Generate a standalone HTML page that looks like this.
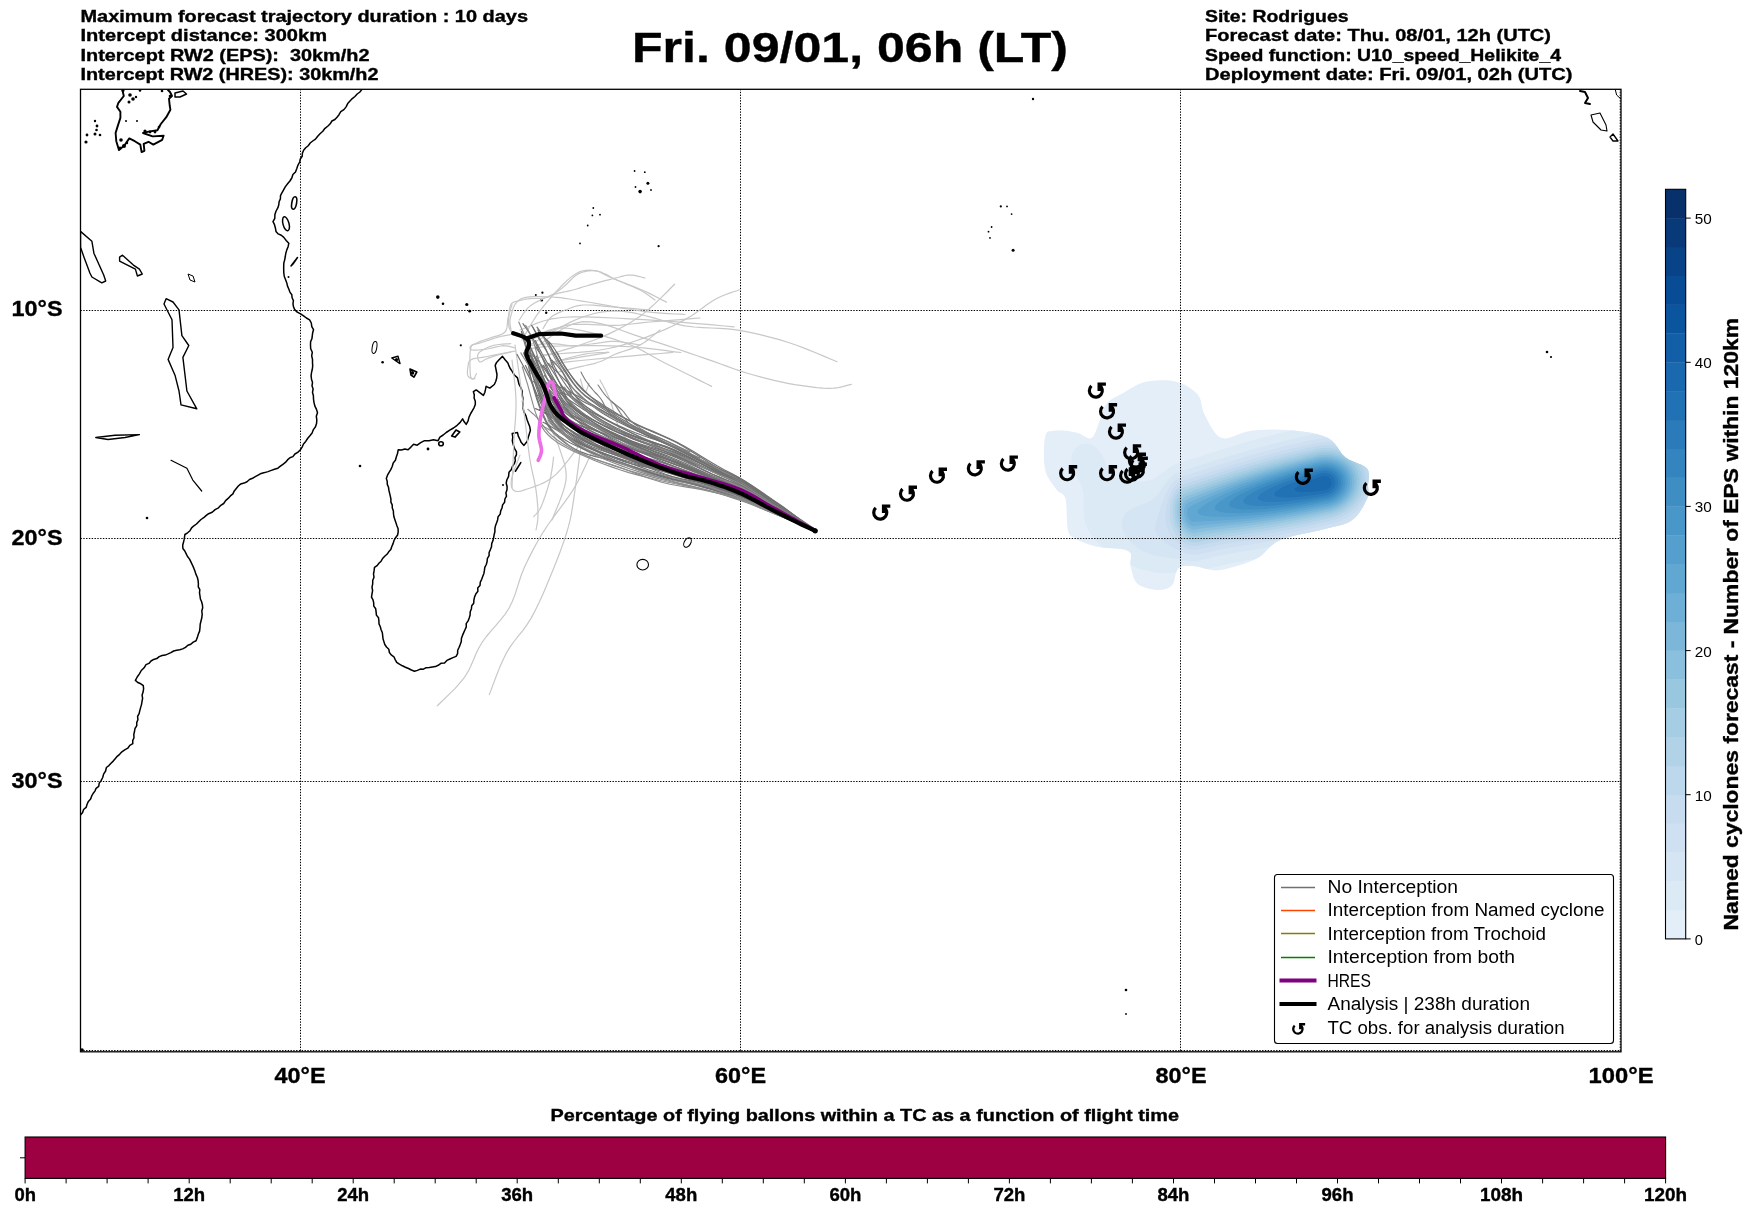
<!DOCTYPE html><html><head><meta charset="utf-8"><style>html,body{margin:0;padding:0;background:#fff;width:1752px;height:1213px;overflow:hidden}svg{display:block;will-change:transform}text{font-family:"Liberation Sans",sans-serif}</style></head><body>
<svg width="1752" height="1213" viewBox="0 0 1752 1213">
<rect width="1752" height="1213" fill="#fff"/>
<text x="80.5" y="22.0" font-size="16.5" font-weight="bold" text-anchor="start" fill="#000" stroke="#000" stroke-width="0.35" textLength="447.5" lengthAdjust="spacingAndGlyphs" >Maximum forecast trajectory duration : 10 days</text>
<text x="80.5" y="41.3" font-size="16.5" font-weight="bold" text-anchor="start" fill="#000" stroke="#000" stroke-width="0.35" textLength="246.5" lengthAdjust="spacingAndGlyphs" >Intercept distance: 300km</text>
<text x="80.5" y="60.6" font-size="16.5" font-weight="bold" text-anchor="start" fill="#000" stroke="#000" stroke-width="0.35" textLength="289.0" lengthAdjust="spacingAndGlyphs" >Intercept RW2 (EPS):  30km/h2</text>
<text x="80.5" y="79.9" font-size="16.5" font-weight="bold" text-anchor="start" fill="#000" stroke="#000" stroke-width="0.35" textLength="298.0" lengthAdjust="spacingAndGlyphs" >Intercept RW2 (HRES): 30km/h2</text>
<text x="1205" y="22.0" font-size="16.5" font-weight="bold" text-anchor="start" fill="#000" stroke="#000" stroke-width="0.35" textLength="143.5" lengthAdjust="spacingAndGlyphs" >Site: Rodrigues</text>
<text x="1205" y="41.3" font-size="16.5" font-weight="bold" text-anchor="start" fill="#000" stroke="#000" stroke-width="0.35" textLength="346.0" lengthAdjust="spacingAndGlyphs" >Forecast date: Thu. 08/01, 12h (UTC)</text>
<text x="1205" y="60.6" font-size="16.5" font-weight="bold" text-anchor="start" fill="#000" stroke="#000" stroke-width="0.35" textLength="356.0" lengthAdjust="spacingAndGlyphs" >Speed function: U10_speed_Helikite_4</text>
<text x="1205" y="79.9" font-size="16.5" font-weight="bold" text-anchor="start" fill="#000" stroke="#000" stroke-width="0.35" textLength="367.5" lengthAdjust="spacingAndGlyphs" >Deployment date: Fri. 09/01, 02h (UTC)</text>
<text x="632" y="61.8" font-size="42.6" font-weight="bold" text-anchor="start" fill="#000" stroke="#000" stroke-width="0.35" textLength="436" lengthAdjust="spacingAndGlyphs" >Fri. 09/01, 06h (LT)</text>
<defs><clipPath id="mc"><rect x="80.5" y="89.5" width="1540.5" height="962"/></clipPath></defs>
<g clip-path="url(#mc)">
<defs><clipPath id="bc"><polygon points="1046.0,433.7 1046.6,433.4 1047.4,432.9 1048.3,432.4 1049.4,431.8 1050.6,431.4 1052.0,431.0 1053.6,430.8 1055.3,430.6 1057.2,430.4 1059.2,430.4 1061.3,430.4 1063.4,430.5 1065.7,430.7 1068.1,431.0 1070.6,431.4 1073.1,431.9 1075.6,432.4 1078.0,433.0 1080.4,434.0 1082.8,435.4 1085.2,436.8 1087.5,438.0 1089.6,438.6 1091.6,438.1 1093.3,436.4 1094.8,433.7 1096.2,430.4 1097.5,426.8 1098.8,423.2 1100.0,420.0 1101.1,417.1 1102.0,414.1 1102.8,411.2 1103.8,408.5 1105.1,405.8 1106.8,403.4 1109.0,401.3 1111.6,399.3 1114.5,397.6 1117.6,395.9 1120.8,394.2 1124.1,392.5 1127.4,390.6 1130.7,388.5 1134.1,386.4 1137.8,384.5 1141.6,382.9 1145.8,381.7 1150.5,380.9 1155.6,380.4 1161.0,380.2 1166.4,380.3 1171.5,380.8 1176.2,381.7 1180.5,383.0 1184.6,384.8 1188.5,387.0 1192.1,389.4 1195.3,392.0 1197.9,394.7 1199.7,397.5 1200.8,400.6 1201.4,403.8 1202.0,407.1 1202.9,410.6 1204.4,414.2 1206.5,418.3 1208.9,423.0 1211.6,427.8 1214.6,432.3 1217.9,435.9 1221.7,438.1 1225.9,438.6 1230.5,437.6 1235.4,435.8 1240.7,433.6 1246.3,431.7 1252.1,430.5 1258.4,430.0 1265.3,429.7 1272.4,429.6 1279.6,429.7 1286.7,430.0 1293.3,430.5 1299.7,431.2 1306.0,432.0 1312.1,433.1 1318.0,434.4 1323.3,436.1 1328.0,438.1 1331.8,440.8 1334.9,444.0 1337.5,447.6 1339.9,451.3 1342.4,454.7 1345.3,457.6 1348.9,459.8 1353.0,461.6 1357.2,463.2 1361.1,464.7 1364.5,466.4 1367.0,468.4 1368.4,470.9 1368.9,473.6 1368.9,476.5 1368.6,479.5 1368.2,482.3 1368.0,485.0 1368.1,487.4 1368.3,489.5 1368.5,491.6 1368.5,493.7 1368.0,496.1 1367.0,498.8 1365.4,502.1 1363.5,505.9 1361.1,510.0 1358.3,513.9 1355.2,517.5 1351.8,520.5 1348.0,522.7 1344.0,524.3 1339.5,525.5 1334.7,526.6 1329.4,527.8 1323.7,529.2 1317.1,530.8 1309.6,532.4 1301.6,534.1 1293.7,535.8 1286.5,537.8 1280.3,540.0 1275.4,542.6 1271.5,545.6 1268.1,548.8 1265.0,552.0 1262.0,554.9 1258.6,557.4 1255.0,559.4 1251.4,561.1 1247.8,562.5 1244.1,563.8 1240.5,564.9 1236.9,566.0 1233.3,567.1 1229.7,568.1 1226.1,569.0 1222.4,569.7 1218.8,570.2 1215.2,570.4 1211.5,570.1 1207.7,569.3 1203.9,568.3 1200.3,567.3 1196.7,566.5 1193.5,566.0 1190.5,565.8 1187.6,565.7 1185.0,565.7 1182.5,566.1 1180.3,566.9 1178.3,568.2 1176.8,570.4 1175.8,573.4 1175.0,576.8 1174.3,580.2 1173.3,583.3 1171.8,585.6 1169.8,587.2 1167.5,588.4 1165.0,589.2 1162.3,589.8 1159.5,590.0 1156.6,589.9 1153.4,589.6 1149.9,588.9 1146.3,588.0 1142.8,586.8 1139.6,585.2 1137.1,583.4 1135.2,581.1 1133.8,578.3 1132.8,575.2 1132.0,572.0 1131.3,568.9 1130.6,566.0 1130.3,563.2 1130.7,560.4 1131.1,557.6 1131.2,555.1 1130.5,552.8 1128.4,550.9 1124.6,549.6 1119.4,548.8 1113.4,548.3 1107.1,547.9 1101.0,547.4 1095.9,546.5 1091.5,545.3 1087.3,543.9 1083.4,542.5 1079.9,540.9 1076.8,539.4 1074.2,537.9 1072.2,536.7 1070.7,535.8 1069.7,534.9 1069.0,533.7 1068.4,531.9 1067.7,529.2 1067.2,525.1 1066.9,519.9 1066.7,514.0 1066.5,508.1 1066.2,502.9 1065.5,498.8 1064.5,496.2 1063.2,494.6 1061.7,493.6 1060.2,492.8 1058.5,491.8 1056.9,490.1 1055.1,487.8 1053.1,485.1 1051.0,482.3 1049.1,479.2 1047.3,476.0 1046.0,472.8 1045.1,469.4 1044.5,465.7 1044.1,462.0 1044.0,458.2 1043.9,454.5 1043.9,451.1 1044.0,447.8 1044.1,444.4 1044.4,441.2 1044.9,438.3 1045.4,435.7 1046.0,433.7 1046.8,432.4 1047.9,431.6 1049.1,431.3 1050.3,431.2 1051.3,431.1 1052.0,431.0"/></clipPath></defs>
<polygon points="1046.0,433.7 1046.6,433.4 1047.4,432.9 1048.3,432.4 1049.4,431.8 1050.6,431.4 1052.0,431.0 1053.6,430.8 1055.3,430.6 1057.2,430.4 1059.2,430.4 1061.3,430.4 1063.4,430.5 1065.7,430.7 1068.1,431.0 1070.6,431.4 1073.1,431.9 1075.6,432.4 1078.0,433.0 1080.4,434.0 1082.8,435.4 1085.2,436.8 1087.5,438.0 1089.6,438.6 1091.6,438.1 1093.3,436.4 1094.8,433.7 1096.2,430.4 1097.5,426.8 1098.8,423.2 1100.0,420.0 1101.1,417.1 1102.0,414.1 1102.8,411.2 1103.8,408.5 1105.1,405.8 1106.8,403.4 1109.0,401.3 1111.6,399.3 1114.5,397.6 1117.6,395.9 1120.8,394.2 1124.1,392.5 1127.4,390.6 1130.7,388.5 1134.1,386.4 1137.8,384.5 1141.6,382.9 1145.8,381.7 1150.5,380.9 1155.6,380.4 1161.0,380.2 1166.4,380.3 1171.5,380.8 1176.2,381.7 1180.5,383.0 1184.6,384.8 1188.5,387.0 1192.1,389.4 1195.3,392.0 1197.9,394.7 1199.7,397.5 1200.8,400.6 1201.4,403.8 1202.0,407.1 1202.9,410.6 1204.4,414.2 1206.5,418.3 1208.9,423.0 1211.6,427.8 1214.6,432.3 1217.9,435.9 1221.7,438.1 1225.9,438.6 1230.5,437.6 1235.4,435.8 1240.7,433.6 1246.3,431.7 1252.1,430.5 1258.4,430.0 1265.3,429.7 1272.4,429.6 1279.6,429.7 1286.7,430.0 1293.3,430.5 1299.7,431.2 1306.0,432.0 1312.1,433.1 1318.0,434.4 1323.3,436.1 1328.0,438.1 1331.8,440.8 1334.9,444.0 1337.5,447.6 1339.9,451.3 1342.4,454.7 1345.3,457.6 1348.9,459.8 1353.0,461.6 1357.2,463.2 1361.1,464.7 1364.5,466.4 1367.0,468.4 1368.4,470.9 1368.9,473.6 1368.9,476.5 1368.6,479.5 1368.2,482.3 1368.0,485.0 1368.1,487.4 1368.3,489.5 1368.5,491.6 1368.5,493.7 1368.0,496.1 1367.0,498.8 1365.4,502.1 1363.5,505.9 1361.1,510.0 1358.3,513.9 1355.2,517.5 1351.8,520.5 1348.0,522.7 1344.0,524.3 1339.5,525.5 1334.7,526.6 1329.4,527.8 1323.7,529.2 1317.1,530.8 1309.6,532.4 1301.6,534.1 1293.7,535.8 1286.5,537.8 1280.3,540.0 1275.4,542.6 1271.5,545.6 1268.1,548.8 1265.0,552.0 1262.0,554.9 1258.6,557.4 1255.0,559.4 1251.4,561.1 1247.8,562.5 1244.1,563.8 1240.5,564.9 1236.9,566.0 1233.3,567.1 1229.7,568.1 1226.1,569.0 1222.4,569.7 1218.8,570.2 1215.2,570.4 1211.5,570.1 1207.7,569.3 1203.9,568.3 1200.3,567.3 1196.7,566.5 1193.5,566.0 1190.5,565.8 1187.6,565.7 1185.0,565.7 1182.5,566.1 1180.3,566.9 1178.3,568.2 1176.8,570.4 1175.8,573.4 1175.0,576.8 1174.3,580.2 1173.3,583.3 1171.8,585.6 1169.8,587.2 1167.5,588.4 1165.0,589.2 1162.3,589.8 1159.5,590.0 1156.6,589.9 1153.4,589.6 1149.9,588.9 1146.3,588.0 1142.8,586.8 1139.6,585.2 1137.1,583.4 1135.2,581.1 1133.8,578.3 1132.8,575.2 1132.0,572.0 1131.3,568.9 1130.6,566.0 1130.3,563.2 1130.7,560.4 1131.1,557.6 1131.2,555.1 1130.5,552.8 1128.4,550.9 1124.6,549.6 1119.4,548.8 1113.4,548.3 1107.1,547.9 1101.0,547.4 1095.9,546.5 1091.5,545.3 1087.3,543.9 1083.4,542.5 1079.9,540.9 1076.8,539.4 1074.2,537.9 1072.2,536.7 1070.7,535.8 1069.7,534.9 1069.0,533.7 1068.4,531.9 1067.7,529.2 1067.2,525.1 1066.9,519.9 1066.7,514.0 1066.5,508.1 1066.2,502.9 1065.5,498.8 1064.5,496.2 1063.2,494.6 1061.7,493.6 1060.2,492.8 1058.5,491.8 1056.9,490.1 1055.1,487.8 1053.1,485.1 1051.0,482.3 1049.1,479.2 1047.3,476.0 1046.0,472.8 1045.1,469.4 1044.5,465.7 1044.1,462.0 1044.0,458.2 1043.9,454.5 1043.9,451.1 1044.0,447.8 1044.1,444.4 1044.4,441.2 1044.9,438.3 1045.4,435.7 1046.0,433.7 1046.8,432.4 1047.9,431.6 1049.1,431.3 1050.3,431.2 1051.3,431.1 1052.0,431.0" fill="#e3eef9"/>
<g clip-path="url(#bc)">
<path d="M1316.0,425.7L1318.0,425.4L1320.0,425.2L1322.0,425.0L1324.0,424.8L1326.0,424.7L1328.0,424.6L1330.0,424.6L1332.0,424.6L1334.0,424.6L1336.0,424.7L1338.0,424.8L1340.0,424.9L1342.0,425.0L1344.0,425.2L1346.0,425.5L1348.0,425.8L1349.4,426.0L1350.0,426.1L1352.0,426.4L1354.0,426.8L1356.0,427.2L1358.0,427.6L1359.7,428.0L1360.0,428.1L1362.0,428.5L1364.0,429.0L1366.0,429.6L1367.4,430.0L1368.0,430.2L1370.0,430.8L1372.0,431.4L1373.9,432.0L1374.0,432.0L1376.0,432.7L1378.0,433.4L1379.6,434.0L1380.0,434.2L1382.0,434.9L1384.0,435.7L1384.8,436.0L1386.0,436.5L1388.0,437.4L1388.0,438.0L1388.0,440.0L1388.0,442.0L1388.0,444.0L1388.0,446.0L1388.0,448.0L1388.0,450.0L1388.0,452.0L1388.0,454.0L1388.0,456.0L1388.0,458.0L1388.0,460.0L1388.0,462.0L1388.0,464.0L1388.0,466.0L1388.0,468.0L1388.0,470.0L1388.0,472.0L1388.0,474.0L1388.0,476.0L1388.0,478.0L1388.0,480.0L1388.0,482.0L1388.0,484.0L1388.0,486.0L1388.0,488.0L1388.0,490.0L1388.0,492.0L1388.0,494.0L1388.0,496.0L1388.0,498.0L1388.0,500.0L1388.0,502.0L1388.0,504.0L1388.0,506.0L1388.0,508.0L1388.0,510.0L1388.0,510.9L1386.8,512.0L1386.0,512.8L1384.6,514.0L1384.0,514.5L1382.3,516.0L1382.0,516.3L1380.0,517.9L1379.9,518.0L1378.0,519.5L1377.4,520.0L1376.0,521.1L1374.8,522.0L1374.0,522.6L1372.0,524.0L1372.0,524.0L1370.0,525.4L1369.0,526.0L1368.0,526.7L1366.0,527.9L1365.9,528.0L1364.0,529.1L1362.5,530.0L1362.0,530.3L1360.0,531.4L1358.8,532.0L1358.0,532.4L1356.0,533.4L1354.8,534.0L1354.0,534.4L1352.0,535.3L1350.3,536.0L1350.0,536.1L1348.0,537.0L1346.0,537.8L1345.3,538.0L1344.0,538.5L1342.0,539.2L1340.0,539.8L1339.4,540.0L1338.0,540.5L1336.0,541.1L1334.0,541.6L1332.5,542.0L1332.0,542.1L1330.0,542.7L1328.0,543.3L1326.0,543.8L1325.2,544.0L1324.0,544.3L1322.0,544.9L1320.0,545.4L1318.0,545.9L1317.6,546.0L1316.0,546.4L1314.0,546.9L1312.0,547.4L1310.0,547.9L1309.6,548.0L1308.0,548.4L1306.0,548.9L1304.0,549.4L1302.0,549.8L1301.3,550.0L1300.0,550.3L1298.0,550.8L1296.0,551.2L1294.0,551.7L1292.4,552.0L1292.0,552.1L1290.0,552.6L1288.0,553.0L1286.0,553.4L1284.0,553.8L1282.9,554.0L1282.0,554.2L1280.0,554.6L1278.0,555.0L1276.0,555.4L1274.0,555.8L1272.6,556.0L1272.0,556.1L1270.0,556.5L1268.0,556.9L1266.0,557.2L1264.0,557.6L1262.0,557.9L1261.4,558.0L1260.0,558.3L1258.0,558.6L1256.0,559.0L1254.0,559.3L1252.0,559.6L1250.0,559.9L1249.6,560.0L1248.0,560.3L1246.0,560.6L1244.0,561.0L1242.0,561.3L1240.0,561.7L1238.1,562.0L1238.0,562.0L1236.0,562.4L1234.0,562.8L1232.0,563.2L1230.0,563.6L1228.0,564.0L1227.8,564.0L1226.0,564.4L1224.0,564.9L1222.0,565.3L1220.0,565.7L1218.9,566.0L1218.0,566.2L1216.0,566.7L1214.0,567.2L1212.0,567.7L1210.9,568.0L1210.0,568.2L1208.0,568.8L1206.0,569.3L1204.0,569.8L1203.4,570.0L1202.0,570.3L1200.0,570.8L1198.0,571.1L1196.0,571.4L1194.0,571.6L1192.0,571.8L1190.0,572.0L1189.9,572.0L1188.0,572.1L1186.0,572.3L1184.0,572.4L1182.0,572.5L1180.0,572.6L1178.0,572.7L1176.0,572.8L1174.0,572.9L1172.0,573.0L1170.0,573.1L1168.0,573.1L1166.0,573.1L1164.0,573.0L1162.0,573.0L1160.0,572.8L1158.0,572.7L1156.0,572.5L1154.0,572.2L1152.9,572.0L1152.0,571.9L1150.0,571.5L1148.0,571.1L1146.0,570.6L1144.0,570.1L1143.8,570.0L1142.0,569.5L1140.0,568.9L1138.0,568.2L1137.5,568.0L1136.0,567.4L1134.0,566.6L1132.5,566.0L1132.0,565.8L1130.0,564.9L1128.1,564.0L1128.0,564.0L1126.0,563.0L1124.2,562.0L1124.0,561.9L1122.0,560.8L1120.6,560.0L1120.0,559.7L1118.0,558.5L1117.3,558.0L1116.0,557.2L1114.2,556.0L1114.0,555.9L1112.0,554.5L1111.2,554.0L1110.0,553.1L1108.5,552.0L1108.0,551.6L1106.0,550.1L1105.9,550.0L1104.0,548.5L1103.4,548.0L1102.0,546.7L1101.2,546.0L1100.0,544.9L1099.0,544.0L1098.0,543.0L1097.0,542.0L1096.0,540.9L1095.2,540.0L1094.0,538.5L1093.6,538.0L1092.0,536.0L1092.0,536.0L1090.7,534.0L1090.0,532.9L1089.4,532.0L1088.3,530.0L1088.0,529.3L1087.4,528.0L1086.5,526.0L1086.0,524.4L1085.8,524.0L1085.3,522.0L1084.8,520.0L1084.4,518.0L1084.1,516.0L1084.0,514.9L1083.9,514.0L1083.8,512.0L1083.7,510.0L1083.7,508.0L1083.7,506.0L1083.7,504.0L1083.8,502.0L1083.8,500.0L1083.8,498.0L1083.7,496.0L1083.5,494.0L1083.3,492.0L1082.8,490.0L1082.3,488.0L1082.0,487.3L1081.6,486.0L1080.7,484.0L1080.0,482.7L1079.7,482.0L1078.6,480.0L1078.0,478.9L1077.5,478.0L1076.4,476.0L1076.0,475.3L1075.4,474.0L1074.4,472.0L1074.0,471.1L1073.5,470.0L1072.8,468.0L1072.2,466.0L1072.0,465.0L1071.8,464.0L1071.5,462.0L1071.4,460.0L1071.5,458.0L1071.8,456.0L1072.0,455.1L1072.3,454.0L1073.1,452.0L1074.0,450.3L1074.2,450.0L1075.8,448.0L1076.0,447.8L1078.0,446.1L1078.2,446.0L1080.0,445.0L1082.0,444.2L1083.1,444.0L1084.0,443.8L1086.0,443.7L1088.0,443.9L1088.6,444.0L1090.0,444.3L1092.0,445.1L1093.7,446.0L1094.0,446.2L1096.0,447.6L1096.4,448.0L1098.0,449.5L1098.4,450.0L1100.0,452.0L1100.0,452.0L1101.3,454.0L1102.0,455.3L1102.4,456.0L1103.3,458.0L1104.0,459.6L1104.2,460.0L1105.0,462.0L1105.7,464.0L1106.0,464.7L1106.5,466.0L1107.4,468.0L1108.0,469.2L1108.4,470.0L1109.6,472.0L1110.0,472.5L1111.3,474.0L1112.0,474.7L1113.5,476.0L1114.0,476.3L1116.0,477.5L1116.9,478.0L1118.0,478.5L1120.0,479.2L1122.0,479.8L1122.7,480.0L1124.0,480.3L1126.0,480.7L1128.0,481.0L1130.0,481.2L1132.0,481.4L1134.0,481.5L1136.0,481.6L1138.0,481.6L1140.0,481.6L1142.0,481.5L1144.0,481.3L1146.0,481.1L1148.0,480.7L1150.0,480.1L1150.4,480.0L1152.0,479.4L1154.0,478.5L1154.8,478.0L1156.0,477.3L1158.0,476.0L1158.0,476.0L1160.0,474.5L1160.6,474.0L1162.0,472.9L1163.2,472.0L1164.0,471.3L1165.8,470.0L1166.0,469.8L1168.0,468.4L1168.5,468.0L1170.0,467.0L1171.7,466.0L1172.0,465.8L1174.0,464.8L1175.7,464.0L1176.0,463.9L1178.0,463.1L1180.0,462.5L1181.8,462.0L1182.0,461.9L1184.0,461.3L1186.0,460.7L1188.0,460.2L1188.6,460.0L1190.0,459.6L1192.0,458.9L1194.0,458.3L1195.1,458.0L1196.0,457.7L1198.0,457.1L1200.0,456.4L1201.5,456.0L1202.0,455.8L1204.0,455.2L1206.0,454.5L1207.7,454.0L1208.0,453.9L1210.0,453.2L1212.0,452.6L1214.0,452.0L1214.0,452.0L1216.0,451.3L1218.0,450.7L1220.0,450.1L1220.3,450.0L1222.0,449.4L1224.0,448.8L1226.0,448.2L1226.7,448.0L1228.0,447.6L1230.0,446.9L1232.0,446.3L1233.2,446.0L1234.0,445.7L1236.0,445.1L1238.0,444.5L1239.9,444.0L1240.0,444.0L1242.0,443.3L1244.0,442.8L1246.0,442.2L1246.7,442.0L1248.0,441.6L1250.0,441.0L1252.0,440.5L1253.9,440.0L1254.0,440.0L1256.0,439.4L1258.0,438.8L1260.0,438.3L1261.2,438.0L1262.0,437.8L1264.0,437.2L1266.0,436.7L1268.0,436.2L1268.9,436.0L1270.0,435.7L1272.0,435.2L1274.0,434.7L1276.0,434.2L1277.0,434.0L1278.0,433.7L1280.0,433.2L1282.0,432.8L1284.0,432.3L1285.5,432.0L1286.0,431.9L1288.0,431.4L1290.0,430.9L1292.0,430.5L1294.0,430.1L1294.4,430.0L1296.0,429.6L1298.0,429.2L1300.0,428.8L1302.0,428.4L1303.8,428.0L1304.0,428.0L1306.0,427.5L1308.0,427.1L1310.0,426.7L1312.0,426.3L1314.0,426.0L1314.1,426.0Z" fill="#dceaf6" fill-rule="nonzero"/>
<path d="M1318.0,433.8L1320.0,433.5L1322.0,433.3L1324.0,433.2L1326.0,433.1L1328.0,433.1L1330.0,433.1L1332.0,433.1L1334.0,433.2L1336.0,433.4L1338.0,433.6L1340.0,433.9L1340.8,434.0L1342.0,434.2L1344.0,434.5L1346.0,434.9L1348.0,435.4L1350.0,435.9L1350.2,436.0L1352.0,436.5L1354.0,437.2L1356.0,437.9L1356.3,438.0L1358.0,438.6L1360.0,439.5L1361.2,440.0L1362.0,440.4L1364.0,441.3L1365.2,442.0L1366.0,442.4L1368.0,443.5L1368.8,444.0L1370.0,444.8L1371.8,446.0L1372.0,446.1L1374.0,447.6L1374.5,448.0L1376.0,449.2L1377.0,450.0L1378.0,451.0L1379.1,452.0L1380.0,452.9L1381.0,454.0L1382.0,455.2L1382.7,456.0L1384.0,457.8L1384.1,458.0L1385.4,460.0L1386.0,461.1L1386.5,462.0L1387.4,464.0L1388.0,465.8L1388.0,466.0L1388.0,468.0L1388.0,470.0L1388.0,472.0L1388.0,474.0L1388.0,476.0L1388.0,478.0L1388.0,480.0L1388.0,482.0L1388.0,484.0L1388.0,484.8L1387.7,486.0L1387.0,488.0L1386.2,490.0L1386.0,490.4L1385.3,492.0L1384.4,494.0L1384.0,494.6L1383.3,496.0L1382.1,498.0L1382.0,498.1L1380.8,500.0L1380.0,501.2L1379.5,502.0L1378.0,504.0L1378.0,504.0L1376.4,506.0L1376.0,506.4L1374.7,508.0L1374.0,508.7L1372.8,510.0L1372.0,510.9L1370.9,512.0L1370.0,512.8L1368.7,514.0L1368.0,514.6L1366.4,516.0L1366.0,516.4L1364.0,517.9L1363.9,518.0L1362.0,519.4L1361.2,520.0L1360.0,520.9L1358.2,522.0L1358.0,522.2L1356.0,523.4L1354.9,524.0L1354.0,524.6L1352.0,525.6L1351.3,526.0L1350.0,526.6L1348.0,527.6L1347.0,528.0L1346.0,528.5L1344.0,529.3L1342.1,530.0L1342.0,530.0L1340.0,530.8L1338.0,531.4L1336.0,532.0L1336.0,532.0L1334.0,532.6L1332.0,533.1L1330.0,533.6L1328.4,534.0L1328.0,534.1L1326.0,534.6L1324.0,535.2L1322.0,535.6L1320.5,536.0L1320.0,536.1L1318.0,536.6L1316.0,537.1L1314.0,537.6L1312.3,538.0L1312.0,538.1L1310.0,538.6L1308.0,539.0L1306.0,539.5L1304.0,539.9L1303.7,540.0L1302.0,540.4L1300.0,540.9L1298.0,541.3L1296.0,541.7L1294.7,542.0L1294.0,542.2L1292.0,542.6L1290.0,543.0L1288.0,543.4L1286.0,543.8L1285.1,544.0L1284.0,544.2L1282.0,544.6L1280.0,545.0L1278.0,545.4L1276.0,545.8L1274.8,546.0L1274.0,546.2L1272.0,546.5L1270.0,546.9L1268.0,547.3L1266.0,547.6L1264.0,547.9L1263.7,548.0L1262.0,548.3L1260.0,548.7L1258.0,549.0L1256.0,549.3L1254.0,549.7L1252.0,550.0L1251.8,550.0L1250.0,550.3L1248.0,550.7L1246.0,551.0L1244.0,551.3L1242.0,551.6L1240.0,552.0L1239.8,552.0L1238.0,552.3L1236.0,552.7L1234.0,553.0L1232.0,553.4L1230.0,553.8L1228.7,554.0L1228.0,554.1L1226.0,554.5L1224.0,554.9L1222.0,555.3L1220.0,555.8L1218.8,556.0L1218.0,556.2L1216.0,556.6L1214.0,557.1L1212.0,557.6L1210.1,558.0L1210.0,558.0L1208.0,558.5L1206.0,559.0L1204.0,559.5L1202.1,560.0L1202.0,560.0L1200.0,560.5L1198.0,560.8L1196.0,561.0L1194.0,561.1L1192.0,561.1L1190.0,561.0L1188.0,560.8L1186.0,560.6L1184.0,560.3L1182.4,560.0L1182.0,559.9L1180.0,559.6L1178.0,559.3L1176.0,558.9L1174.0,558.6L1172.0,558.2L1170.3,558.0L1170.0,558.0L1168.0,557.7L1166.0,557.4L1164.0,557.1L1162.0,556.9L1160.0,556.5L1158.0,556.2L1157.1,556.0L1156.0,555.8L1154.0,555.3L1152.0,554.7L1150.0,554.1L1149.8,554.0L1148.0,553.3L1146.0,552.5L1144.9,552.0L1144.0,551.6L1142.0,550.5L1141.1,550.0L1140.0,549.4L1138.0,548.1L1137.9,548.0L1136.0,546.6L1135.2,546.0L1134.0,545.0L1132.8,544.0L1132.0,543.3L1130.7,542.0L1130.0,541.3L1128.8,540.0L1128.0,539.0L1127.2,538.0L1126.0,536.3L1125.8,536.0L1124.6,534.0L1124.0,532.8L1123.6,532.0L1122.8,530.0L1122.2,528.0L1122.0,526.9L1121.8,526.0L1121.7,524.0L1121.8,522.0L1122.0,520.7L1122.1,520.0L1122.8,518.0L1123.8,516.0L1124.0,515.8L1125.3,514.0L1126.0,513.2L1127.2,512.0L1128.0,511.4L1129.8,510.0L1130.0,509.9L1132.0,508.7L1133.3,508.0L1134.0,507.7L1136.0,506.8L1137.9,506.0L1138.0,505.9L1140.0,505.2L1142.0,504.5L1143.4,504.0L1144.0,503.8L1146.0,503.0L1148.0,502.2L1148.3,502.0L1150.0,501.1L1151.8,500.0L1152.0,499.9L1154.0,498.3L1154.2,498.0L1156.0,496.2L1156.2,496.0L1157.8,494.0L1158.0,493.8L1159.3,492.0L1160.0,491.1L1160.7,490.0L1162.0,488.2L1162.1,488.0L1163.5,486.0L1164.0,485.3L1164.9,484.0L1166.0,482.6L1166.5,482.0L1168.0,480.2L1168.2,480.0L1170.0,478.1L1170.1,478.0L1172.0,476.2L1172.3,476.0L1174.0,474.7L1175.0,474.0L1176.0,473.3L1178.0,472.3L1178.7,472.0L1180.0,471.4L1182.0,470.8L1184.0,470.2L1184.8,470.0L1186.0,469.6L1188.0,469.0L1190.0,468.4L1191.5,468.0L1192.0,467.8L1194.0,467.2L1196.0,466.6L1198.0,466.0L1198.0,466.0L1200.0,465.3L1202.0,464.7L1204.0,464.1L1204.4,464.0L1206.0,463.5L1208.0,462.8L1210.0,462.2L1210.7,462.0L1212.0,461.6L1214.0,460.9L1216.0,460.3L1217.0,460.0L1218.0,459.7L1220.0,459.0L1222.0,458.4L1223.4,458.0L1224.0,457.8L1226.0,457.2L1228.0,456.6L1229.9,456.0L1230.0,456.0L1232.0,455.3L1234.0,454.7L1236.0,454.1L1236.5,454.0L1238.0,453.5L1240.0,452.9L1242.0,452.4L1243.3,452.0L1244.0,451.8L1246.0,451.2L1248.0,450.6L1250.0,450.1L1250.2,450.0L1252.0,449.5L1254.0,448.9L1256.0,448.4L1257.4,448.0L1258.0,447.8L1260.0,447.3L1262.0,446.7L1264.0,446.2L1264.8,446.0L1266.0,445.7L1268.0,445.1L1270.0,444.6L1272.0,444.1L1272.5,444.0L1274.0,443.6L1276.0,443.1L1278.0,442.6L1280.0,442.1L1280.5,442.0L1282.0,441.6L1284.0,441.1L1286.0,440.6L1288.0,440.2L1288.8,440.0L1290.0,439.7L1292.0,439.2L1294.0,438.8L1296.0,438.3L1297.5,438.0L1298.0,437.9L1300.0,437.4L1302.0,437.0L1304.0,436.5L1306.0,436.1L1306.5,436.0L1308.0,435.7L1310.0,435.2L1312.0,434.8L1314.0,434.4L1316.0,434.1L1316.6,434.0Z" fill="#d5e5f4" fill-rule="nonzero"/>
<path d="M1314.0,439.6L1316.0,439.2L1318.0,438.9L1320.0,438.6L1322.0,438.5L1324.0,438.3L1326.0,438.3L1328.0,438.2L1330.0,438.3L1332.0,438.4L1334.0,438.5L1336.0,438.7L1338.0,439.0L1340.0,439.3L1342.0,439.8L1343.0,440.0L1344.0,440.2L1346.0,440.8L1348.0,441.4L1349.7,442.0L1350.0,442.1L1352.0,442.8L1354.0,443.7L1354.6,444.0L1356.0,444.6L1358.0,445.7L1358.5,446.0L1360.0,446.8L1361.8,448.0L1362.0,448.1L1364.0,449.5L1364.6,450.0L1366.0,451.1L1367.1,452.0L1368.0,452.8L1369.2,454.0L1370.0,454.8L1371.1,456.0L1372.0,457.1L1372.7,458.0L1374.0,459.8L1374.1,460.0L1375.4,462.0L1376.0,463.2L1376.4,464.0L1377.3,466.0L1378.0,467.9L1378.0,468.0L1378.6,470.0L1379.1,472.0L1379.4,474.0L1379.5,476.0L1379.6,478.0L1379.5,480.0L1379.3,482.0L1379.0,484.0L1378.6,486.0L1378.0,488.0L1378.0,488.0L1377.4,490.0L1376.6,492.0L1376.0,493.4L1375.8,494.0L1374.8,496.0L1374.0,497.4L1373.7,498.0L1372.5,500.0L1372.0,500.7L1371.1,502.0L1370.0,503.5L1369.7,504.0L1368.0,506.0L1368.0,506.0L1366.3,508.0L1366.0,508.3L1364.3,510.0L1364.0,510.3L1362.2,512.0L1362.0,512.2L1360.0,513.9L1359.8,514.0L1358.0,515.5L1357.3,516.0L1356.0,516.9L1354.4,518.0L1354.0,518.3L1352.0,519.5L1351.1,520.0L1350.0,520.7L1348.0,521.7L1347.4,522.0L1346.0,522.7L1344.0,523.6L1343.1,524.0L1342.0,524.5L1340.0,525.2L1338.0,525.9L1337.7,526.0L1336.0,526.6L1334.0,527.1L1332.0,527.6L1330.4,528.0L1330.0,528.1L1328.0,528.6L1326.0,529.1L1324.0,529.6L1322.3,530.0L1322.0,530.1L1320.0,530.6L1318.0,531.1L1316.0,531.5L1314.0,532.0L1313.8,532.0L1312.0,532.4L1310.0,532.9L1308.0,533.4L1306.0,533.8L1305.1,534.0L1304.0,534.3L1302.0,534.7L1300.0,535.2L1298.0,535.6L1296.0,536.0L1295.9,536.0L1294.0,536.4L1292.0,536.8L1290.0,537.3L1288.0,537.7L1286.2,538.0L1286.0,538.0L1284.0,538.5L1282.0,538.9L1280.0,539.2L1278.0,539.6L1276.0,540.0L1275.8,540.0L1274.0,540.3L1272.0,540.7L1270.0,541.1L1268.0,541.4L1266.0,541.8L1264.6,542.0L1264.0,542.1L1262.0,542.5L1260.0,542.8L1258.0,543.1L1256.0,543.5L1254.0,543.8L1252.6,544.0L1252.0,544.1L1250.0,544.4L1248.0,544.8L1246.0,545.1L1244.0,545.4L1242.0,545.7L1240.3,546.0L1240.0,546.1L1238.0,546.4L1236.0,546.7L1234.0,547.1L1232.0,547.4L1230.0,547.8L1228.6,548.0L1228.0,548.1L1226.0,548.5L1224.0,548.9L1222.0,549.2L1220.0,549.6L1218.1,550.0L1218.0,550.0L1216.0,550.4L1214.0,550.9L1212.0,551.3L1210.0,551.7L1208.8,552.0L1208.0,552.2L1206.0,552.7L1204.0,553.1L1202.0,553.6L1200.3,554.0L1200.0,554.1L1198.0,554.4L1196.0,554.6L1194.0,554.6L1192.0,554.5L1190.0,554.2L1188.9,554.0L1188.0,553.8L1186.0,553.3L1184.0,552.7L1182.2,552.0L1182.0,551.9L1180.0,551.1L1178.0,550.1L1177.7,550.0L1176.0,549.1L1174.0,548.0L1174.0,548.0L1172.0,546.9L1170.5,546.0L1170.0,545.6L1168.0,544.3L1167.5,544.0L1166.0,543.0L1164.6,542.0L1164.0,541.5L1162.1,540.0L1162.0,539.9L1160.0,538.1L1159.9,538.0L1158.1,536.0L1158.0,535.8L1156.8,534.0L1156.0,532.3L1155.8,532.0L1155.3,530.0L1155.0,528.0L1155.1,526.0L1155.5,524.0L1156.0,522.0L1156.0,521.9L1156.5,520.0L1157.2,518.0L1157.9,516.0L1158.0,515.7L1158.5,514.0L1159.1,512.0L1159.9,510.0L1160.0,509.6L1160.5,508.0L1161.1,506.0L1161.8,504.0L1162.0,503.6L1162.5,502.0L1163.2,500.0L1164.0,498.1L1164.0,498.0L1164.8,496.0L1165.7,494.0L1166.0,493.4L1166.7,492.0L1167.7,490.0L1168.0,489.5L1168.9,488.0L1170.0,486.3L1170.2,486.0L1171.8,484.0L1172.0,483.7L1173.6,482.0L1174.0,481.6L1175.8,480.0L1176.0,479.8L1178.0,478.4L1178.7,478.0L1180.0,477.3L1182.0,476.5L1183.7,476.0L1184.0,475.9L1186.0,475.3L1188.0,474.7L1190.0,474.1L1190.4,474.0L1192.0,473.5L1194.0,472.9L1196.0,472.3L1196.9,472.0L1198.0,471.6L1200.0,471.0L1202.0,470.4L1203.2,470.0L1204.0,469.7L1206.0,469.1L1208.0,468.5L1209.6,468.0L1210.0,467.9L1212.0,467.2L1214.0,466.6L1215.9,466.0L1216.0,466.0L1218.0,465.3L1220.0,464.7L1222.0,464.1L1222.2,464.0L1224.0,463.4L1226.0,462.8L1228.0,462.2L1228.7,462.0L1230.0,461.6L1232.0,460.9L1234.0,460.3L1235.2,460.0L1236.0,459.7L1238.0,459.1L1240.0,458.5L1241.9,458.0L1242.0,458.0L1244.0,457.3L1246.0,456.8L1248.0,456.2L1248.7,456.0L1250.0,455.6L1252.0,455.0L1254.0,454.5L1255.7,454.0L1256.0,453.9L1258.0,453.3L1260.0,452.8L1262.0,452.3L1263.0,452.0L1264.0,451.7L1266.0,451.2L1268.0,450.6L1270.0,450.1L1270.5,450.0L1272.0,449.6L1274.0,449.1L1276.0,448.5L1278.0,448.1L1278.2,448.0L1280.0,447.5L1282.0,447.0L1284.0,446.5L1286.0,446.1L1286.3,446.0L1288.0,445.6L1290.0,445.1L1292.0,444.6L1294.0,444.1L1294.6,444.0L1296.0,443.7L1298.0,443.2L1300.0,442.7L1302.0,442.3L1303.2,442.0L1304.0,441.8L1306.0,441.4L1308.0,440.9L1310.0,440.5L1312.0,440.0L1312.2,440.0Z" fill="#cee0f2" fill-rule="nonzero"/>
<path d="M1312.0,444.0L1314.0,443.5L1316.0,443.1L1318.0,442.7L1320.0,442.5L1322.0,442.3L1324.0,442.2L1326.0,442.1L1328.0,442.1L1330.0,442.2L1332.0,442.3L1334.0,442.5L1336.0,442.7L1338.0,443.1L1340.0,443.5L1342.0,444.0L1342.0,444.0L1344.0,444.5L1346.0,445.2L1348.0,446.0L1348.1,446.0L1350.0,446.8L1352.0,447.7L1352.5,448.0L1354.0,448.8L1356.0,450.0L1356.0,450.0L1358.0,451.3L1359.0,452.0L1360.0,452.8L1361.5,454.0L1362.0,454.5L1363.6,456.0L1364.0,456.4L1365.5,458.0L1366.0,458.6L1367.1,460.0L1368.0,461.3L1368.5,462.0L1369.7,464.0L1370.0,464.6L1370.7,466.0L1371.5,468.0L1372.0,469.4L1372.2,470.0L1372.8,472.0L1373.2,474.0L1373.4,476.0L1373.5,478.0L1373.5,480.0L1373.4,482.0L1373.2,484.0L1372.8,486.0L1372.3,488.0L1372.0,488.9L1371.7,490.0L1371.0,492.0L1370.1,494.0L1370.0,494.2L1369.1,496.0L1368.0,498.0L1368.0,498.0L1366.8,500.0L1366.0,501.1L1365.4,502.0L1364.0,503.8L1363.8,504.0L1362.1,506.0L1362.0,506.1L1360.2,508.0L1360.0,508.2L1358.1,510.0L1358.0,510.1L1356.0,511.8L1355.7,512.0L1354.0,513.3L1353.1,514.0L1352.0,514.8L1350.1,516.0L1350.0,516.0L1348.0,517.2L1346.6,518.0L1346.0,518.3L1344.0,519.3L1342.5,520.0L1342.0,520.2L1340.0,521.1L1338.0,521.8L1337.3,522.0L1336.0,522.5L1334.0,523.1L1332.0,523.6L1330.2,524.0L1330.0,524.0L1328.0,524.5L1326.0,525.0L1324.0,525.5L1322.0,526.0L1321.8,526.0L1320.0,526.4L1318.0,526.9L1316.0,527.4L1314.0,527.8L1313.2,528.0L1312.0,528.3L1310.0,528.7L1308.0,529.2L1306.0,529.6L1304.2,530.0L1304.0,530.0L1302.0,530.5L1300.0,530.9L1298.0,531.3L1296.0,531.8L1294.7,532.0L1294.0,532.2L1292.0,532.6L1290.0,533.0L1288.0,533.4L1286.0,533.8L1284.8,534.0L1284.0,534.2L1282.0,534.6L1280.0,534.9L1278.0,535.3L1276.0,535.7L1274.1,536.0L1274.0,536.0L1272.0,536.4L1270.0,536.8L1268.0,537.1L1266.0,537.4L1264.0,537.8L1262.6,538.0L1262.0,538.1L1260.0,538.4L1258.0,538.8L1256.0,539.1L1254.0,539.4L1252.0,539.7L1250.3,540.0L1250.0,540.0L1248.0,540.4L1246.0,540.7L1244.0,541.0L1242.0,541.3L1240.0,541.6L1238.0,541.9L1237.6,542.0L1236.0,542.3L1234.0,542.6L1232.0,542.9L1230.0,543.3L1228.0,543.6L1226.0,543.9L1225.6,544.0L1224.0,544.3L1222.0,544.7L1220.0,545.0L1218.0,545.4L1216.0,545.8L1214.9,546.0L1214.0,546.2L1212.0,546.6L1210.0,547.0L1208.0,547.4L1206.0,547.9L1205.3,548.0L1204.0,548.3L1202.0,548.8L1200.0,549.2L1198.0,549.6L1196.0,549.8L1194.0,549.8L1192.0,549.6L1190.0,549.2L1188.0,548.7L1186.3,548.0L1186.0,547.9L1184.0,547.0L1182.2,546.0L1182.0,545.9L1180.0,544.6L1179.1,544.0L1178.0,543.1L1176.7,542.0L1176.0,541.4L1174.6,540.0L1174.0,539.3L1172.8,538.0L1172.0,536.9L1171.3,536.0L1170.0,534.0L1170.0,534.0L1168.9,532.0L1168.0,530.0L1168.0,529.9L1167.3,528.0L1166.7,526.0L1166.2,524.0L1166.0,522.3L1165.9,522.0L1165.7,520.0L1165.6,518.0L1165.5,516.0L1165.6,514.0L1165.7,512.0L1165.9,510.0L1166.0,509.6L1166.2,508.0L1166.5,506.0L1166.9,504.0L1167.4,502.0L1168.0,500.0L1168.0,499.9L1168.6,498.0L1169.3,496.0L1170.0,494.4L1170.2,494.0L1171.1,492.0L1172.0,490.5L1172.3,490.0L1173.6,488.0L1174.0,487.5L1175.3,486.0L1176.0,485.2L1177.3,484.0L1178.0,483.4L1180.0,482.1L1180.1,482.0L1182.0,481.0L1184.0,480.3L1185.1,480.0L1186.0,479.7L1188.0,479.1L1190.0,478.5L1191.7,478.0L1192.0,477.9L1194.0,477.3L1196.0,476.6L1198.0,476.0L1198.1,476.0L1200.0,475.4L1202.0,474.7L1204.0,474.1L1204.3,474.0L1206.0,473.5L1208.0,472.8L1210.0,472.2L1210.6,472.0L1212.0,471.5L1214.0,470.9L1216.0,470.3L1216.8,470.0L1218.0,469.6L1220.0,469.0L1222.0,468.4L1223.1,468.0L1224.0,467.7L1226.0,467.1L1228.0,466.5L1229.5,466.0L1230.0,465.8L1232.0,465.2L1234.0,464.6L1236.0,464.0L1236.0,464.0L1238.0,463.4L1240.0,462.8L1242.0,462.2L1242.6,462.0L1244.0,461.6L1246.0,461.0L1248.0,460.4L1249.4,460.0L1250.0,459.8L1252.0,459.2L1254.0,458.7L1256.0,458.1L1256.4,458.0L1258.0,457.5L1260.0,457.0L1262.0,456.4L1263.5,456.0L1264.0,455.9L1266.0,455.3L1268.0,454.8L1270.0,454.2L1270.9,454.0L1272.0,453.7L1274.0,453.2L1276.0,452.6L1278.0,452.1L1278.6,452.0L1280.0,451.6L1282.0,451.1L1284.0,450.6L1286.0,450.1L1286.5,450.0L1288.0,449.6L1290.0,449.1L1292.0,448.6L1294.0,448.2L1294.7,448.0L1296.0,447.7L1298.0,447.2L1300.0,446.7L1302.0,446.2L1303.1,446.0L1304.0,445.8L1306.0,445.3L1308.0,444.8L1310.0,444.4L1311.8,444.0Z" fill="#c7dcef" fill-rule="nonzero"/>
<path d="M1318.0,445.9L1320.0,445.6L1322.0,445.4L1324.0,445.3L1326.0,445.2L1328.0,445.2L1330.0,445.3L1332.0,445.5L1334.0,445.7L1335.7,446.0L1336.0,446.0L1338.0,446.4L1340.0,446.9L1342.0,447.5L1343.6,448.0L1344.0,448.1L1346.0,448.9L1348.0,449.8L1348.5,450.0L1350.0,450.8L1352.0,451.9L1352.2,452.0L1354.0,453.1L1355.2,454.0L1356.0,454.6L1357.7,456.0L1358.0,456.2L1359.9,458.0L1360.0,458.1L1361.7,460.0L1362.0,460.4L1363.3,462.0L1364.0,463.1L1364.6,464.0L1365.7,466.0L1366.0,466.6L1366.7,468.0L1367.5,470.0L1368.0,471.8L1368.1,472.0L1368.5,474.0L1368.9,476.0L1369.0,478.0L1369.1,480.0L1369.0,482.0L1368.8,484.0L1368.4,486.0L1368.0,487.7L1367.9,488.0L1367.4,490.0L1366.6,492.0L1366.0,493.4L1365.7,494.0L1364.8,496.0L1364.0,497.3L1363.6,498.0L1362.3,500.0L1362.0,500.4L1360.8,502.0L1360.0,503.0L1359.2,504.0L1358.0,505.3L1357.3,506.0L1356.0,507.3L1355.2,508.0L1354.0,509.1L1352.9,510.0L1352.0,510.7L1350.2,512.0L1350.0,512.1L1348.0,513.5L1347.1,514.0L1346.0,514.7L1344.0,515.7L1343.4,516.0L1342.0,516.7L1340.0,517.6L1339.0,518.0L1338.0,518.4L1336.0,519.1L1334.0,519.7L1333.0,520.0L1332.0,520.3L1330.0,520.8L1328.0,521.2L1326.0,521.7L1324.6,522.0L1324.0,522.2L1322.0,522.6L1320.0,523.1L1318.0,523.5L1316.0,524.0L1315.9,524.0L1314.0,524.4L1312.0,524.9L1310.0,525.3L1308.0,525.8L1306.9,526.0L1306.0,526.2L1304.0,526.6L1302.0,527.1L1300.0,527.5L1298.0,527.9L1297.4,528.0L1296.0,528.3L1294.0,528.7L1292.0,529.1L1290.0,529.5L1288.0,529.9L1287.4,530.0L1286.0,530.3L1284.0,530.7L1282.0,531.1L1280.0,531.4L1278.0,531.8L1276.8,532.0L1276.0,532.1L1274.0,532.5L1272.0,532.9L1270.0,533.2L1268.0,533.6L1266.0,533.9L1265.3,534.0L1264.0,534.2L1262.0,534.6L1260.0,534.9L1258.0,535.2L1256.0,535.5L1254.0,535.8L1252.9,536.0L1252.0,536.1L1250.0,536.5L1248.0,536.8L1246.0,537.1L1244.0,537.4L1242.0,537.7L1240.0,538.0L1239.9,538.0L1238.0,538.3L1236.0,538.6L1234.0,538.9L1232.0,539.2L1230.0,539.5L1228.0,539.9L1227.1,540.0L1226.0,540.2L1224.0,540.5L1222.0,540.9L1220.0,541.2L1218.0,541.6L1216.0,541.9L1215.6,542.0L1214.0,542.3L1212.0,542.7L1210.0,543.1L1208.0,543.5L1206.0,543.9L1205.4,544.0L1204.0,544.3L1202.0,544.7L1200.0,545.1L1198.0,545.6L1196.0,545.8L1194.0,545.8L1192.0,545.6L1190.0,545.1L1188.0,544.4L1187.1,544.0L1186.0,543.5L1184.0,542.3L1183.5,542.0L1182.0,540.9L1180.9,540.0L1180.0,539.2L1178.8,538.0L1178.0,537.1L1177.0,536.0L1176.0,534.6L1175.5,534.0L1174.3,532.0L1174.0,531.4L1173.2,530.0L1172.3,528.0L1172.0,527.1L1171.6,526.0L1170.9,524.0L1170.5,522.0L1170.1,520.0L1170.0,519.3L1169.8,518.0L1169.6,516.0L1169.5,514.0L1169.5,512.0L1169.6,510.0L1169.8,508.0L1170.0,506.2L1170.0,506.0L1170.4,504.0L1170.8,502.0L1171.3,500.0L1172.0,498.0L1172.0,498.0L1172.8,496.0L1173.7,494.0L1174.0,493.5L1174.8,492.0L1176.0,490.3L1176.2,490.0L1178.0,488.0L1178.0,488.0L1180.0,486.3L1180.4,486.0L1182.0,485.0L1184.0,484.1L1184.4,484.0L1186.0,483.5L1188.0,482.9L1190.0,482.3L1190.8,482.0L1192.0,481.6L1194.0,481.0L1196.0,480.4L1197.1,480.0L1198.0,479.7L1200.0,479.1L1202.0,478.4L1203.3,478.0L1204.0,477.8L1206.0,477.1L1208.0,476.5L1209.5,476.0L1210.0,475.8L1212.0,475.2L1214.0,474.5L1215.7,474.0L1216.0,473.9L1218.0,473.2L1220.0,472.6L1221.9,472.0L1222.0,472.0L1224.0,471.3L1226.0,470.7L1228.0,470.0L1228.1,470.0L1230.0,469.4L1232.0,468.8L1234.0,468.1L1234.5,468.0L1236.0,467.5L1238.0,466.9L1240.0,466.3L1241.0,466.0L1242.0,465.7L1244.0,465.1L1246.0,464.5L1247.6,464.0L1248.0,463.9L1250.0,463.3L1252.0,462.7L1254.0,462.1L1254.5,462.0L1256.0,461.5L1258.0,461.0L1260.0,460.4L1261.5,460.0L1262.0,459.8L1264.0,459.3L1266.0,458.7L1268.0,458.2L1268.7,458.0L1270.0,457.6L1272.0,457.1L1274.0,456.6L1276.0,456.0L1276.1,456.0L1278.0,455.5L1280.0,455.0L1282.0,454.5L1283.8,454.0L1284.0,454.0L1286.0,453.4L1288.0,452.9L1290.0,452.4L1291.8,452.0L1292.0,451.9L1294.0,451.4L1296.0,450.9L1298.0,450.5L1300.0,450.0L1300.0,450.0L1302.0,449.5L1304.0,449.0L1306.0,448.6L1308.0,448.1L1308.5,448.0L1310.0,447.6L1312.0,447.2L1314.0,446.7L1316.0,446.3L1317.6,446.0Z" fill="#bdd7ec" fill-rule="nonzero"/>
<path d="M1326.0,448.0L1328.0,448.0L1328.2,448.0L1330.0,448.1L1332.0,448.3L1334.0,448.5L1336.0,448.9L1338.0,449.3L1340.0,449.9L1340.3,450.0L1342.0,450.5L1344.0,451.3L1345.6,452.0L1346.0,452.2L1348.0,453.2L1349.4,454.0L1350.0,454.3L1352.0,455.6L1352.5,456.0L1354.0,457.2L1355.0,458.0L1356.0,458.9L1357.1,460.0L1358.0,461.0L1358.9,462.0L1360.0,463.5L1360.4,464.0L1361.6,466.0L1362.0,466.7L1362.7,468.0L1363.5,470.0L1364.0,471.4L1364.2,472.0L1364.8,474.0L1365.1,476.0L1365.4,478.0L1365.4,480.0L1365.4,482.0L1365.2,484.0L1364.8,486.0L1364.4,488.0L1364.0,489.2L1363.8,490.0L1363.0,492.0L1362.1,494.0L1362.0,494.2L1361.1,496.0L1360.0,497.8L1359.9,498.0L1358.5,500.0L1358.0,500.6L1356.9,502.0L1356.0,503.0L1355.1,504.0L1354.0,505.1L1353.1,506.0L1352.0,507.0L1350.8,508.0L1350.0,508.6L1348.1,510.0L1348.0,510.1L1346.0,511.4L1345.0,512.0L1344.0,512.6L1342.0,513.6L1341.3,514.0L1340.0,514.6L1338.0,515.5L1336.5,516.0L1336.0,516.2L1334.0,516.9L1332.0,517.5L1330.0,517.9L1329.6,518.0L1328.0,518.4L1326.0,518.9L1324.0,519.3L1322.0,519.8L1320.9,520.0L1320.0,520.2L1318.0,520.7L1316.0,521.1L1314.0,521.5L1312.0,522.0L1311.9,522.0L1310.0,522.4L1308.0,522.9L1306.0,523.3L1304.0,523.7L1302.5,524.0L1302.0,524.1L1300.0,524.5L1298.0,524.9L1296.0,525.3L1294.0,525.7L1292.6,526.0L1292.0,526.1L1290.0,526.5L1288.0,526.9L1286.0,527.3L1284.0,527.7L1282.1,528.0L1282.0,528.0L1280.0,528.4L1278.0,528.8L1276.0,529.1L1274.0,529.5L1272.0,529.8L1270.9,530.0L1270.0,530.2L1268.0,530.5L1266.0,530.8L1264.0,531.2L1262.0,531.5L1260.0,531.8L1258.6,532.0L1258.0,532.1L1256.0,532.4L1254.0,532.7L1252.0,533.0L1250.0,533.3L1248.0,533.6L1246.0,533.9L1245.5,534.0L1244.0,534.2L1242.0,534.5L1240.0,534.8L1238.0,535.1L1236.0,535.4L1234.0,535.7L1232.0,536.0L1231.9,536.0L1230.0,536.3L1228.0,536.6L1226.0,536.9L1224.0,537.2L1222.0,537.6L1220.0,537.9L1219.2,538.0L1218.0,538.2L1216.0,538.6L1214.0,538.9L1212.0,539.3L1210.0,539.6L1208.0,540.0L1207.9,540.0L1206.0,540.4L1204.0,540.8L1202.0,541.2L1200.0,541.6L1198.0,542.0L1197.9,542.0L1196.0,542.3L1194.0,542.3L1192.0,542.0L1192.0,542.0L1190.0,541.5L1188.0,540.7L1186.7,540.0L1186.0,539.6L1184.0,538.2L1183.7,538.0L1182.0,536.5L1181.5,536.0L1180.0,534.3L1179.7,534.0L1178.3,532.0L1178.0,531.6L1177.0,530.0L1176.0,528.1L1176.0,528.0L1175.1,526.0L1174.3,524.0L1174.0,522.9L1173.7,522.0L1173.2,520.0L1172.9,518.0L1172.6,516.0L1172.5,514.0L1172.4,512.0L1172.4,510.0L1172.6,508.0L1172.8,506.0L1173.1,504.0L1173.6,502.0L1174.0,500.6L1174.2,500.0L1174.9,498.0L1175.8,496.0L1176.0,495.7L1177.0,494.0L1178.0,492.5L1178.4,492.0L1180.0,490.3L1180.3,490.0L1182.0,488.7L1183.2,488.0L1184.0,487.6L1186.0,486.9L1188.0,486.3L1188.8,486.0L1190.0,485.6L1192.0,485.0L1194.0,484.3L1195.0,484.0L1196.0,483.7L1198.0,483.0L1200.0,482.4L1201.1,482.0L1202.0,481.7L1204.0,481.1L1206.0,480.4L1207.2,480.0L1208.0,479.7L1210.0,479.1L1212.0,478.4L1213.3,478.0L1214.0,477.8L1216.0,477.1L1218.0,476.4L1219.3,476.0L1220.0,475.8L1222.0,475.1L1224.0,474.5L1225.5,474.0L1226.0,473.8L1228.0,473.2L1230.0,472.5L1231.7,472.0L1232.0,471.9L1234.0,471.2L1236.0,470.6L1238.0,470.0L1238.0,470.0L1240.0,469.4L1242.0,468.7L1244.0,468.1L1244.5,468.0L1246.0,467.5L1248.0,466.9L1250.0,466.3L1251.1,466.0L1252.0,465.7L1254.0,465.1L1256.0,464.5L1257.9,464.0L1258.0,464.0L1260.0,463.4L1262.0,462.8L1264.0,462.3L1264.9,462.0L1266.0,461.7L1268.0,461.1L1270.0,460.6L1272.0,460.0L1272.2,460.0L1274.0,459.5L1276.0,458.9L1278.0,458.4L1279.6,458.0L1280.0,457.9L1282.0,457.4L1284.0,456.8L1286.0,456.3L1287.3,456.0L1288.0,455.8L1290.0,455.3L1292.0,454.8L1294.0,454.3L1295.2,454.0L1296.0,453.8L1298.0,453.3L1300.0,452.8L1302.0,452.3L1303.4,452.0L1304.0,451.9L1306.0,451.4L1308.0,450.9L1310.0,450.4L1311.8,450.0L1312.0,450.0L1314.0,449.5L1316.0,449.0L1318.0,448.6L1320.0,448.4L1322.0,448.1L1324.0,448.0L1324.8,448.0Z" fill="#b2d2e8" fill-rule="nonzero"/>
<path d="M1314.0,452.0L1316.0,451.5L1318.0,451.1L1320.0,450.8L1322.0,450.6L1324.0,450.4L1326.0,450.4L1328.0,450.4L1330.0,450.5L1332.0,450.8L1334.0,451.1L1336.0,451.5L1338.0,452.0L1338.0,452.0L1340.0,452.6L1342.0,453.3L1343.6,454.0L1344.0,454.2L1346.0,455.2L1347.4,456.0L1348.0,456.3L1350.0,457.7L1350.4,458.0L1352.0,459.2L1352.9,460.0L1354.0,461.1L1354.9,462.0L1356.0,463.3L1356.6,464.0L1358.0,466.0L1358.0,466.0L1359.2,468.0L1360.0,469.7L1360.1,470.0L1360.9,472.0L1361.5,474.0L1361.9,476.0L1362.0,476.8L1362.2,478.0L1362.3,480.0L1362.2,482.0L1362.0,484.0L1362.0,484.3L1361.7,486.0L1361.3,488.0L1360.6,490.0L1360.0,491.6L1359.8,492.0L1358.9,494.0L1358.0,495.7L1357.8,496.0L1356.5,498.0L1356.0,498.7L1355.1,500.0L1354.0,501.3L1353.4,502.0L1352.0,503.4L1351.4,504.0L1350.0,505.3L1349.2,506.0L1348.0,506.9L1346.6,508.0L1346.0,508.4L1344.0,509.7L1343.5,510.0L1342.0,510.9L1340.0,511.9L1339.7,512.0L1338.0,512.8L1336.0,513.6L1334.8,514.0L1334.0,514.3L1332.0,514.9L1330.0,515.4L1328.0,515.8L1327.3,516.0L1326.0,516.3L1324.0,516.8L1322.0,517.2L1320.0,517.6L1318.3,518.0L1318.0,518.1L1316.0,518.5L1314.0,519.0L1312.0,519.4L1310.0,519.8L1309.1,520.0L1308.0,520.2L1306.0,520.7L1304.0,521.1L1302.0,521.5L1300.0,521.9L1299.4,522.0L1298.0,522.3L1296.0,522.7L1294.0,523.1L1292.0,523.5L1290.0,523.9L1289.2,524.0L1288.0,524.2L1286.0,524.6L1284.0,525.0L1282.0,525.3L1280.0,525.7L1278.3,526.0L1278.0,526.0L1276.0,526.4L1274.0,526.8L1272.0,527.1L1270.0,527.4L1268.0,527.7L1266.4,528.0L1266.0,528.1L1264.0,528.4L1262.0,528.7L1260.0,529.0L1258.0,529.3L1256.0,529.6L1254.0,529.9L1253.4,530.0L1252.0,530.2L1250.0,530.5L1248.0,530.8L1246.0,531.1L1244.0,531.4L1242.0,531.7L1240.0,531.9L1239.5,532.0L1238.0,532.2L1236.0,532.5L1234.0,532.8L1232.0,533.1L1230.0,533.4L1228.0,533.6L1226.0,533.9L1225.5,534.0L1224.0,534.2L1222.0,534.5L1220.0,534.8L1218.0,535.1L1216.0,535.5L1214.0,535.8L1212.7,536.0L1212.0,536.1L1210.0,536.5L1208.0,536.8L1206.0,537.2L1204.0,537.5L1202.0,537.9L1201.4,538.0L1200.0,538.3L1198.0,538.7L1196.0,539.0L1194.0,539.1L1192.0,538.8L1190.0,538.2L1189.6,538.0L1188.0,537.3L1186.0,536.0L1186.0,536.0L1184.0,534.4L1183.6,534.0L1182.0,532.3L1181.8,532.0L1180.3,530.0L1180.0,529.6L1179.0,528.0L1178.0,526.0L1178.0,525.9L1177.2,524.0L1176.5,522.0L1176.0,520.3L1175.9,520.0L1175.5,518.0L1175.2,516.0L1175.0,514.0L1174.9,512.0L1174.9,510.0L1175.0,508.0L1175.3,506.0L1175.6,504.0L1176.0,502.6L1176.1,502.0L1176.8,500.0L1177.7,498.0L1178.0,497.4L1178.8,496.0L1180.0,494.3L1180.3,494.0L1182.0,492.3L1182.4,492.0L1184.0,490.9L1186.0,490.1L1186.2,490.0L1188.0,489.4L1190.0,488.8L1192.0,488.1L1192.4,488.0L1194.0,487.5L1196.0,486.8L1198.0,486.1L1198.4,486.0L1200.0,485.5L1202.0,484.8L1204.0,484.1L1204.3,484.0L1206.0,483.4L1208.0,482.8L1210.0,482.1L1210.2,482.0L1212.0,481.4L1214.0,480.7L1216.0,480.1L1216.2,480.0L1218.0,479.4L1220.0,478.7L1222.0,478.0L1222.1,478.0L1224.0,477.4L1226.0,476.7L1228.0,476.1L1228.2,476.0L1230.0,475.4L1232.0,474.7L1234.0,474.1L1234.3,474.0L1236.0,473.4L1238.0,472.8L1240.0,472.2L1240.6,472.0L1242.0,471.5L1244.0,470.9L1246.0,470.3L1247.0,470.0L1248.0,469.7L1250.0,469.1L1252.0,468.5L1253.6,468.0L1254.0,467.9L1256.0,467.3L1258.0,466.7L1260.0,466.1L1260.4,466.0L1262.0,465.5L1264.0,464.9L1266.0,464.4L1267.3,464.0L1268.0,463.8L1270.0,463.2L1272.0,462.7L1274.0,462.1L1274.5,462.0L1276.0,461.6L1278.0,461.0L1280.0,460.5L1281.9,460.0L1282.0,460.0L1284.0,459.4L1286.0,458.9L1288.0,458.4L1289.6,458.0L1290.0,457.9L1292.0,457.4L1294.0,456.9L1296.0,456.4L1297.5,456.0L1298.0,455.9L1300.0,455.4L1302.0,454.9L1304.0,454.4L1305.6,454.0L1306.0,453.9L1308.0,453.4L1310.0,452.9L1312.0,452.4L1313.9,452.0Z" fill="#a5cde3" fill-rule="nonzero"/>
<path d="M1316.0,453.8L1318.0,453.3L1320.0,453.0L1322.0,452.8L1324.0,452.7L1326.0,452.6L1328.0,452.7L1330.0,452.8L1332.0,453.1L1334.0,453.4L1336.0,453.9L1336.5,454.0L1338.0,454.4L1340.0,455.1L1342.0,455.9L1342.1,456.0L1344.0,456.9L1345.9,458.0L1346.0,458.0L1348.0,459.4L1348.8,460.0L1350.0,461.0L1351.2,462.0L1352.0,462.8L1353.1,464.0L1354.0,465.1L1354.7,466.0L1356.0,468.0L1356.0,468.1L1357.0,470.0L1357.9,472.0L1358.0,472.4L1358.5,474.0L1359.0,476.0L1359.3,478.0L1359.5,480.0L1359.4,482.0L1359.3,484.0L1358.9,486.0L1358.5,488.0L1358.0,489.4L1357.8,490.0L1357.0,492.0L1356.0,494.0L1356.0,494.0L1354.9,496.0L1354.0,497.3L1353.5,498.0L1352.0,499.9L1351.9,500.0L1350.1,502.0L1350.0,502.1L1348.0,503.9L1347.9,504.0L1346.0,505.6L1345.4,506.0L1344.0,507.0L1342.4,508.0L1342.0,508.2L1340.0,509.4L1338.7,510.0L1338.0,510.3L1336.0,511.2L1334.0,511.9L1333.8,512.0L1332.0,512.6L1330.0,513.1L1328.0,513.5L1326.0,514.0L1325.9,514.0L1324.0,514.4L1322.0,514.9L1320.0,515.3L1318.0,515.7L1316.7,516.0L1316.0,516.2L1314.0,516.6L1312.0,517.0L1310.0,517.4L1308.0,517.9L1307.3,518.0L1306.0,518.3L1304.0,518.7L1302.0,519.1L1300.0,519.5L1298.0,519.9L1297.3,520.0L1296.0,520.3L1294.0,520.7L1292.0,521.0L1290.0,521.4L1288.0,521.8L1286.8,522.0L1286.0,522.1L1284.0,522.5L1282.0,522.9L1280.0,523.2L1278.0,523.6L1276.0,523.9L1275.4,524.0L1274.0,524.2L1272.0,524.6L1270.0,524.9L1268.0,525.2L1266.0,525.5L1264.0,525.8L1263.0,526.0L1262.0,526.2L1260.0,526.5L1258.0,526.8L1256.0,527.0L1254.0,527.3L1252.0,527.6L1250.0,527.9L1249.2,528.0L1248.0,528.2L1246.0,528.4L1244.0,528.7L1242.0,529.0L1240.0,529.3L1238.0,529.5L1236.0,529.8L1234.3,530.0L1234.0,530.0L1232.0,530.3L1230.0,530.6L1228.0,530.9L1226.0,531.1L1224.0,531.4L1222.0,531.7L1220.0,532.0L1219.7,532.0L1218.0,532.2L1216.0,532.5L1214.0,532.8L1212.0,533.1L1210.0,533.5L1208.0,533.8L1206.6,534.0L1206.0,534.1L1204.0,534.4L1202.0,534.8L1200.0,535.1L1198.0,535.5L1196.0,535.9L1194.0,535.9L1192.0,535.7L1190.0,535.0L1188.0,534.0L1188.0,534.0L1186.0,532.5L1185.4,532.0L1184.0,530.6L1183.5,530.0L1182.0,528.0L1182.0,528.0L1180.8,526.0L1180.0,524.5L1179.8,524.0L1179.0,522.0L1178.3,520.0L1178.0,518.7L1177.8,518.0L1177.5,516.0L1177.2,514.0L1177.1,512.0L1177.1,510.0L1177.3,508.0L1177.6,506.0L1178.0,504.0L1178.0,504.0L1178.6,502.0L1179.4,500.0L1180.0,498.9L1180.6,498.0L1182.0,496.1L1182.1,496.0L1184.0,494.3L1184.5,494.0L1186.0,493.2L1188.0,492.5L1189.6,492.0L1190.0,491.9L1192.0,491.2L1194.0,490.5L1195.4,490.0L1196.0,489.8L1198.0,489.1L1200.0,488.4L1201.2,488.0L1202.0,487.7L1204.0,487.0L1206.0,486.3L1207.0,486.0L1208.0,485.6L1210.0,484.9L1212.0,484.3L1212.7,484.0L1214.0,483.6L1216.0,482.9L1218.0,482.2L1218.5,482.0L1220.0,481.5L1222.0,480.8L1224.0,480.1L1224.3,480.0L1226.0,479.4L1228.0,478.8L1230.0,478.1L1230.3,478.0L1232.0,477.4L1234.0,476.8L1236.0,476.1L1236.3,476.0L1238.0,475.4L1240.0,474.8L1242.0,474.2L1242.5,474.0L1244.0,473.5L1246.0,472.9L1248.0,472.3L1248.8,472.0L1250.0,471.6L1252.0,471.0L1254.0,470.4L1255.4,470.0L1256.0,469.8L1258.0,469.2L1260.0,468.6L1262.0,468.0L1262.1,468.0L1264.0,467.4L1266.0,466.8L1268.0,466.3L1269.0,466.0L1270.0,465.7L1272.0,465.1L1274.0,464.6L1276.0,464.0L1276.1,464.0L1278.0,463.5L1280.0,462.9L1282.0,462.4L1283.4,462.0L1284.0,461.8L1286.0,461.3L1288.0,460.8L1290.0,460.3L1291.0,460.0L1292.0,459.7L1294.0,459.2L1296.0,458.7L1298.0,458.2L1298.8,458.0L1300.0,457.7L1302.0,457.2L1304.0,456.7L1306.0,456.2L1306.9,456.0L1308.0,455.7L1310.0,455.2L1312.0,454.7L1314.0,454.3L1315.1,454.0Z" fill="#99c7e0" fill-rule="nonzero"/>
<path d="M1316.0,455.9L1318.0,455.5L1320.0,455.1L1322.0,454.9L1324.0,454.7L1326.0,454.7L1328.0,454.8L1330.0,454.9L1332.0,455.2L1334.0,455.6L1335.5,456.0L1336.0,456.1L1338.0,456.8L1340.0,457.5L1341.0,458.0L1342.0,458.5L1344.0,459.6L1344.7,460.0L1346.0,460.9L1347.5,462.0L1348.0,462.4L1349.7,464.0L1350.0,464.3L1351.5,466.0L1352.0,466.7L1353.0,468.0L1354.0,469.7L1354.1,470.0L1355.1,472.0L1355.8,474.0L1356.0,474.7L1356.3,476.0L1356.7,478.0L1356.9,480.0L1356.9,482.0L1356.7,484.0L1356.4,486.0L1356.0,487.4L1355.9,488.0L1355.2,490.0L1354.3,492.0L1354.0,492.7L1353.3,494.0L1352.1,496.0L1352.0,496.1L1350.6,498.0L1350.0,498.7L1348.9,500.0L1348.0,500.9L1346.9,502.0L1346.0,502.7L1344.5,504.0L1344.0,504.3L1342.0,505.7L1341.6,506.0L1340.0,506.9L1338.0,508.0L1338.0,508.0L1336.0,508.9L1334.0,509.7L1333.1,510.0L1332.0,510.4L1330.0,510.9L1328.0,511.4L1326.0,511.8L1325.1,512.0L1324.0,512.2L1322.0,512.7L1320.0,513.1L1318.0,513.5L1316.0,514.0L1315.8,514.0L1314.0,514.4L1312.0,514.8L1310.0,515.2L1308.0,515.6L1306.1,516.0L1306.0,516.0L1304.0,516.4L1302.0,516.8L1300.0,517.2L1298.0,517.6L1296.0,518.0L1295.9,518.0L1294.0,518.4L1292.0,518.8L1290.0,519.1L1288.0,519.5L1286.0,519.8L1285.1,520.0L1284.0,520.2L1282.0,520.5L1280.0,520.9L1278.0,521.2L1276.0,521.6L1274.0,521.9L1273.3,522.0L1272.0,522.2L1270.0,522.5L1268.0,522.8L1266.0,523.1L1264.0,523.4L1262.0,523.7L1260.2,524.0L1260.0,524.0L1258.0,524.3L1256.0,524.6L1254.0,524.9L1252.0,525.1L1250.0,525.4L1248.0,525.7L1246.0,525.9L1245.4,526.0L1244.0,526.2L1242.0,526.4L1240.0,526.7L1238.0,526.9L1236.0,527.2L1234.0,527.4L1232.0,527.7L1230.0,527.9L1229.3,528.0L1228.0,528.2L1226.0,528.4L1224.0,528.7L1222.0,528.9L1220.0,529.2L1218.0,529.4L1216.0,529.7L1214.0,530.0L1213.8,530.0L1212.0,530.2L1210.0,530.5L1208.0,530.8L1206.0,531.1L1204.0,531.4L1202.0,531.7L1200.2,532.0L1200.0,532.0L1198.0,532.3L1196.0,532.7L1194.0,532.9L1192.0,532.6L1190.3,532.0L1190.0,531.9L1188.0,530.7L1187.1,530.0L1186.0,529.0L1185.1,528.0L1184.0,526.7L1183.5,526.0L1182.4,524.0L1182.0,523.3L1181.4,522.0L1180.7,520.0L1180.1,518.0L1180.0,517.6L1179.7,516.0L1179.4,514.0L1179.3,512.0L1179.3,510.0L1179.5,508.0L1179.8,506.0L1180.0,505.4L1180.4,504.0L1181.2,502.0L1182.0,500.4L1182.3,500.0L1183.9,498.0L1184.0,497.9L1186.0,496.4L1187.1,496.0L1188.0,495.6L1190.0,495.0L1192.0,494.2L1192.7,494.0L1194.0,493.5L1196.0,492.8L1198.0,492.1L1198.3,492.0L1200.0,491.4L1202.0,490.7L1203.8,490.0L1204.0,489.9L1206.0,489.2L1208.0,488.5L1209.4,488.0L1210.0,487.8L1212.0,487.1L1214.0,486.3L1214.9,486.0L1216.0,485.6L1218.0,484.9L1220.0,484.2L1220.5,484.0L1222.0,483.5L1224.0,482.8L1226.0,482.1L1226.2,482.0L1228.0,481.4L1230.0,480.7L1232.0,480.0L1232.0,480.0L1234.0,479.3L1236.0,478.7L1238.0,478.0L1238.0,478.0L1240.0,477.3L1242.0,476.7L1244.0,476.0L1244.0,476.0L1246.0,475.4L1248.0,474.7L1250.0,474.1L1250.3,474.0L1252.0,473.4L1254.0,472.8L1256.0,472.2L1256.7,472.0L1258.0,471.6L1260.0,471.0L1262.0,470.4L1263.3,470.0L1264.0,469.8L1266.0,469.2L1268.0,468.6L1270.0,468.0L1270.1,468.0L1272.0,467.4L1274.0,466.9L1276.0,466.3L1277.1,466.0L1278.0,465.8L1280.0,465.2L1282.0,464.6L1284.0,464.1L1284.4,464.0L1286.0,463.6L1288.0,463.0L1290.0,462.5L1291.9,462.0L1292.0,462.0L1294.0,461.4L1296.0,460.9L1298.0,460.4L1299.6,460.0L1300.0,459.9L1302.0,459.4L1304.0,458.9L1306.0,458.4L1307.6,458.0L1308.0,457.9L1310.0,457.4L1312.0,456.9L1314.0,456.4L1315.7,456.0Z" fill="#8abfdd" fill-rule="nonzero"/>
<path d="M1316.0,458.0L1318.0,457.5L1320.0,457.1L1322.0,456.9L1324.0,456.7L1326.0,456.7L1328.0,456.8L1330.0,457.0L1332.0,457.3L1334.0,457.7L1334.9,458.0L1336.0,458.3L1338.0,459.0L1340.0,459.9L1340.3,460.0L1342.0,460.9L1343.7,462.0L1344.0,462.2L1346.0,463.7L1346.3,464.0L1348.0,465.6L1348.4,466.0L1350.0,467.9L1350.1,468.0L1351.4,470.0L1352.0,471.2L1352.4,472.0L1353.2,474.0L1353.8,476.0L1354.0,476.9L1354.2,478.0L1354.4,480.0L1354.4,482.0L1354.3,484.0L1354.0,485.6L1353.9,486.0L1353.4,488.0L1352.7,490.0L1352.0,491.6L1351.8,492.0L1350.7,494.0L1350.0,495.1L1349.4,496.0L1348.0,497.8L1347.8,498.0L1346.0,499.9L1345.9,500.0L1344.0,501.7L1343.7,502.0L1342.0,503.3L1340.9,504.0L1340.0,504.6L1338.0,505.7L1337.5,506.0L1336.0,506.7L1334.0,507.6L1332.8,508.0L1332.0,508.3L1330.0,508.9L1328.0,509.3L1326.0,509.7L1324.8,510.0L1324.0,510.2L1322.0,510.6L1320.0,511.0L1318.0,511.5L1316.0,511.9L1315.3,512.0L1314.0,512.3L1312.0,512.7L1310.0,513.1L1308.0,513.5L1306.0,513.9L1305.5,514.0L1304.0,514.3L1302.0,514.7L1300.0,515.1L1298.0,515.5L1296.0,515.8L1295.1,516.0L1294.0,516.2L1292.0,516.6L1290.0,516.9L1288.0,517.3L1286.0,517.6L1284.0,518.0L1283.9,518.0L1282.0,518.3L1280.0,518.7L1278.0,519.0L1276.0,519.3L1274.0,519.6L1272.0,519.9L1271.5,520.0L1270.0,520.2L1268.0,520.5L1266.0,520.8L1264.0,521.1L1262.0,521.4L1260.0,521.7L1258.0,522.0L1257.6,522.0L1256.0,522.2L1254.0,522.5L1252.0,522.7L1250.0,523.0L1248.0,523.2L1246.0,523.5L1244.0,523.7L1242.0,523.9L1241.5,524.0L1240.0,524.2L1238.0,524.4L1236.0,524.6L1234.0,524.8L1232.0,525.1L1230.0,525.3L1228.0,525.5L1226.0,525.7L1224.0,525.9L1223.5,526.0L1222.0,526.2L1220.0,526.4L1218.0,526.6L1216.0,526.8L1214.0,527.1L1212.0,527.3L1210.0,527.6L1208.0,527.8L1206.5,528.0L1206.0,528.1L1204.0,528.3L1202.0,528.6L1200.0,528.8L1198.0,529.1L1196.0,529.4L1194.0,529.7L1192.0,529.4L1190.0,528.6L1189.1,528.0L1188.0,527.2L1186.7,526.0L1186.0,525.2L1185.2,524.0L1184.0,522.1L1183.9,522.0L1183.1,520.0L1182.4,518.0L1182.0,516.4L1181.9,516.0L1181.6,514.0L1181.5,512.0L1181.6,510.0L1181.8,508.0L1182.0,507.1L1182.3,506.0L1183.0,504.0L1184.0,502.2L1184.2,502.0L1186.0,500.0L1186.0,500.0L1188.0,498.9L1190.0,498.2L1190.5,498.0L1192.0,497.5L1194.0,496.7L1195.8,496.0L1196.0,495.9L1198.0,495.2L1200.0,494.4L1201.1,494.0L1202.0,493.7L1204.0,492.9L1206.0,492.2L1206.4,492.0L1208.0,491.4L1210.0,490.6L1211.7,490.0L1212.0,489.9L1214.0,489.1L1216.0,488.4L1217.0,488.0L1218.0,487.6L1220.0,486.9L1222.0,486.2L1222.5,486.0L1224.0,485.4L1226.0,484.7L1228.0,484.0L1228.0,484.0L1230.0,483.3L1232.0,482.6L1233.6,482.0L1234.0,481.9L1236.0,481.2L1238.0,480.5L1239.4,480.0L1240.0,479.8L1242.0,479.1L1244.0,478.4L1245.3,478.0L1246.0,477.8L1248.0,477.1L1250.0,476.5L1251.4,476.0L1252.0,475.8L1254.0,475.2L1256.0,474.5L1257.7,474.0L1258.0,473.9L1260.0,473.3L1262.0,472.7L1264.0,472.1L1264.2,472.0L1266.0,471.5L1268.0,470.9L1270.0,470.3L1270.9,470.0L1272.0,469.7L1274.0,469.1L1276.0,468.5L1277.8,468.0L1278.0,468.0L1280.0,467.4L1282.0,466.8L1284.0,466.3L1285.0,466.0L1286.0,465.7L1288.0,465.2L1290.0,464.6L1292.0,464.1L1292.4,464.0L1294.0,463.6L1296.0,463.0L1298.0,462.5L1300.0,462.0L1300.0,462.0L1302.0,461.5L1304.0,461.0L1306.0,460.5L1307.8,460.0L1308.0,460.0L1310.0,459.5L1312.0,459.0L1314.0,458.5L1315.9,458.0Z" fill="#7cb7da" fill-rule="nonzero"/>
<path d="M1316.0,460.0L1318.0,459.5L1320.0,459.1L1322.0,458.8L1324.0,458.7L1326.0,458.6L1328.0,458.7L1330.0,459.0L1332.0,459.3L1334.0,459.8L1334.6,460.0L1336.0,460.4L1338.0,461.2L1339.6,462.0L1340.0,462.2L1342.0,463.4L1342.8,464.0L1344.0,464.9L1345.3,466.0L1346.0,466.7L1347.2,468.0L1348.0,469.1L1348.7,470.0L1349.8,472.0L1350.0,472.3L1350.7,474.0L1351.4,476.0L1351.8,478.0L1352.0,479.4L1352.1,480.0L1352.1,482.0L1352.0,483.4L1352.0,484.0L1351.6,486.0L1351.1,488.0L1350.3,490.0L1350.0,490.7L1349.4,492.0L1348.2,494.0L1348.0,494.3L1346.8,496.0L1346.0,496.9L1345.0,498.0L1344.0,499.0L1342.9,500.0L1342.0,500.8L1340.4,502.0L1340.0,502.2L1338.0,503.5L1337.1,504.0L1336.0,504.6L1334.0,505.5L1332.6,506.0L1332.0,506.2L1330.0,506.9L1328.0,507.3L1326.0,507.8L1324.8,508.0L1324.0,508.2L1322.0,508.6L1320.0,509.0L1318.0,509.4L1316.0,509.8L1315.2,510.0L1314.0,510.3L1312.0,510.7L1310.0,511.1L1308.0,511.5L1306.0,511.8L1305.2,512.0L1304.0,512.2L1302.0,512.6L1300.0,513.0L1298.0,513.4L1296.0,513.7L1294.5,514.0L1294.0,514.1L1292.0,514.5L1290.0,514.8L1288.0,515.1L1286.0,515.5L1284.0,515.8L1282.9,516.0L1282.0,516.2L1280.0,516.5L1278.0,516.8L1276.0,517.1L1274.0,517.4L1272.0,517.7L1270.0,518.0L1270.0,518.0L1268.0,518.3L1266.0,518.6L1264.0,518.8L1262.0,519.1L1260.0,519.4L1258.0,519.6L1256.0,519.9L1255.0,520.0L1254.0,520.1L1252.0,520.4L1250.0,520.6L1248.0,520.8L1246.0,521.0L1244.0,521.2L1242.0,521.5L1240.0,521.7L1238.0,521.9L1236.6,522.0L1236.0,522.1L1234.0,522.2L1232.0,522.4L1230.0,522.6L1228.0,522.8L1226.0,523.0L1224.0,523.2L1222.0,523.3L1220.0,523.5L1218.0,523.7L1216.0,523.9L1214.9,524.0L1214.0,524.1L1212.0,524.3L1210.0,524.4L1208.0,524.6L1206.0,524.8L1204.0,525.0L1202.0,525.2L1200.0,525.4L1198.0,525.6L1196.0,525.8L1194.8,526.0L1194.0,526.1L1192.9,526.0L1192.0,525.9L1190.0,525.0L1188.8,524.0L1188.0,523.3L1187.0,522.0L1186.0,520.4L1185.8,520.0L1185.0,518.0L1184.4,516.0L1184.0,514.0L1184.0,513.5L1183.9,512.0L1184.0,510.6L1184.0,510.0L1184.5,508.0L1185.2,506.0L1186.0,504.6L1186.5,504.0L1188.0,502.7L1189.6,502.0L1190.0,501.9L1192.0,501.1L1194.0,500.2L1194.5,500.0L1196.0,499.4L1198.0,498.6L1199.4,498.0L1200.0,497.8L1202.0,496.9L1204.0,496.1L1204.3,496.0L1206.0,495.3L1208.0,494.5L1209.2,494.0L1210.0,493.7L1212.0,492.9L1214.0,492.1L1214.2,492.0L1216.0,491.3L1218.0,490.5L1219.3,490.0L1220.0,489.7L1222.0,488.9L1224.0,488.2L1224.4,488.0L1226.0,487.4L1228.0,486.7L1229.7,486.0L1230.0,485.9L1232.0,485.2L1234.0,484.4L1235.2,484.0L1236.0,483.7L1238.0,483.0L1240.0,482.3L1240.8,482.0L1242.0,481.6L1244.0,480.9L1246.0,480.2L1246.5,480.0L1248.0,479.5L1250.0,478.8L1252.0,478.2L1252.5,478.0L1254.0,477.5L1256.0,476.8L1258.0,476.2L1258.6,476.0L1260.0,475.6L1262.0,474.9L1264.0,474.3L1265.0,474.0L1266.0,473.7L1268.0,473.1L1270.0,472.5L1271.5,472.0L1272.0,471.9L1274.0,471.3L1276.0,470.7L1278.0,470.1L1278.3,470.0L1280.0,469.5L1282.0,468.9L1284.0,468.4L1285.4,468.0L1286.0,467.8L1288.0,467.3L1290.0,466.7L1292.0,466.2L1292.6,466.0L1294.0,465.6L1296.0,465.1L1298.0,464.6L1300.0,464.0L1300.1,464.0L1302.0,463.5L1304.0,463.0L1306.0,462.5L1307.9,462.0L1308.0,462.0L1310.0,461.5L1312.0,460.9L1314.0,460.4L1315.8,460.0Z" fill="#6dafd7" fill-rule="nonzero"/>
<path d="M1316.0,461.9L1318.0,461.4L1320.0,461.0L1322.0,460.7L1324.0,460.6L1326.0,460.5L1328.0,460.7L1330.0,460.9L1332.0,461.3L1334.0,461.9L1334.4,462.0L1336.0,462.6L1338.0,463.5L1339.0,464.0L1340.0,464.6L1342.0,466.0L1342.0,466.0L1344.0,467.8L1344.2,468.0L1346.0,470.0L1346.0,470.1L1347.3,472.0L1348.0,473.4L1348.3,474.0L1349.0,476.0L1349.5,478.0L1349.8,480.0L1349.9,482.0L1349.7,484.0L1349.4,486.0L1348.8,488.0L1348.0,490.0L1348.0,490.0L1347.0,492.0L1346.0,493.6L1345.7,494.0L1344.1,496.0L1344.0,496.1L1342.2,498.0L1342.0,498.2L1340.0,499.9L1339.8,500.0L1338.0,501.2L1336.8,502.0L1336.0,502.4L1334.0,503.4L1332.6,504.0L1332.0,504.2L1330.0,504.9L1328.0,505.4L1326.0,505.8L1325.1,506.0L1324.0,506.2L1322.0,506.6L1320.0,507.1L1318.0,507.5L1316.0,507.9L1315.3,508.0L1314.0,508.3L1312.0,508.7L1310.0,509.1L1308.0,509.4L1306.0,509.8L1305.1,510.0L1304.0,510.2L1302.0,510.6L1300.0,510.9L1298.0,511.3L1296.0,511.7L1294.1,512.0L1294.0,512.0L1292.0,512.4L1290.0,512.7L1288.0,513.0L1286.0,513.4L1284.0,513.7L1282.1,514.0L1282.0,514.0L1280.0,514.3L1278.0,514.6L1276.0,514.9L1274.0,515.2L1272.0,515.5L1270.0,515.8L1268.4,516.0L1268.0,516.0L1266.0,516.3L1264.0,516.6L1262.0,516.8L1260.0,517.1L1258.0,517.3L1256.0,517.5L1254.0,517.7L1252.0,518.0L1251.6,518.0L1250.0,518.2L1248.0,518.4L1246.0,518.5L1244.0,518.7L1242.0,518.9L1240.0,519.1L1238.0,519.2L1236.0,519.4L1234.0,519.5L1232.0,519.7L1230.0,519.8L1228.0,520.0L1227.5,520.0L1226.0,520.1L1224.0,520.2L1222.0,520.3L1220.0,520.4L1218.0,520.5L1216.0,520.7L1214.0,520.8L1212.0,520.9L1210.0,520.9L1208.0,521.0L1206.0,521.1L1204.0,521.2L1202.0,521.3L1200.0,521.4L1198.0,521.4L1196.0,521.5L1194.0,521.5L1192.0,521.5L1190.0,520.3L1189.7,520.0L1188.3,518.0L1188.0,517.4L1187.5,516.0L1187.1,514.0L1187.0,512.0L1187.4,510.0L1188.0,508.4L1188.3,508.0L1190.0,506.6L1191.1,506.0L1192.0,505.6L1194.0,504.6L1195.2,504.0L1196.0,503.6L1198.0,502.7L1199.3,502.0L1200.0,501.7L1202.0,500.8L1203.6,500.0L1204.0,499.8L1206.0,498.9L1208.0,498.0L1208.0,498.0L1210.0,497.1L1212.0,496.2L1212.4,496.0L1214.0,495.3L1216.0,494.5L1217.0,494.0L1218.0,493.6L1220.0,492.8L1221.8,492.0L1222.0,491.9L1224.0,491.1L1226.0,490.3L1226.6,490.0L1228.0,489.5L1230.0,488.7L1231.7,488.0L1232.0,487.9L1234.0,487.1L1236.0,486.3L1236.9,486.0L1238.0,485.6L1240.0,484.8L1242.0,484.1L1242.2,484.0L1244.0,483.4L1246.0,482.6L1247.8,482.0L1248.0,481.9L1250.0,481.2L1252.0,480.5L1253.6,480.0L1254.0,479.9L1256.0,479.2L1258.0,478.5L1259.5,478.0L1260.0,477.8L1262.0,477.2L1264.0,476.6L1265.7,476.0L1266.0,475.9L1268.0,475.3L1270.0,474.7L1272.0,474.0L1272.1,474.0L1274.0,473.4L1276.0,472.8L1278.0,472.2L1278.8,472.0L1280.0,471.6L1282.0,471.1L1284.0,470.5L1285.7,470.0L1286.0,469.9L1288.0,469.3L1290.0,468.8L1292.0,468.2L1292.8,468.0L1294.0,467.7L1296.0,467.1L1298.0,466.6L1300.0,466.0L1300.2,466.0L1302.0,465.5L1304.0,465.0L1306.0,464.5L1307.8,464.0L1308.0,463.9L1310.0,463.4L1312.0,462.9L1314.0,462.4L1315.6,462.0Z" fill="#60a7d2" fill-rule="nonzero"/>
<path d="M1316.0,463.8L1318.0,463.3L1320.0,462.9L1322.0,462.6L1324.0,462.4L1326.0,462.4L1328.0,462.6L1330.0,462.9L1332.0,463.3L1334.0,463.9L1334.2,464.0L1336.0,464.7L1338.0,465.8L1338.4,466.0L1340.0,467.1L1341.1,468.0L1342.0,468.8L1343.2,470.0L1344.0,471.1L1344.7,472.0L1345.8,474.0L1346.0,474.4L1346.7,476.0L1347.2,478.0L1347.6,480.0L1347.6,482.0L1347.5,484.0L1347.1,486.0L1346.5,488.0L1346.0,489.3L1345.7,490.0L1344.6,492.0L1344.0,492.9L1343.2,494.0L1342.0,495.4L1341.4,496.0L1340.0,497.3L1339.2,498.0L1338.0,498.9L1336.4,500.0L1336.0,500.2L1334.0,501.3L1332.5,502.0L1332.0,502.2L1330.0,502.9L1328.0,503.5L1326.0,503.9L1325.4,504.0L1324.0,504.3L1322.0,504.7L1320.0,505.1L1318.0,505.5L1316.0,505.9L1315.5,506.0L1314.0,506.3L1312.0,506.7L1310.0,507.1L1308.0,507.4L1306.0,507.8L1305.0,508.0L1304.0,508.2L1302.0,508.5L1300.0,508.9L1298.0,509.2L1296.0,509.6L1294.0,509.9L1293.6,510.0L1292.0,510.3L1290.0,510.6L1288.0,510.9L1286.0,511.2L1284.0,511.5L1282.0,511.9L1281.0,512.0L1280.0,512.1L1278.0,512.4L1276.0,512.7L1274.0,513.0L1272.0,513.3L1270.0,513.5L1268.0,513.8L1266.1,514.0L1266.0,514.0L1264.0,514.2L1262.0,514.5L1260.0,514.7L1258.0,514.9L1256.0,515.1L1254.0,515.3L1252.0,515.4L1250.0,515.6L1248.0,515.8L1246.0,515.9L1245.1,516.0L1244.0,516.1L1242.0,516.2L1240.0,516.3L1238.0,516.4L1236.0,516.5L1234.0,516.6L1232.0,516.7L1230.0,516.7L1228.0,516.8L1226.0,516.8L1224.0,516.8L1222.0,516.9L1220.0,516.8L1218.0,516.8L1216.0,516.8L1214.0,516.7L1212.0,516.6L1210.0,516.5L1208.0,516.3L1206.0,516.1L1205.0,516.0L1204.0,515.8L1202.0,515.3L1200.0,514.6L1198.6,514.0L1198.0,513.0L1197.5,512.0L1198.0,511.0L1198.4,510.0L1200.0,508.3L1200.3,508.0L1202.0,506.7L1202.8,506.0L1204.0,505.2L1205.8,504.0L1206.0,503.9L1208.0,502.7L1209.1,502.0L1210.0,501.5L1212.0,500.4L1212.7,500.0L1214.0,499.3L1216.0,498.3L1216.5,498.0L1218.0,497.3L1220.0,496.3L1220.6,496.0L1222.0,495.4L1224.0,494.4L1224.8,494.0L1226.0,493.5L1228.0,492.6L1229.3,492.0L1230.0,491.7L1232.0,490.9L1234.0,490.0L1234.0,490.0L1236.0,489.2L1238.0,488.4L1238.9,488.0L1240.0,487.6L1242.0,486.8L1244.0,486.0L1244.0,486.0L1246.0,485.2L1248.0,484.5L1249.3,484.0L1250.0,483.7L1252.0,483.0L1254.0,482.3L1254.8,482.0L1256.0,481.6L1258.0,480.9L1260.0,480.2L1260.6,480.0L1262.0,479.5L1264.0,478.9L1266.0,478.2L1266.6,478.0L1268.0,477.5L1270.0,476.9L1272.0,476.3L1272.8,476.0L1274.0,475.6L1276.0,475.0L1278.0,474.4L1279.3,474.0L1280.0,473.8L1282.0,473.2L1284.0,472.6L1286.0,472.0L1286.0,472.0L1288.0,471.4L1290.0,470.9L1292.0,470.3L1293.0,470.0L1294.0,469.7L1296.0,469.2L1298.0,468.6L1300.0,468.1L1300.2,468.0L1302.0,467.5L1304.0,467.0L1306.0,466.4L1307.6,466.0L1308.0,465.9L1310.0,465.4L1312.0,464.9L1314.0,464.3L1315.3,464.0Z" fill="#549fcd" fill-rule="nonzero"/>
<path d="M1316.0,465.8L1318.0,465.3L1320.0,464.8L1322.0,464.5L1324.0,464.3L1326.0,464.3L1328.0,464.5L1330.0,464.8L1332.0,465.3L1333.9,466.0L1334.0,466.1L1336.0,467.0L1337.7,468.0L1338.0,468.2L1340.0,469.8L1340.2,470.0L1342.0,472.0L1342.0,472.0L1343.3,474.0L1344.0,475.4L1344.3,476.0L1344.9,478.0L1345.3,480.0L1345.4,482.0L1345.3,484.0L1344.9,486.0L1344.2,488.0L1344.0,488.5L1343.3,490.0L1342.1,492.0L1342.0,492.2L1340.5,494.0L1340.0,494.6L1338.5,496.0L1338.0,496.5L1336.0,498.0L1336.0,498.0L1334.0,499.2L1332.3,500.0L1332.0,500.2L1330.0,500.9L1328.0,501.5L1326.0,501.9L1325.7,502.0L1324.0,502.3L1322.0,502.7L1320.0,503.1L1318.0,503.5L1316.0,503.9L1315.5,504.0L1314.0,504.3L1312.0,504.7L1310.0,505.0L1308.0,505.4L1306.0,505.8L1304.7,506.0L1304.0,506.1L1302.0,506.5L1300.0,506.8L1298.0,507.2L1296.0,507.5L1294.0,507.8L1292.9,508.0L1292.0,508.1L1290.0,508.5L1288.0,508.8L1286.0,509.1L1284.0,509.3L1282.0,509.6L1280.0,509.9L1279.3,510.0L1278.0,510.2L1276.0,510.4L1274.0,510.7L1272.0,510.9L1270.0,511.1L1268.0,511.4L1266.0,511.6L1264.0,511.8L1262.0,512.0L1261.8,512.0L1260.0,512.2L1258.0,512.3L1256.0,512.5L1254.0,512.6L1252.0,512.7L1250.0,512.8L1248.0,512.9L1246.0,513.0L1244.0,513.1L1242.0,513.2L1240.0,513.2L1238.0,513.2L1236.0,513.2L1234.0,513.1L1232.0,513.1L1230.0,513.0L1228.0,512.9L1226.0,512.7L1224.0,512.5L1222.0,512.2L1221.0,512.0L1220.0,511.7L1218.0,511.1L1216.0,510.1L1215.8,510.0L1214.6,508.0L1215.2,506.0L1216.0,505.0L1216.8,504.0L1218.0,503.0L1219.1,502.0L1220.0,501.4L1222.0,500.0L1222.0,500.0L1224.0,498.8L1225.2,498.0L1226.0,497.6L1228.0,496.5L1228.8,496.0L1230.0,495.4L1232.0,494.4L1232.8,494.0L1234.0,493.4L1236.0,492.5L1237.0,492.0L1238.0,491.6L1240.0,490.7L1241.5,490.0L1242.0,489.8L1244.0,488.9L1246.0,488.1L1246.2,488.0L1248.0,487.3L1250.0,486.5L1251.2,486.0L1252.0,485.7L1254.0,484.9L1256.0,484.2L1256.4,484.0L1258.0,483.4L1260.0,482.7L1261.9,482.0L1262.0,482.0L1264.0,481.3L1266.0,480.6L1267.7,480.0L1268.0,479.9L1270.0,479.2L1272.0,478.6L1273.7,478.0L1274.0,477.9L1276.0,477.3L1278.0,476.6L1280.0,476.0L1280.0,476.0L1282.0,475.4L1284.0,474.8L1286.0,474.2L1286.5,474.0L1288.0,473.6L1290.0,473.0L1292.0,472.4L1293.3,472.0L1294.0,471.8L1296.0,471.2L1298.0,470.7L1300.0,470.1L1300.3,470.0L1302.0,469.5L1304.0,469.0L1306.0,468.5L1307.6,468.0L1308.0,467.9L1310.0,467.4L1312.0,466.8L1314.0,466.3L1315.2,466.0Z" fill="#4997c9" fill-rule="nonzero"/>
<path d="M1316.0,467.8L1318.0,467.3L1320.0,466.7L1322.0,466.4L1324.0,466.3L1326.0,466.3L1328.0,466.5L1330.0,466.9L1332.0,467.5L1333.3,468.0L1334.0,468.3L1336.0,469.5L1336.8,470.0L1338.0,471.0L1339.1,472.0L1340.0,473.1L1340.7,474.0L1341.8,476.0L1342.0,476.5L1342.5,478.0L1343.0,480.0L1343.1,482.0L1343.0,484.0L1342.6,486.0L1342.0,487.7L1341.9,488.0L1340.9,490.0L1340.0,491.3L1339.5,492.0L1338.0,493.7L1337.7,494.0L1336.0,495.5L1335.3,496.0L1334.0,496.9L1332.0,498.0L1332.0,498.0L1330.0,498.9L1328.0,499.5L1326.0,500.0L1325.8,500.0L1324.0,500.3L1322.0,500.7L1320.0,501.1L1318.0,501.5L1316.0,501.9L1315.3,502.0L1314.0,502.2L1312.0,502.6L1310.0,503.0L1308.0,503.3L1306.0,503.7L1304.1,504.0L1304.0,504.0L1302.0,504.3L1300.0,504.7L1298.0,505.0L1296.0,505.3L1294.0,505.6L1292.0,505.9L1291.5,506.0L1290.0,506.2L1288.0,506.5L1286.0,506.8L1284.0,507.0L1282.0,507.3L1280.0,507.5L1278.0,507.8L1276.1,508.0L1276.0,508.0L1274.0,508.2L1272.0,508.4L1270.0,508.6L1268.0,508.8L1266.0,508.9L1264.0,509.1L1262.0,509.2L1260.0,509.3L1258.0,509.4L1256.0,509.5L1254.0,509.6L1252.0,509.6L1250.0,509.7L1248.0,509.6L1246.0,509.6L1244.0,509.5L1242.0,509.4L1240.0,509.2L1238.0,508.9L1236.0,508.6L1234.0,508.2L1233.2,508.0L1232.0,507.5L1230.0,506.2L1229.7,506.0L1229.1,504.0L1230.0,502.1L1230.1,502.0L1231.9,500.0L1232.0,499.9L1234.0,498.4L1234.5,498.0L1236.0,497.0L1237.5,496.0L1238.0,495.8L1240.0,494.6L1241.1,494.0L1242.0,493.5L1244.0,492.5L1245.0,492.0L1246.0,491.5L1248.0,490.6L1249.2,490.0L1250.0,489.7L1252.0,488.8L1253.8,488.0L1254.0,487.9L1256.0,487.1L1258.0,486.3L1258.7,486.0L1260.0,485.5L1262.0,484.7L1263.8,484.0L1264.0,483.9L1266.0,483.2L1268.0,482.5L1269.3,482.0L1270.0,481.8L1272.0,481.1L1274.0,480.4L1275.0,480.0L1276.0,479.7L1278.0,479.0L1280.0,478.4L1281.0,478.0L1282.0,477.7L1284.0,477.1L1286.0,476.4L1287.3,476.0L1288.0,475.8L1290.0,475.2L1292.0,474.6L1293.9,474.0L1294.0,474.0L1296.0,473.4L1298.0,472.8L1300.0,472.2L1300.8,472.0L1302.0,471.7L1304.0,471.1L1306.0,470.5L1307.9,470.0L1308.0,470.0L1310.0,469.4L1312.0,468.9L1314.0,468.3L1315.2,468.0Z" fill="#3e8ec4" fill-rule="nonzero"/>
<path d="M1316.0,469.9L1318.0,469.4L1320.0,468.8L1322.0,468.4L1324.0,468.3L1326.0,468.3L1328.0,468.6L1330.0,469.1L1332.0,469.8L1332.5,470.0L1334.0,470.8L1335.7,472.0L1336.0,472.2L1337.7,474.0L1338.0,474.3L1339.1,476.0L1340.0,477.9L1340.0,478.0L1340.5,480.0L1340.7,482.0L1340.6,484.0L1340.2,486.0L1340.0,486.4L1339.4,488.0L1338.3,490.0L1338.0,490.4L1336.7,492.0L1336.0,492.7L1334.5,494.0L1334.0,494.4L1332.0,495.7L1331.4,496.0L1330.0,496.7L1328.0,497.4L1326.0,497.9L1325.4,498.0L1324.0,498.3L1322.0,498.6L1320.0,499.0L1318.0,499.4L1316.0,499.7L1314.5,500.0L1314.0,500.1L1312.0,500.4L1310.0,500.8L1308.0,501.1L1306.0,501.4L1304.0,501.8L1302.5,502.0L1302.0,502.1L1300.0,502.4L1298.0,502.7L1296.0,503.0L1294.0,503.2L1292.0,503.5L1290.0,503.8L1288.3,504.0L1288.0,504.0L1286.0,504.3L1284.0,504.5L1282.0,504.7L1280.0,504.9L1278.0,505.1L1276.0,505.3L1274.0,505.4L1272.0,505.6L1270.0,505.7L1268.0,505.8L1266.0,505.9L1264.0,506.0L1262.1,506.0L1262.0,506.0L1260.0,506.0L1260.0,506.0L1258.0,506.0L1256.0,505.9L1254.0,505.7L1252.0,505.5L1250.0,505.2L1248.0,504.8L1246.0,504.2L1245.5,504.0L1244.0,502.8L1243.2,502.0L1243.4,500.0L1244.0,499.2L1244.8,498.0L1246.0,497.0L1247.1,496.0L1248.0,495.4L1250.0,494.0L1250.1,494.0L1252.0,492.9L1253.5,492.0L1254.0,491.8L1256.0,490.8L1257.5,490.0L1258.0,489.8L1260.0,488.9L1261.8,488.0L1262.0,487.9L1264.0,487.1L1266.0,486.2L1266.5,486.0L1268.0,485.4L1270.0,484.7L1271.6,484.0L1272.0,483.9L1274.0,483.1L1276.0,482.4L1277.0,482.0L1278.0,481.7L1280.0,481.0L1282.0,480.3L1282.7,480.0L1284.0,479.6L1286.0,478.9L1288.0,478.2L1288.7,478.0L1290.0,477.6L1292.0,477.0L1294.0,476.3L1295.0,476.0L1296.0,475.7L1298.0,475.1L1300.0,474.5L1301.6,474.0L1302.0,473.9L1304.0,473.3L1306.0,472.7L1308.0,472.2L1308.5,472.0L1310.0,471.6L1312.0,471.0L1314.0,470.5L1315.7,470.0Z" fill="#3484bf" fill-rule="nonzero"/>
<path d="M1318.0,471.7L1320.0,471.1L1322.0,470.7L1324.0,470.5L1326.0,470.6L1328.0,470.9L1330.0,471.5L1331.2,472.0L1332.0,472.4L1334.0,473.8L1334.3,474.0L1336.0,475.8L1336.1,476.0L1337.2,478.0L1337.9,480.0L1338.0,480.6L1338.2,482.0L1338.0,484.0L1338.0,484.2L1337.5,486.0L1336.7,488.0L1336.0,489.1L1335.3,490.0L1334.0,491.4L1333.4,492.0L1332.0,493.1L1330.5,494.0L1330.0,494.3L1328.0,495.1L1326.0,495.6L1324.0,496.0L1324.0,496.0L1322.0,496.4L1320.0,496.7L1318.0,497.0L1316.0,497.4L1314.0,497.7L1312.4,498.0L1312.0,498.1L1310.0,498.4L1308.0,498.7L1306.0,499.0L1304.0,499.3L1302.0,499.5L1300.0,499.8L1298.7,500.0L1298.0,500.1L1296.0,500.3L1294.0,500.6L1292.0,500.8L1290.0,501.0L1288.0,501.2L1286.0,501.4L1284.0,501.5L1282.0,501.7L1280.0,501.8L1278.0,501.9L1276.0,502.0L1275.7,502.0L1274.0,502.0L1272.0,502.0L1270.2,502.0L1270.0,502.0L1268.0,501.9L1266.0,501.7L1264.0,501.4L1262.0,501.0L1260.0,500.3L1259.2,500.0L1258.0,498.5L1257.7,498.0L1258.0,497.3L1258.5,496.0L1260.0,494.5L1260.4,494.0L1262.0,492.9L1263.2,492.0L1264.0,491.6L1266.0,490.4L1266.7,490.0L1268.0,489.4L1270.0,488.4L1270.7,488.0L1272.0,487.4L1274.0,486.5L1275.2,486.0L1276.0,485.7L1278.0,484.9L1280.0,484.0L1280.0,484.0L1282.0,483.3L1284.0,482.5L1285.3,482.0L1286.0,481.8L1288.0,481.1L1290.0,480.4L1291.0,480.0L1292.0,479.7L1294.0,479.0L1296.0,478.3L1296.9,478.0L1298.0,477.7L1300.0,477.0L1302.0,476.4L1303.3,476.0L1304.0,475.8L1306.0,475.2L1308.0,474.6L1309.9,474.0L1310.0,474.0L1312.0,473.4L1314.0,472.8L1316.0,472.2L1316.8,472.0Z" fill="#2b7bba" fill-rule="nonzero"/>
<path d="M1320.0,473.7L1322.0,473.2L1324.0,473.0L1326.0,473.1L1328.0,473.5L1329.2,474.0L1330.0,474.3L1332.0,475.7L1332.4,476.0L1334.0,478.0L1334.0,478.0L1334.9,480.0L1335.2,482.0L1335.1,484.0L1334.6,486.0L1334.0,487.1L1333.5,488.0L1332.0,489.8L1331.8,490.0L1330.0,491.4L1328.9,492.0L1328.0,492.4L1326.0,493.1L1324.0,493.4L1322.0,493.8L1320.7,494.0L1320.0,494.1L1318.0,494.4L1316.0,494.7L1314.0,495.0L1312.0,495.3L1310.0,495.6L1308.0,495.8L1306.8,496.0L1306.0,496.1L1304.0,496.3L1302.0,496.5L1300.0,496.7L1298.0,496.9L1296.0,497.1L1294.0,497.2L1292.0,497.3L1290.0,497.4L1288.0,497.5L1286.0,497.5L1284.0,497.4L1282.0,497.3L1280.0,497.1L1278.0,496.8L1276.0,496.2L1275.5,496.0L1274.2,494.0L1275.3,492.0L1276.0,491.5L1277.8,490.0L1278.0,489.9L1280.0,488.7L1281.1,488.0L1282.0,487.6L1284.0,486.6L1285.1,486.0L1286.0,485.6L1288.0,484.8L1289.7,484.0L1290.0,483.9L1292.0,483.1L1294.0,482.3L1294.7,482.0L1296.0,481.5L1298.0,480.8L1300.0,480.1L1300.2,480.0L1302.0,479.4L1304.0,478.7L1306.0,478.0L1306.1,478.0L1308.0,477.4L1310.0,476.8L1312.0,476.1L1312.3,476.0L1314.0,475.5L1316.0,474.9L1318.0,474.3L1318.9,474.0Z" fill="#2171b5" fill-rule="nonzero"/>
<path d="M1318.0,477.6L1320.0,477.0L1322.0,476.3L1324.0,476.0L1326.0,476.3L1328.0,477.1L1329.4,478.0L1330.0,478.6L1331.0,480.0L1331.6,482.0L1331.5,484.0L1330.8,486.0L1330.0,487.1L1329.2,488.0L1328.0,488.9L1326.0,490.0L1325.8,490.0L1324.0,490.3L1322.0,490.5L1320.0,490.8L1318.0,491.0L1316.0,491.2L1314.0,491.4L1312.0,491.6L1310.0,491.8L1308.0,492.0L1307.2,492.0L1306.0,492.0L1304.0,492.1L1302.0,492.1L1300.1,492.0L1300.0,492.0L1298.0,491.7L1296.0,491.0L1294.4,490.0L1295.3,488.0L1296.0,487.5L1297.9,486.0L1298.0,486.0L1300.0,485.0L1301.6,484.0L1302.0,483.9L1304.0,483.0L1306.0,482.1L1306.1,482.0L1308.0,481.3L1310.0,480.5L1311.2,480.0L1312.0,479.7L1314.0,479.1L1316.0,478.3L1316.8,478.0Z" fill="#1a68ae" fill-rule="nonzero"/>
</g>
<line x1="300.5" y1="89" x2="300.5" y2="1051.5" stroke="#000" stroke-width="1" stroke-dasharray="1.4,1.4"/>
<line x1="740.5" y1="89" x2="740.5" y2="1051.5" stroke="#000" stroke-width="1" stroke-dasharray="1.4,1.4"/>
<line x1="1180.5" y1="89" x2="1180.5" y2="1051.5" stroke="#000" stroke-width="1" stroke-dasharray="1.4,1.4"/>
<line x1="80.5" y1="310.5" x2="1621" y2="310.5" stroke="#000" stroke-width="1" stroke-dasharray="1.4,1.4"/>
<line x1="80.5" y1="538.5" x2="1621" y2="538.5" stroke="#000" stroke-width="1" stroke-dasharray="1.4,1.4"/>
<line x1="80.5" y1="781.5" x2="1621" y2="781.5" stroke="#000" stroke-width="1" stroke-dasharray="1.4,1.4"/>
<line x1="80.5" y1="1050.5" x2="1621" y2="1050.5" stroke="#000" stroke-width="1" stroke-dasharray="1.4,1.4"/>
<line x1="1620.2" y1="89" x2="1620.2" y2="1051.5" stroke="#000" stroke-width="1" stroke-dasharray="1.4,1.4"/>
<polyline points="362.0,89.4 359.9,92.0 357.2,94.0 354.9,96.5 352.3,98.6 350.0,101.0 347.7,103.6 346.1,106.9 343.9,109.6 340.8,111.7 339.0,114.7 337.0,117.2 334.9,119.5 331.9,121.0 330.2,123.8 328.0,126.0 325.0,128.3 322.8,131.3 320.0,133.7 317.5,136.5 315.5,139.1 312.7,141.0 310.2,143.0 308.2,145.7 305.7,147.8 303.6,150.3 302.4,153.1 302.2,156.3 300.3,159.0 299.7,162.0 298.0,165.1 296.8,168.5 295.5,171.9 292.9,174.6 291.8,178.0 289.9,181.0 287.6,183.8 285.4,186.6 283.6,189.8 281.9,192.9 280.5,195.7 280.4,198.9 279.1,201.7 278.8,204.8 277.9,207.7 276.1,211.0 274.9,214.5 274.8,218.3 273.0,221.6 274.5,224.7 275.4,228.0 276.0,231.4 278.2,233.9 281.3,235.3 283.8,237.4 286.2,240.5 288.8,243.3 288.1,246.7 286.8,249.9 285.8,253.2 285.3,256.5 284.7,259.8 283.8,263.1 283.7,266.4 283.7,269.7 283.8,273.0 284.3,276.5 285.6,279.7 286.8,282.9 287.5,286.1 288.8,289.0 289.9,292.1 291.8,294.8 292.1,297.8 293.4,300.6 293.0,303.8 293.5,306.8 294.7,309.6 297.3,312.1 300.6,313.8 303.6,315.8 306.4,318.0 309.6,319.8 311.3,323.0 311.8,326.6 313.5,329.7 312.7,332.7 312.3,335.7 311.9,338.8 310.6,341.6 310.5,345.2 310.7,348.8 312.3,352.2 311.7,355.9 312.5,359.4 312.5,362.7 312.7,366.0 312.3,369.3 311.5,372.6 311.1,375.9 311.5,379.2 312.5,382.4 312.0,385.8 313.1,389.0 312.5,392.4 313.4,395.7 313.5,399.0 314.0,402.6 314.9,406.1 316.5,409.4 317.5,412.8 316.3,416.2 316.8,419.8 316.6,423.3 315.5,426.7 313.4,429.6 312.1,433.0 309.9,435.8 307.6,438.5 305.7,441.4 303.5,444.0 302.1,447.1 300.2,450.0 297.7,452.4 294.9,454.0 292.9,456.6 289.9,457.8 287.5,459.9 285.4,462.4 282.9,464.3 280.4,466.2 277.9,468.2 274.5,469.2 271.3,470.4 268.0,471.6 264.6,472.6 261.2,473.4 258.1,475.1 255.3,476.6 252.5,478.3 249.5,479.5 247.0,481.7 244.1,483.1 240.8,483.9 238.3,486.0 236.3,488.5 234.3,490.9 232.9,493.9 230.4,495.9 228.1,498.4 225.6,500.6 223.7,503.5 220.8,505.3 218.5,507.8 215.1,509.6 212.2,512.3 208.6,513.7 206.0,515.6 203.7,517.7 201.0,519.5 198.7,521.7 196.5,524.0 193.9,525.8 191.6,527.9 190.0,530.7 187.6,532.8 184.9,534.5 184.2,539.2 183.5,542.3 182.7,545.3 182.9,548.5 184.8,551.0 186.1,553.7 187.5,556.5 189.4,558.9 190.8,561.7 192.3,564.8 193.7,567.9 194.9,571.1 196.0,574.4 197.4,577.5 198.1,580.5 198.4,583.6 198.3,586.8 199.8,589.7 199.5,592.9 200.0,596.0 200.4,599.0 201.6,601.8 202.4,604.8 202.7,607.8 201.8,611.0 202.2,614.4 201.8,617.8 201.0,621.0 200.2,624.3 200.0,627.6 199.6,631.1 198.3,634.3 197.3,637.6 196.1,640.8 193.2,642.1 190.8,644.2 187.9,645.3 185.5,647.4 182.7,648.9 179.7,649.7 176.7,650.3 173.6,651.0 170.9,652.6 168.1,653.9 165.2,655.1 162.1,655.5 159.2,656.6 156.8,658.6 153.7,659.4 151.0,661.0 148.9,663.4 146.0,664.6 144.1,667.8 141.3,670.5 139.4,673.8 137.2,677.0 135.4,680.4 137.8,682.5 140.8,683.8 143.3,685.7 143.6,688.9 143.1,692.0 142.1,695.1 142.6,698.4 142.0,701.5 141.5,704.6 140.6,707.6 139.8,710.6 139.1,713.6 137.6,716.4 137.9,719.7 136.7,722.6 136.8,725.7 135.0,728.5 134.5,731.5 133.8,734.5 134.0,737.7 132.7,740.6 132.8,743.7 129.8,745.4 127.8,748.2 124.7,749.8 121.9,751.8 119.6,754.3 117.2,756.3 115.2,758.7 113.2,761.1 111.0,763.3 108.9,765.6 106.4,767.5 105.6,771.0 103.6,774.1 102.7,777.5 101.1,780.7 99.2,783.1 98.7,786.3 96.1,788.3 94.9,791.1 93.1,793.5 91.6,796.2 90.6,799.1 88.4,801.4 87.1,804.3 86.1,807.4 83.6,809.5 82.6,812.6 80.5,815.0" fill="none" stroke="#000" stroke-width="1.5" stroke-linejoin="round" stroke-linecap="round" />
<polygon points="502.5,356.4 505.1,359.8 507.9,362.9 509.0,365.9 510.4,368.8 512.2,371.4 514.4,375.0 517.5,377.9 518.3,381.2 519.1,384.5 520.8,387.5 522.1,391.0 522.2,394.7 522.9,398.3 522.6,401.8 523.2,405.3 523.2,408.8 524.0,412.2 525.9,415.6 526.9,419.3 528.3,422.9 529.7,426.6 530.4,430.4 529.3,434.0 528.2,437.6 527.2,441.2 524.0,445.4 521.3,442.6 519.7,439.0 518.2,435.9 517.5,432.6 512.2,433.6 512.8,437.2 512.3,440.9 513.2,444.4 514.5,448.3 516.5,451.9 516.4,454.9 515.0,457.7 515.3,460.8 514.3,463.7 512.4,466.5 511.2,469.7 509.0,472.3 508.6,476.3 506.8,480.0 506.2,483.2 507.1,486.5 507.0,489.7 505.9,492.9 506.5,496.2 504.9,499.0 504.6,502.2 502.6,504.9 502.0,508.0 500.7,510.9 500.2,514.1 498.1,516.7 497.6,519.9 496.6,522.8 495.5,525.7 494.9,528.7 494.9,531.8 494.1,534.8 493.6,537.8 492.9,540.8 491.7,543.6 491.5,546.7 490.4,549.6 489.1,552.5 489.1,555.7 487.4,558.4 487.1,561.5 486.3,564.5 484.8,567.3 484.4,570.4 483.9,573.4 482.8,576.3 481.7,579.3 480.3,582.1 480.0,585.4 477.7,587.9 477.9,591.3 475.8,594.0 474.6,596.9 473.9,600.0 473.7,603.2 471.7,605.8 471.4,609.0 470.2,611.8 470.1,615.0 469.2,618.0 468.1,620.9 466.2,623.6 466.3,626.9 465.0,629.7 463.7,632.6 462.5,635.4 461.4,638.4 461.3,641.6 460.2,644.6 459.0,647.5 457.7,650.3 457.6,653.6 456.1,656.4 453.0,657.6 449.9,659.0 446.9,660.4 444.5,662.9 440.9,663.3 438.2,665.3 435.4,666.6 432.3,667.0 429.3,667.4 426.2,667.7 423.4,669.2 420.3,669.1 417.4,670.4 414.5,671.2 411.4,670.0 408.5,668.5 405.4,667.2 402.4,665.8 399.4,664.2 396.7,662.3 395.2,659.6 393.9,656.8 391.2,654.9 389.4,652.5 388.8,649.2 386.5,647.0 384.8,644.5 383.9,641.6 383.0,638.7 382.7,635.6 382.3,632.5 381.1,629.7 380.3,626.8 379.0,623.9 378.9,620.8 378.5,617.7 376.4,615.1 376.1,611.9 375.7,608.8 373.8,606.1 373.7,602.9 373.0,599.9 371.5,597.1 372.0,593.8 372.6,590.5 372.0,587.1 372.7,583.9 372.7,580.6 374.0,577.3 373.5,574.0 374.1,570.7 374.5,567.4 377.1,565.6 378.9,563.3 381.1,561.2 382.6,558.5 384.7,556.3 387.0,554.3 388.7,551.8 390.8,549.6 391.8,546.5 393.1,543.6 394.0,540.5 395.6,537.7 397.6,535.0 398.2,531.8 398.1,528.7 396.9,525.8 396.0,522.9 395.0,520.0 394.0,517.1 393.5,514.0 393.4,510.9 392.3,508.0 392.2,504.9 390.9,502.1 390.9,499.0 390.3,496.1 389.6,493.1 388.9,490.2 388.5,487.2 387.3,484.4 387.2,481.3 386.3,478.4 387.5,475.2 389.1,472.3 390.9,469.4 392.3,466.3 393.2,463.0 395.4,460.3 396.3,457.0 397.5,453.5 398.2,449.8 401.5,449.9 404.8,449.1 408.1,449.8 410.9,447.1 413.6,444.3 417.2,445.2 420.7,442.7 424.5,440.7 429.0,440.7 433.5,439.8 438.1,440.7 439.9,437.1 443.2,435.0 446.2,432.5 449.8,430.2 453.5,428.0 457.1,425.3 460.2,422.4 462.6,418.9 464.2,421.8 466.2,424.4 468.1,420.9 469.0,417.1 470.7,413.5 472.4,410.6 474.1,407.6 475.3,404.4 475.3,401.2 474.1,398.1 474.3,394.8 473.4,391.7 476.2,389.9 479.8,392.6 483.4,395.4 484.8,392.5 485.5,389.4 486.1,386.3 489.8,388.1 494.3,384.5 495.8,381.3 496.7,378.0 497.0,374.5 496.4,371.5 495.8,368.4 495.2,365.4 496.6,362.4 498.8,360.0 502.5,356.4" fill="none" stroke="#000" stroke-width="1.5" stroke-linejoin="round" />
<polyline points="122.5,90.5 123.8,96.0 118.4,102.8 117.0,106.9 120.4,111.7 120.4,117.9 117.7,126.1 115.6,133.0 116.3,141.2 119.0,150.1 124.5,145.3 129.3,138.4 134.8,141.2 140.3,144.6 141.6,152.1 144.4,150.8 143.7,143.9 148.5,141.8 153.3,144.6 162.2,139.8 163.6,135.7 152.6,136.4 143.0,133.0 148.5,131.6 157.4,130.2 160.8,124.0 166.3,117.2 170.4,109.7 169.7,105.5 169.0,98.7 172.0,96.0 170.0,92.0 168.0,90.0" fill="none" stroke="#000" stroke-width="1.9" stroke-linejoin="round" stroke-linecap="round" />
<polygon points="175.0,93.0 183.0,91.0 186.5,94.0 180.0,97.0 175.0,97.0" fill="none" stroke="#000" stroke-width="1.5" stroke-linejoin="round" />
<polygon points="80.5,231.4 91.9,241.3 93.9,253.2 103.7,275.0 105.7,281.0 101.8,282.9 91.9,277.0 89.9,273.0 84.0,257.2 80.5,247.3" fill="none" stroke="#000" stroke-width="1.4" stroke-linejoin="round" />
<polygon points="119.6,257.2 122.5,255.2 133.4,265.1 139.4,269.1 142.3,274.0 137.4,276.0 135.4,269.1 125.5,264.1 119.6,261.1" fill="none" stroke="#000" stroke-width="1.4" stroke-linejoin="round" />
<polygon points="166.1,298.7 164.0,304.0 172.0,319.8 173.0,347.5 168.1,359.4 175.0,375.2 179.0,391.0 181.0,404.9 196.8,408.8 186.9,391.0 182.9,357.4 188.8,345.5 181.9,335.6 179.0,309.9 173.0,302.0" fill="none" stroke="#000" stroke-width="1.4" stroke-linejoin="round" />
<polygon points="95.8,437.5 115.0,435.2 139.4,434.6 125.0,437.5 108.0,439.5" fill="none" stroke="#000" stroke-width="1.4" stroke-linejoin="round" />
<polyline points="171.0,460.3 186.9,468.2 192.8,480.1 201.7,491.0" fill="none" stroke="#000" stroke-width="1.2" stroke-linejoin="round" stroke-linecap="round" />
<ellipse cx="642.7" cy="564.7" rx="5.8" ry="5.3" fill="none" stroke="#000" stroke-width="1.1" transform="rotate(0 642.7 564.7)"/>
<ellipse cx="687.5" cy="542.5" rx="3.2" ry="5.2" fill="none" stroke="#000" stroke-width="1.1" transform="rotate(30 687.5 542.5)"/>
<ellipse cx="374.5" cy="347.5" rx="2.3" ry="6.0" fill="none" stroke="#000" stroke-width="1.0" transform="rotate(10 374.5 347.5)"/>
<circle cx="382.6" cy="362.3" r="1.3" fill="#000"/>
<circle cx="396.5" cy="359.7" r="1.6" fill="#000"/>
<circle cx="412.5" cy="372.9" r="1.8" fill="#000"/>
<ellipse cx="294.2" cy="203" rx="2.4" ry="6.3" fill="none" stroke="#000" stroke-width="1.6" transform="rotate(10 294.2 203)"/>
<ellipse cx="286" cy="223.8" rx="3.0" ry="7.2" fill="none" stroke="#000" stroke-width="1.5" transform="rotate(-15 286 223.8)"/>
<polygon points="297.5,257.5 293.0,264.0 291.0,266.0 294.0,262.0" fill="none" stroke="#000" stroke-width="1.5" stroke-linejoin="round" />
<circle cx="288.5" cy="277" r="1.0" fill="#000"/>
<polygon points="391.8,358.0 398.0,356.3 400.0,363.6 396.0,361.0" fill="none" stroke="#000" stroke-width="1.4" stroke-linejoin="round" />
<polygon points="410.0,369.0 416.8,372.0 414.0,377.2 411.0,375.0" fill="none" stroke="#000" stroke-width="1.6" stroke-linejoin="round" />
<polygon points="451.7,436.0 456.0,430.0 459.8,432.0 455.0,437.1" fill="none" stroke="#000" stroke-width="1.6" stroke-linejoin="round" />
<ellipse cx="441" cy="443.8" rx="2.3" ry="2.0" fill="none" stroke="#000" stroke-width="1.6" transform="rotate(0 441 443.8)"/>
<circle cx="428" cy="449" r="1.4" fill="#000"/>
<polyline points="515.4,471.2 520.8,462.6" fill="none" stroke="#000" stroke-width="1.6" stroke-linejoin="round" stroke-linecap="round" />
<circle cx="634.6" cy="171" r="0.9" fill="#000"/>
<circle cx="644.8" cy="172.2" r="0.9" fill="#000"/>
<circle cx="647.9" cy="183.3" r="1.5" fill="#000"/>
<circle cx="640.1" cy="191.6" r="1.8" fill="#000"/>
<circle cx="635.5" cy="187" r="0.9" fill="#000"/>
<circle cx="651" cy="190" r="0.9" fill="#000"/>
<circle cx="593.3" cy="208" r="0.9" fill="#000"/>
<circle cx="600" cy="214.7" r="0.9" fill="#000"/>
<circle cx="592.4" cy="215.4" r="0.9" fill="#000"/>
<circle cx="587.7" cy="225.5" r="0.9" fill="#000"/>
<circle cx="580" cy="243.4" r="0.9" fill="#000"/>
<circle cx="658.6" cy="246.2" r="1.1" fill="#000"/>
<circle cx="1000.8" cy="206.4" r="1.1" fill="#000"/>
<circle cx="1007" cy="206.4" r="0.9" fill="#000"/>
<circle cx="1011.6" cy="214.1" r="0.9" fill="#000"/>
<circle cx="991.6" cy="227" r="0.9" fill="#000"/>
<circle cx="988.5" cy="231.7" r="0.9" fill="#000"/>
<circle cx="990" cy="237.9" r="0.9" fill="#000"/>
<circle cx="1013.1" cy="250.2" r="1.5" fill="#000"/>
<circle cx="1033" cy="99" r="1.2" fill="#000"/>
<circle cx="1547" cy="352" r="1.3" fill="#000"/>
<circle cx="1551" cy="357" r="1.1" fill="#000"/>
<circle cx="1126" cy="990" r="1.3" fill="#000"/>
<circle cx="1126" cy="1014" r="0.9" fill="#000"/>
<circle cx="82" cy="1050" r="1.8" fill="#000"/>
<circle cx="437.8" cy="297.1" r="1.8" fill="#000"/>
<circle cx="443" cy="303.8" r="1.3" fill="#000"/>
<circle cx="466.8" cy="304.5" r="1.6" fill="#000"/>
<circle cx="469.7" cy="311.2" r="1.4" fill="#000"/>
<circle cx="460.8" cy="345.3" r="1.1" fill="#000"/>
<circle cx="535.8" cy="294.9" r="1.0" fill="#000"/>
<circle cx="542.4" cy="292.7" r="1.1" fill="#000"/>
<circle cx="541.7" cy="300" r="1.5" fill="#000"/>
<circle cx="546.2" cy="312.7" r="1.2" fill="#000"/>
<circle cx="360" cy="466" r="1.3" fill="#000"/>
<circle cx="147" cy="518" r="1.3" fill="#000"/>
<circle cx="503" cy="485" r="1.0" fill="#000"/>
<circle cx="530" cy="356" r="0.9" fill="#000"/>
<polygon points="1591.0,115.0 1600.0,113.0 1606.0,125.0 1607.0,131.0 1601.0,130.0 1593.0,122.0" fill="none" stroke="#000" stroke-width="1.1" stroke-linejoin="round" />
<polygon points="1610.0,137.0 1613.0,134.0 1618.0,141.0 1613.0,141.0" fill="none" stroke="#000" stroke-width="1.3" stroke-linejoin="round" />
<polyline points="1580.0,91.0 1585.0,92.0 1588.0,98.0 1585.0,103.0 1590.0,104.0" fill="none" stroke="#000" stroke-width="2.0" stroke-linejoin="round" stroke-linecap="round" />
<polyline points="1615.4,90.0 1616.6,95.0 1621.0,99.0" fill="none" stroke="#000" stroke-width="1.0" stroke-linejoin="round" stroke-linecap="round" />
<circle cx="130" cy="95" r="1.8" fill="#000"/>
<circle cx="133" cy="99" r="1.8" fill="#000"/>
<circle cx="129" cy="102" r="1.5" fill="#000"/>
<circle cx="136" cy="97" r="1.2" fill="#000"/>
<circle cx="121" cy="140" r="1.8" fill="#000"/>
<circle cx="124" cy="146" r="2.0" fill="#000"/>
<circle cx="120" cy="148" r="1.6" fill="#000"/>
<circle cx="127" cy="143" r="1.2" fill="#000"/>
<circle cx="145" cy="131" r="1.6" fill="#000"/>
<circle cx="150" cy="132" r="1.4" fill="#000"/>
<circle cx="155" cy="132" r="1.4" fill="#000"/>
<circle cx="159" cy="127" r="1.3" fill="#000"/>
<circle cx="95" cy="121" r="1.2" fill="#000"/>
<circle cx="97" cy="126" r="1.4" fill="#000"/>
<circle cx="96.5" cy="130" r="1.3" fill="#000"/>
<circle cx="95" cy="134" r="1.5" fill="#000"/>
<circle cx="100" cy="135" r="1.3" fill="#000"/>
<circle cx="87" cy="135" r="1.4" fill="#000"/>
<circle cx="86" cy="142" r="1.6" fill="#000"/>
<circle cx="123" cy="90.5" r="1.5" fill="#000"/>
<circle cx="140" cy="90.5" r="1.3" fill="#000"/>
<circle cx="162" cy="91" r="1.3" fill="#000"/>
<circle cx="170" cy="96" r="1.3" fill="#000"/>
<circle cx="126" cy="121" r="1.0" fill="#000"/>
<circle cx="137" cy="121" r="1.0" fill="#000"/>
<polygon points="188.0,274.0 193.0,276.0 195.0,282.0 190.0,280.0" fill="none" stroke="#000" stroke-width="1.0" stroke-linejoin="round" />
<polyline points="512.0,334.0 511.7,332.3 511.1,330.0 510.5,327.2 510.0,324.1 509.9,321.0 510.3,318.0 511.1,314.8 512.1,311.3 513.4,307.6 515.1,304.2 517.5,301.2 520.5,299.0 524.5,297.6 529.3,296.8 534.7,296.6 540.3,296.6 546.0,296.8 551.4,297.0 556.2,297.3 560.5,297.7 564.9,298.3 569.7,299.0 575.3,300.0 582.2,301.1 590.9,302.5 601.2,304.3 612.4,306.3 623.6,308.3 634.4,310.0 643.8,311.4 652.3,312.4 660.6,313.1 668.2,313.6 675.1,314.0 680.8,314.2 685.0,314.5" fill="none" stroke="#c8c8c8" stroke-width="1.2" stroke-linejoin="round" stroke-linecap="round" />
<polyline points="522.0,340.0 523.9,336.7 526.5,332.1 529.6,326.7 533.2,320.8 537.0,314.9 541.1,309.3 545.7,303.6 550.9,297.5 556.4,291.3 562.0,285.5 567.2,280.4 571.9,276.4 575.9,273.7 579.5,271.9 582.8,270.8 586.0,270.3 589.2,270.2 592.5,270.3 595.8,270.8 599.0,271.8 602.1,273.3 605.4,274.9 609.0,276.7 613.0,278.5 617.6,280.3 622.8,282.3 628.3,284.5 633.8,286.6 639.0,288.8 643.8,290.8 648.3,292.9 652.8,295.1 657.0,297.2 660.8,299.2 664.0,300.9 666.4,302.1" fill="none" stroke="#c8c8c8" stroke-width="1.2" stroke-linejoin="round" stroke-linecap="round" />
<polyline points="530.0,345.0 535.5,341.8 543.2,337.2 552.3,331.9 562.0,326.5 571.5,321.6 580.0,318.0 587.4,315.5 594.2,313.5 600.9,312.1 607.8,311.3 615.1,311.0 623.3,311.4 632.6,312.7 642.9,315.0 653.6,317.9 664.5,321.0 675.1,323.8 685.0,325.8 694.2,327.0 702.9,327.6 711.3,328.0 719.6,328.3 727.9,328.9 736.3,329.9 744.9,331.4 753.5,333.1 762.1,335.1 770.7,337.3 779.3,339.6 787.7,342.2 796.6,345.3 806.1,348.9 815.6,352.7 824.3,356.4 831.7,359.5 837.0,361.7" fill="none" stroke="#c8c8c8" stroke-width="1.2" stroke-linejoin="round" stroke-linecap="round" />
<polyline points="535.0,348.0 540.0,344.6 546.7,339.6 554.8,333.8 563.7,328.2 573.0,323.8 582.2,321.6 591.6,321.8 601.7,323.8 612.1,326.9 622.7,330.7 633.4,334.6 643.8,338.1 654.3,341.4 665.1,344.9 675.9,348.5 686.5,352.1 696.4,355.5 705.5,358.6 713.5,361.4 720.7,364.0 727.3,366.4 733.7,368.7 740.0,370.9 746.6,373.0 753.5,375.0 760.3,376.9 767.2,378.7 774.0,380.4 780.9,381.9 787.7,383.3 794.8,384.6 802.1,385.7 809.4,386.7 816.5,387.6 823.0,388.1 828.8,388.4 833.9,388.2 838.5,387.6 842.7,386.7 846.2,385.7 849.2,384.9 851.4,384.3" fill="none" stroke="#c8c8c8" stroke-width="1.2" stroke-linejoin="round" stroke-linecap="round" />
<polyline points="528.0,342.0 531.3,340.1 535.7,337.3 540.9,334.0 547.1,330.9 554.0,328.7 561.6,327.8 570.5,328.5 580.8,330.3 592.0,332.8 603.2,335.9 613.9,339.1 623.3,342.2 631.3,345.2 638.3,348.5 644.8,351.9 651.0,355.4 657.4,359.0 664.4,362.7 672.5,366.7 681.4,371.2 690.6,375.8 699.1,380.1 706.4,383.8 711.6,386.4" fill="none" stroke="#c8c8c8" stroke-width="1.2" stroke-linejoin="round" stroke-linecap="round" />
<polyline points="540.0,355.0 546.7,354.5 556.2,354.0 567.3,353.2 579.0,352.4 590.2,351.3 600.0,350.0 608.3,348.5 615.9,346.8 623.1,344.9 630.0,342.8 636.8,340.5 643.8,338.1 650.9,335.4 658.1,332.5 665.2,329.4 672.1,326.2 678.8,322.9 685.0,319.6 690.8,316.2 696.3,312.5 701.5,308.7 706.5,305.1 711.2,301.8 715.8,299.0 720.4,296.7 725.1,294.7 729.5,293.1 733.5,291.8 736.9,290.7 739.4,289.8" fill="none" stroke="#c8c8c8" stroke-width="1.2" stroke-linejoin="round" stroke-linecap="round" />
<polyline points="530.0,360.0 535.6,358.3 543.6,356.0 552.9,353.3 562.7,350.4 572.1,347.6 580.0,345.0 586.5,342.8 592.3,340.7 597.7,338.7 602.8,336.6 607.8,334.4 613.0,331.9 618.3,329.3 623.4,326.5 628.5,323.7 633.6,320.6 638.7,317.2 643.8,313.4 649.3,308.8 655.2,303.4 661.2,297.6 666.7,292.2 671.3,287.5 674.7,284.2" fill="none" stroke="#c8c8c8" stroke-width="1.2" stroke-linejoin="round" stroke-linecap="round" />
<polyline points="520.0,330.0 524.1,328.5 529.3,326.2 535.7,323.6 543.2,321.0 551.8,318.9 561.6,317.5 572.9,316.9 585.7,316.9 599.6,317.3 614.3,318.0 629.2,318.8 643.8,319.6 659.4,320.6 676.7,321.9 694.1,323.3 710.5,324.7 724.3,326.0 734.2,326.8" fill="none" stroke="#c8c8c8" stroke-width="1.2" stroke-linejoin="round" stroke-linecap="round" />
<polyline points="525.0,350.0 527.3,349.6 530.2,348.9 533.7,348.1 538.3,347.4 544.1,346.7 551.4,346.3 560.9,346.0 572.5,345.8 585.4,345.7 598.7,345.7 611.6,345.9 623.3,346.3 634.4,347.0 645.7,348.1 656.5,349.4 666.4,350.7 674.7,351.8 680.8,352.5" fill="none" stroke="#c8c8c8" stroke-width="1.2" stroke-linejoin="round" stroke-linecap="round" />
<polyline points="530.0,370.0 533.1,369.2 537.1,368.1 541.9,366.7 547.7,365.3 554.2,363.9 561.6,362.7 570.3,361.6 580.4,360.5 591.3,359.5 602.5,358.4 613.4,357.5 623.3,356.6 632.8,355.8 642.5,354.9 651.8,354.2 660.3,353.5 667.4,352.9 672.6,352.5" fill="none" stroke="#c8c8c8" stroke-width="1.2" stroke-linejoin="round" stroke-linecap="round" />
<polyline points="528.0,375.0 530.2,373.6 532.8,371.7 536.1,369.5 540.2,367.1 545.3,364.8 551.4,362.7 559.7,360.8 570.2,358.8 581.6,356.8 592.7,355.1 602.2,353.6 608.9,352.5" fill="none" stroke="#c8c8c8" stroke-width="1.2" stroke-linejoin="round" stroke-linecap="round" />
<polyline points="511.8,332.9 511.4,332.1 510.8,331.1 510.1,329.8 509.4,328.3 508.9,326.5 508.6,324.3 508.6,321.5 508.7,318.1 508.9,314.4 509.3,310.7 509.9,307.5 510.7,305.0 511.7,303.4 513.0,302.4 514.5,301.8 516.0,301.4 517.7,301.1 519.3,300.7 520.9,300.2 522.5,299.8 524.2,299.5 526.0,299.1 527.9,298.9 530.0,298.6 532.4,298.5 535.0,298.5 537.7,298.5 540.5,298.5 543.4,298.2 546.1,297.5 548.8,296.4 551.5,295.1 554.2,293.5 556.8,291.7 559.5,289.9 562.2,287.9 564.9,285.7 567.5,283.2 570.2,280.5 572.9,277.9 575.5,275.7 578.2,273.9 580.9,272.7 583.8,271.8 586.6,271.2 589.3,270.9 591.9,270.7 594.3,270.7 596.4,270.8 598.3,271.2 600.0,271.8 601.7,272.4 603.3,273.2 605.0,273.9 606.5,274.6 607.8,275.3 609.1,276.1 610.6,277.0 612.5,278.1 615.0,279.3 618.4,280.8 622.6,282.5 627.2,284.4 631.9,286.3 636.2,288.2 640.0,290.0 643.3,291.8 646.3,293.8 649.1,295.7 651.5,297.4 653.5,298.9 655.0,300.0" fill="none" stroke="#c8c8c8" stroke-width="1.2" stroke-linejoin="round" stroke-linecap="round" />
<polyline points="519.3,320.0 520.3,318.5 521.7,316.3 523.3,313.7 525.2,311.0 527.5,308.4 530.0,306.1 533.0,304.1 536.4,302.1 540.1,300.2 543.9,298.5 547.8,296.8 551.5,295.4 555.1,294.2 558.6,293.2 562.2,292.4 565.8,291.7 569.3,290.9 572.9,290.0 576.5,289.0 580.1,287.9 583.6,286.8 587.2,285.7 590.8,284.6 594.3,283.6 597.9,282.6 601.5,281.6 605.0,280.7 608.5,279.8 611.9,279.0 615.0,278.2 617.8,277.5 620.4,276.7 622.9,276.1 625.2,275.5 627.6,275.1 630.0,275.0 632.7,275.2 635.6,275.7 638.4,276.3 641.1,277.0 643.4,277.6 645.0,278.0" fill="none" stroke="#c8c8c8" stroke-width="1.2" stroke-linejoin="round" stroke-linecap="round" />
<polyline points="542.9,328.6 543.8,327.3 544.9,325.4 546.2,323.2 547.8,320.9 549.5,318.7 551.5,316.8 553.7,315.3 556.3,313.9 559.0,312.6 561.9,311.4 564.7,310.3 567.5,309.3 570.0,308.3 572.3,307.4 574.6,306.5 577.1,305.8 580.0,305.3 583.6,305.0 587.9,305.0 592.8,305.2 598.1,305.7 603.7,306.2 609.4,306.7 615.0,307.2 621.0,307.7 627.7,308.2 634.5,308.7 640.8,309.3 646.2,309.7 650.0,310.0" fill="none" stroke="#c8c8c8" stroke-width="1.2" stroke-linejoin="round" stroke-linecap="round" />
<polyline points="532.2,339.3 535.6,337.8 540.3,335.6 545.9,333.0 551.7,330.4 557.4,328.1 562.2,326.4 566.1,325.4 569.6,324.8 572.8,324.5 576.0,324.4 579.6,324.3 583.6,324.3 588.2,324.4 593.2,324.6 598.4,324.9 603.9,325.2 609.4,325.4 615.0,325.4 620.5,325.1 625.8,324.6 631.3,324.0 637.1,323.3 643.3,322.7 650.0,322.0 658.0,321.3 667.4,320.6 677.2,319.8 686.5,319.1 694.4,318.4 700.0,318.0" fill="none" stroke="#c8c8c8" stroke-width="1.2" stroke-linejoin="round" stroke-linecap="round" />
<polyline points="530.0,345.7 532.3,345.4 535.6,345.0 539.4,344.5 543.5,344.1 547.7,343.7 551.5,343.6 555.1,343.8 558.6,344.1 562.2,344.7 565.8,345.2 569.3,345.5 572.9,345.7 576.5,345.6 580.1,345.3 583.6,344.9 587.2,344.5 590.8,344.0 594.3,343.6 597.7,343.2 601.1,342.7 604.4,342.1 607.8,341.7 611.3,341.4 615.0,341.4 619.2,341.7 623.9,342.3 628.8,343.1 633.4,343.9 637.2,344.5 640.0,345.0" fill="none" stroke="#c8c8c8" stroke-width="1.2" stroke-linejoin="round" stroke-linecap="round" />
<polyline points="551.5,362.9 555.1,361.9 560.1,360.4 566.0,358.7 572.3,357.0 578.3,355.5 583.6,354.3 588.4,353.5 593.3,353.0 598.0,352.7 602.2,352.5 605.7,352.4 608.3,352.2" fill="none" stroke="#c8c8c8" stroke-width="1.2" stroke-linejoin="round" stroke-linecap="round" />
<polyline points="556.8,372.5 559.1,371.9 562.3,371.1 566.2,370.2 570.3,369.2 574.4,368.2 578.2,367.2 581.8,366.3 585.6,365.5 589.3,364.6 593.0,363.8 596.5,362.8 599.7,361.8 602.5,360.7 604.9,359.5 607.1,358.3 609.4,357.0 612.0,355.7 615.0,354.3 618.7,352.9 622.8,351.5 627.2,350.1 631.7,348.6 636.0,346.9 640.0,345.0 643.9,342.7 647.8,339.9 651.6,336.9 655.0,334.1 657.9,331.7 660.0,330.0" fill="none" stroke="#c8c8c8" stroke-width="1.2" stroke-linejoin="round" stroke-linecap="round" />
<polyline points="512.9,334.0 511.3,334.3 509.1,334.8 506.4,335.3 503.5,335.9 500.6,336.5 497.9,337.2 495.2,338.0 492.4,338.9 489.6,339.9 486.8,340.8 484.2,341.7 481.8,342.5 479.6,343.1 477.4,343.7 475.4,344.2 473.6,344.6 472.1,345.1 471.1,345.7 470.4,346.4 470.0,347.2 470.0,348.1 470.3,348.9 471.0,349.6 472.1,350.0 473.8,350.2 476.1,350.1 478.7,350.0 481.6,349.7 484.5,349.4 487.2,349.0 489.9,348.5 492.6,347.9 495.4,347.2 498.1,346.5 500.8,346.0 503.2,345.7 505.5,345.8 507.9,346.1 510.1,346.6 512.1,347.1 513.8,347.6 515.0,347.9" fill="none" stroke="#c8c8c8" stroke-width="1.2" stroke-linejoin="round" stroke-linecap="round" />
<polyline points="510.7,343.6 508.7,343.8 505.8,343.9 502.5,344.2 498.9,344.5 495.5,345.0 492.5,345.7 489.8,346.6 487.0,347.8 484.4,349.0 482.0,350.4 480.0,351.8 478.6,353.2 477.8,354.7 477.6,356.4 477.8,358.2 478.2,359.8 478.9,361.0 479.6,361.8 480.4,362.0 481.5,361.6 482.7,361.0 484.0,360.2 485.6,359.3 487.2,358.6 489.1,357.9 491.2,357.2 493.4,356.4 495.7,355.6 497.9,354.9 500.0,354.3 502.0,353.8 504.1,353.4 506.1,353.0 508.0,352.7 509.6,352.4 510.7,352.2" fill="none" stroke="#c8c8c8" stroke-width="1.2" stroke-linejoin="round" stroke-linecap="round" />
<polyline points="515.0,351.1 511.8,351.7 507.4,352.6 502.1,353.6 496.6,354.7 491.5,355.7 487.2,356.5 483.7,357.1 480.5,357.6 477.6,358.0 475.1,358.4 472.9,358.9 471.1,359.7 469.8,360.7 469.0,361.8 468.5,363.1 468.3,364.5 468.1,365.8 467.9,367.2 467.7,368.6 467.5,370.2 467.4,371.7 467.4,373.2 467.6,374.6 467.9,375.7 468.5,376.7 469.4,377.5 470.3,378.2 471.4,378.7 472.4,379.0 473.2,379.0 473.9,378.5 474.5,377.6 475.1,376.5 475.6,375.3 476.1,374.3 476.4,373.6" fill="none" stroke="#c8c8c8" stroke-width="1.2" stroke-linejoin="round" stroke-linecap="round" />
<polyline points="512.0,304.5 511.6,306.0 510.9,308.0 510.2,310.4 509.4,313.0 508.7,315.6 508.0,318.0 507.6,320.4 507.4,322.9 507.2,325.5 506.9,327.9 506.2,330.1 505.0,332.0 503.2,333.5 500.8,334.6 498.2,335.6 495.3,336.4 492.6,337.1 490.0,338.0 487.6,338.9 485.1,339.7 482.6,340.6 480.3,341.4 478.2,342.2 476.4,343.1 474.9,343.8 473.6,344.2 472.6,344.7 471.7,345.5 471.1,346.8 470.5,349.0 470.1,352.5 469.9,357.3 469.9,362.6 470.0,367.9 470.2,372.5 470.5,375.8 471.0,377.7 471.8,378.6 472.7,378.9 473.6,378.8 474.4,378.7 474.9,378.7" fill="none" stroke="#c8c8c8" stroke-width="1.2" stroke-linejoin="round" stroke-linecap="round" />
<polyline points="580.8,447.2 580.2,451.9 579.3,458.5 578.3,466.3 577.2,474.6 576.1,482.7 575.0,490.0 574.1,496.4 573.2,502.4 572.3,508.2 571.3,514.1 570.1,520.1 568.5,526.4 566.6,533.0 564.4,539.7 562.0,546.6 559.4,553.7 556.6,561.0 553.6,568.5 550.3,576.5 546.8,585.0 543.1,593.7 539.2,602.3 535.2,610.4 531.3,617.9 527.2,624.4 523.0,630.3 518.6,635.7 514.4,641.0 510.3,646.6 506.6,652.6 503.1,659.7 499.6,667.6 496.4,675.8 493.5,683.4 491.1,689.9 489.3,694.6" fill="none" stroke="#c8c8c8" stroke-width="1.2" stroke-linejoin="round" stroke-linecap="round" />
<polyline points="590.7,454.6 589.0,458.3 586.7,463.3 583.9,469.3 580.7,475.9 577.2,482.7 573.4,489.3 569.1,495.9 564.1,502.9 558.7,510.1 553.3,517.4 548.2,524.5 543.7,531.3 539.8,537.8 536.2,544.0 532.9,550.1 529.8,556.1 526.8,562.2 523.9,568.5 521.3,575.0 519.1,581.7 517.0,588.4 514.8,595.1 512.2,601.7 509.1,608.0 505.2,614.1 500.6,619.9 495.7,625.7 490.7,631.3 486.0,637.0 481.9,642.7 478.5,648.5 475.7,654.5 473.2,660.4 470.7,666.2 467.9,671.9 464.5,677.3 460.2,682.7 455.2,688.3 449.8,693.7 444.7,698.6 440.4,702.8 437.3,705.8" fill="none" stroke="#c8c8c8" stroke-width="1.2" stroke-linejoin="round" stroke-linecap="round" />
<polyline points="553.6,457.1 553.3,459.5 552.9,462.9 552.4,466.9 551.7,471.2 550.9,475.7 550.0,480.0 548.8,484.4 547.4,489.2 545.8,494.1 544.2,498.8 542.6,503.1 541.2,506.6 539.8,509.3 538.4,511.5 537.0,513.2 535.7,514.6 534.6,515.6 533.8,516.5" fill="none" stroke="#c8c8c8" stroke-width="1.2" stroke-linejoin="round" stroke-linecap="round" />
<polyline points="590.0,430.0 586.3,435.2 581.1,442.6 574.9,451.3 568.3,460.1 561.9,468.2 556.1,474.4 550.7,478.7 545.2,482.1 539.9,484.5 534.9,486.4 530.3,488.0 526.4,489.3 523.2,490.4 520.6,491.2 518.5,491.5 516.8,491.5 515.3,491.2 514.0,490.5 512.9,489.5 512.0,488.2 511.4,486.5 511.2,484.5 511.2,482.2 511.5,479.4 512.4,475.8 513.8,471.3 515.6,466.5 517.4,461.8 518.9,457.8 520.0,455.0" fill="none" stroke="#c8c8c8" stroke-width="1.2" stroke-linejoin="round" stroke-linecap="round" />
<polyline points="515.0,345.0 515.5,348.8 516.3,353.9 517.2,360.0 518.1,366.7 519.1,373.5 520.0,380.0 520.8,386.4 521.7,393.0 522.5,399.7 523.3,406.5 524.2,413.3 525.0,420.0 525.8,426.8 526.6,433.7 527.4,440.6 528.3,447.4 529.1,453.9 530.0,460.0 531.0,465.6 532.1,470.9 533.2,475.9 534.3,480.7 535.2,485.4 536.0,490.0 536.6,494.6 537.1,499.1 537.5,503.4 537.8,507.6 537.9,511.5 538.0,515.0 537.9,518.3 537.6,521.3 537.1,524.1 536.7,526.5 536.3,528.5 536.0,530.0" fill="none" stroke="#c8c8c8" stroke-width="1.2" stroke-linejoin="round" stroke-linecap="round" />
<polyline points="540.0,380.0 540.8,384.5 541.9,390.7 543.2,398.1 544.7,405.9 546.3,413.4 548.0,420.0 549.8,425.6 551.9,430.7 554.1,435.6 556.3,440.4 558.3,445.1 560.0,450.0 561.6,454.9 563.2,459.6 564.6,464.4 565.7,469.3 566.2,474.4 566.0,480.0 564.7,486.6 562.3,494.1 559.4,501.9 556.4,509.3 553.8,515.5 552.0,520.0" fill="none" stroke="#c8c8c8" stroke-width="1.2" stroke-linejoin="round" stroke-linecap="round" />
<polyline points="512.0,360.0 512.5,364.4 513.3,370.4 514.1,377.5 515.0,385.2 515.6,392.9 516.0,400.0 516.0,406.6 515.8,413.1 515.4,419.5 514.9,426.1 514.4,432.9 514.0,440.0 513.6,448.0 513.3,457.0 512.9,466.2 512.5,474.9 512.2,482.2 512.0,487.5" fill="none" stroke="#c8c8c8" stroke-width="1.2" stroke-linejoin="round" stroke-linecap="round" />
<polyline points="580.4,379.0 580.9,380.7 581.6,383.2 582.4,386.1 583.3,388.8 584.2,390.9 585.0,392.0 585.7,391.7 586.5,390.4 587.3,388.4 588.0,386.3 588.6,384.4 589.0,383.2" fill="none" stroke="#c8c8c8" stroke-width="1.2" stroke-linejoin="round" stroke-linecap="round" />
<polyline points="600.0,380.0 601.1,382.1 602.6,384.8 604.4,388.1 606.3,391.9 608.2,395.9 610.0,400.0 611.6,404.5 613.0,409.4 614.4,414.7 615.9,420.0 617.8,425.2 620.0,430.0 623.0,434.7 626.7,439.6 630.6,444.4 634.4,448.7 637.7,452.3 640.0,455.0" fill="none" stroke="#c8c8c8" stroke-width="1.2" stroke-linejoin="round" stroke-linecap="round" />
<polyline points="813.8,530.3 809.8,527.2 804.1,522.7 797.4,517.5 790.2,512.1 783.0,506.8 775.6,501.6 767.6,496.1 759.4,490.5 751.5,485.3 744.4,480.8 738.5,477.3 733.5,474.6 728.7,472.1 723.6,469.5 717.5,466.1 710.2,461.8 702.0,456.8 693.5,451.6 684.9,446.6 676.6,442.1 668.7,438.2 660.8,434.7 653.1,431.4 645.6,428.2 638.3,424.9 631.3,421.6 624.5,418.3 618.0,415.1 611.8,411.7 606.0,408.3 600.6,404.6 595.7,400.9 591.0,397.0 586.7,393.0 582.5,389.0 578.6,384.7 574.8,380.3 571.3,375.8 568.1,371.5 565.4,367.6 563.1,364.0 561.2,360.5 559.6,357.4 558.3,354.9 557.4,353.0" fill="none" stroke="#707070" stroke-width="1.15" stroke-linejoin="round" stroke-linecap="round" />
<polyline points="814.3,530.9 810.1,527.7 804.2,523.2 797.3,517.9 789.8,512.3 782.6,507.1 775.1,501.9 767.2,496.5 759.1,491.2 751.3,486.1 744.2,481.7 738.3,478.3 733.1,475.7 728.2,473.3 723.0,470.7 716.8,467.3 709.5,462.9 701.5,457.8 693.0,452.5 684.6,447.3 676.4,442.6 668.5,438.7 660.6,435.3 652.8,432.0 645.3,428.8 638.1,425.4 631.3,421.8 624.7,418.1 618.4,414.5 612.4,410.8 606.6,407.2 601.2,403.7 596.0,400.3 591.1,396.9 586.5,393.4 582.2,389.5 578.3,385.4 574.8,380.9 571.6,376.3 568.6,371.7 565.6,367.2 562.7,362.7 560.0,358.1 557.4,353.6 554.9,349.5 552.5,346.0 550.2,343.2 547.9,340.9 545.7,339.0 543.8,337.3 542.2,335.7 540.8,334.1 539.8,332.8 538.9,331.6 538.3,330.6 537.8,329.9" fill="none" stroke="#707070" stroke-width="1.15" stroke-linejoin="round" stroke-linecap="round" />
<polyline points="815.2,529.9 810.7,526.9 804.4,522.7 797.0,517.8 789.2,512.6 781.8,507.5 774.4,502.2 766.6,496.6 758.8,490.8 751.3,485.5 744.4,481.0 738.5,477.6 733.3,475.0 728.3,472.8 723.0,470.5 716.7,467.6 709.1,463.9 700.7,459.9 691.9,455.6 683.0,451.4 674.6,447.5 666.6,443.9 658.7,440.4 651.0,437.1 643.4,433.8 636.1,430.5 629.0,427.2 622.0,423.8 615.3,420.5 608.9,417.1 603.0,413.5 597.5,409.8 592.5,405.9 587.9,402.0 583.5,398.1 579.2,394.2 575.1,390.4 571.3,386.5 567.6,382.7 564.2,379.1 560.9,375.8 557.8,372.7 554.6,369.7 551.8,367.0 549.4,364.8 547.7,363.2" fill="none" stroke="#707070" stroke-width="1.15" stroke-linejoin="round" stroke-linecap="round" />
<polyline points="814.6,530.6 810.4,527.4 804.5,522.9 797.4,517.7 790.0,512.2 782.6,507.0 775.2,502.0 767.2,496.7 759.1,491.5 751.3,486.6 744.1,482.4 738.0,479.2 732.6,476.7 727.5,474.5 722.0,472.2 715.7,469.2 708.2,465.5 699.9,461.2 691.3,456.7 682.6,452.3 674.4,448.1 666.5,444.3 658.6,440.7 651.0,437.1 643.5,433.6 636.3,430.0 629.4,426.3 622.7,422.5 616.3,418.8 610.0,415.1 604.1,411.6 598.4,408.3 593.0,405.1 587.8,402.0 582.8,399.1 577.9,396.3 572.9,393.6 567.7,390.9 562.8,388.4 558.7,386.4 555.7,384.9" fill="none" stroke="#707070" stroke-width="1.15" stroke-linejoin="round" stroke-linecap="round" />
<polyline points="815.4,529.5 811.0,526.5 804.7,522.3 797.4,517.5 789.6,512.3 782.1,507.3 774.7,502.3 766.8,496.9 758.8,491.5 751.2,486.5 744.2,482.2 738.1,478.8 732.8,476.3 727.8,474.1 722.4,471.6 716.1,468.5 708.7,464.3 700.6,459.6 692.1,454.6 683.6,449.8 675.4,445.4 667.5,441.5 659.6,438.0 651.9,434.7 644.4,431.3 637.2,427.8 630.3,424.1 623.8,420.2 617.5,416.4 611.4,412.5 605.7,408.8 600.1,405.4 594.9,402.1 589.9,398.8 585.2,395.4 580.9,391.6 577.0,387.5 573.5,383.1 570.4,378.5 567.4,373.9 564.4,369.4 561.6,365.0 559.0,360.7 556.5,356.4 553.9,352.2 551.3,347.9 548.3,343.4 545.0,338.5 541.8,333.9 539.0,329.9 537.0,327.1" fill="none" stroke="#707070" stroke-width="1.15" stroke-linejoin="round" stroke-linecap="round" />
<polyline points="814.4,530.4 810.1,527.3 803.9,523.0 796.7,517.9 789.1,512.6 781.7,507.5 774.3,502.5 766.5,497.3 758.6,492.0 751.0,487.1 744.0,482.8 738.0,479.5 732.6,476.9 727.5,474.7 722.0,472.2 715.7,469.2 708.2,465.3 700.0,460.9 691.4,456.3 682.8,451.7 674.6,447.5 666.6,443.8 658.7,440.4 651.0,437.1 643.4,433.8 636.2,430.3 629.3,426.6 622.6,422.8 616.2,418.9 610.0,415.1 604.0,411.7 598.2,408.7 592.4,406.0 586.9,403.5 581.8,400.7 577.1,397.6 573.0,393.9 569.5,389.8 566.3,385.6 563.3,381.2 560.4,376.7 557.6,372.1 554.9,367.2 552.4,362.3 550.1,357.7 547.8,353.5 545.7,349.8 543.7,346.5 541.8,343.4 540.1,340.6 538.5,337.9 537.1,335.2 535.7,332.7 534.5,330.4 533.5,328.5 532.8,327.1" fill="none" stroke="#707070" stroke-width="1.15" stroke-linejoin="round" stroke-linecap="round" />
<polyline points="813.7,529.6 809.5,526.6 803.6,522.5 796.6,517.6 789.2,512.4 781.9,507.4 774.6,502.4 766.8,497.1 758.8,491.7 751.1,486.7 744.1,482.3 738.2,478.8 733.1,476.0 728.1,473.5 722.8,470.8 716.6,467.7 709.1,463.9 700.7,459.7 692.0,455.3 683.2,450.9 674.8,446.9 666.9,443.2 659.0,439.7 651.3,436.2 643.8,432.8 636.6,429.2 629.8,425.5 623.2,421.6 616.8,417.7 610.8,413.8 605.0,410.0 599.5,406.4 594.4,402.9 589.5,399.4 584.9,395.8 580.7,391.9 576.8,387.8 573.2,383.5 570.0,379.1 566.9,374.7 563.9,370.3 560.9,365.7 558.0,360.8 555.2,356.0 552.9,351.7 551.1,348.3 549.9,346.0 549.4,344.4 549.2,343.4 549.1,342.7 549.0,342.1" fill="none" stroke="#707070" stroke-width="1.15" stroke-linejoin="round" stroke-linecap="round" />
<polyline points="814.0,529.3 809.6,526.5 803.4,522.5 796.1,517.8 788.4,512.8 781.0,507.9 773.7,503.0 766.0,497.7 758.3,492.4 750.8,487.4 744.0,483.0 738.1,479.5 732.9,476.6 727.9,474.1 722.6,471.4 716.3,468.1 708.9,464.2 700.6,459.8 691.9,455.3 683.2,450.8 674.9,446.6 667.0,442.8 659.2,439.2 651.5,435.8 644.0,432.4 636.7,429.0 629.6,425.7 622.6,422.5 615.9,419.3 609.5,416.0 603.4,412.7 597.8,409.3 592.5,406.0 587.6,402.5 583.0,398.9 578.7,395.0 574.9,390.8 571.6,386.3 568.6,381.6 565.7,376.8 562.9,372.2 560.1,367.5 557.3,362.7 554.7,357.9 552.3,353.5 550.2,349.6 548.4,346.3 546.7,343.3 545.3,340.8 544.2,338.7 543.4,337.2" fill="none" stroke="#8c8c8c" stroke-width="1.15" stroke-linejoin="round" stroke-linecap="round" />
<polyline points="815.4,530.9 810.8,527.8 804.3,523.4 796.6,518.3 788.6,512.9 781.0,507.9 773.6,503.0 765.9,497.8 758.2,492.8 750.7,488.0 743.8,483.8 737.7,480.5 732.4,477.8 727.2,475.4 721.6,472.9 715.2,469.9 707.7,466.3 699.4,462.4 690.6,458.2 681.9,454.2 673.5,450.4 665.5,447.0 657.5,443.8 649.7,440.7 642.0,437.5 634.7,434.2 627.5,430.8 620.5,427.2 613.8,423.6 607.4,420.0 601.3,416.5 595.5,412.9 590.0,409.2 584.8,405.6 580.0,402.4 575.8,399.6 572.1,397.4 568.8,395.6 565.9,394.2 563.6,393.1 561.9,392.2" fill="none" stroke="#8c8c8c" stroke-width="1.15" stroke-linejoin="round" stroke-linecap="round" />
<polyline points="814.2,529.7 809.7,526.8 803.3,522.7 795.9,517.9 788.1,512.9 780.6,508.1 773.3,503.4 765.7,498.5 758.0,493.7 750.5,489.0 743.6,485.0 737.5,481.6 732.0,478.9 726.8,476.4 721.2,473.8 714.8,470.7 707.3,466.8 699.2,462.5 690.6,458.0 682.1,453.7 673.7,449.8 665.7,446.6 657.6,443.8 649.6,441.1 641.7,438.6 634.0,436.0 626.3,433.3 618.7,430.8 611.3,428.2 604.2,425.5 597.7,422.6 591.7,419.5 586.2,416.3 581.1,413.0 576.4,409.3 572.2,405.3 568.7,400.8 565.8,395.8 563.3,390.6 561.0,385.4 558.4,380.5 555.6,375.8 552.7,371.3 549.8,366.8 547.1,362.5 544.7,358.4 542.4,354.3 540.2,350.1 538.2,346.2 536.6,342.9 535.4,340.5" fill="none" stroke="#707070" stroke-width="1.15" stroke-linejoin="round" stroke-linecap="round" />
<polyline points="814.5,531.2 810.0,528.1 803.6,523.7 796.2,518.5 788.4,513.1 780.9,508.0 773.6,502.9 766.0,497.5 758.3,492.2 750.9,487.2 744.0,483.0 737.9,479.7 732.5,477.2 727.2,475.1 721.6,472.9 715.1,470.2 707.5,466.8 699.1,462.9 690.3,459.0 681.5,455.1 673.1,451.6 664.9,448.7 656.7,446.0 648.6,443.5 640.8,440.8 633.2,437.8 626.0,434.4 619.0,430.7 612.2,426.8 605.8,422.9 599.8,419.0 594.3,415.1 589.1,411.1 584.3,407.1 579.9,403.3 575.8,399.7 571.9,396.1 568.3,392.6 565.1,389.3 562.4,386.6 560.5,384.6" fill="none" stroke="#707070" stroke-width="1.15" stroke-linejoin="round" stroke-linecap="round" />
<polyline points="815.6,530.2 810.7,527.2 803.9,523.1 795.9,518.3 787.7,513.3 779.9,508.5 772.5,503.8 765.0,498.9 757.5,494.0 750.3,489.4 743.5,485.2 737.6,481.6 732.4,478.5 727.3,475.7 721.9,472.6 715.7,469.2 708.3,465.0 700.2,460.4 691.7,455.6 683.1,451.0 674.8,447.0 666.7,443.7 658.6,440.8 650.6,438.2 642.8,435.5 635.3,432.7 627.9,429.7 620.7,426.6 613.8,423.5 607.2,420.2 601.1,416.8 595.4,413.4 590.2,409.8 585.3,406.2 580.9,402.3 576.8,398.0 573.3,393.2 570.3,387.7 567.6,382.2 565.1,377.0 562.7,372.6 560.1,369.1 557.6,366.1 555.3,363.6 553.3,361.6 551.9,360.2" fill="none" stroke="#707070" stroke-width="1.15" stroke-linejoin="round" stroke-linecap="round" />
<polyline points="814.8,530.3 810.2,527.3 803.7,523.1 796.2,518.1 788.3,512.9 780.7,508.1 773.3,503.4 765.7,498.6 757.9,493.8 750.5,489.3 743.5,485.2 737.4,481.9 731.9,479.3 726.6,476.8 721.0,474.2 714.6,471.0 707.2,467.0 699.1,462.5 690.7,457.8 682.2,453.4 673.9,449.5 665.8,446.3 657.6,443.7 649.5,441.3 641.6,438.8 634.0,436.0 626.6,432.8 619.5,429.5 612.6,426.0 606.0,422.5 599.8,419.1 593.9,415.8 588.4,412.5 583.2,409.2 578.3,406.0 573.7,403.0 569.2,399.9 564.8,396.8 560.7,393.9 557.4,391.5 554.9,389.7" fill="none" stroke="#707070" stroke-width="1.15" stroke-linejoin="round" stroke-linecap="round" />
<polyline points="815.2,530.3 810.5,527.4 803.7,523.2 795.9,518.3 787.7,513.2 780.0,508.4 772.6,503.8 765.1,498.9 757.6,494.1 750.3,489.5 743.4,485.5 737.3,482.3 731.7,479.7 726.3,477.4 720.5,474.9 714.0,472.0 706.5,468.3 698.3,464.2 689.8,460.0 681.2,455.9 672.9,452.2 664.7,449.2 656.5,446.6 648.4,444.1 640.5,441.6 632.8,438.9 625.3,435.8 618.0,432.7 610.8,429.4 604.0,426.0 597.7,422.6 592.0,419.1 586.6,415.6 581.6,412.0 577.0,408.2 572.8,404.4 568.9,400.4 565.6,396.4 562.5,392.2 559.6,387.9 556.7,383.5 553.9,378.8 551.1,373.7 548.5,368.7 546.0,363.9 543.8,359.8 541.7,356.3 539.8,353.2 538.1,350.6 536.7,348.4 535.6,346.8" fill="none" stroke="#707070" stroke-width="1.15" stroke-linejoin="round" stroke-linecap="round" />
<polyline points="814.0,529.5 809.4,526.7 803.0,522.7 795.4,518.1 787.6,513.1 780.1,508.4 772.8,503.7 765.3,498.6 757.8,493.5 750.5,488.8 743.6,484.7 737.4,481.6 731.8,479.1 726.4,477.0 720.6,474.7 714.0,472.0 706.4,468.6 698.1,464.9 689.4,461.0 680.7,457.2 672.2,453.9 664.0,451.0 655.8,448.6 647.6,446.2 639.7,443.8 632.0,441.1 624.5,437.9 617.1,434.6 609.9,431.2 603.1,427.7 596.8,424.2 590.8,420.6 585.0,416.8 579.7,413.1 575.1,409.7 571.2,406.9 568.3,404.8 566.2,403.2 564.8,402.0 563.7,401.1 562.9,400.4" fill="none" stroke="#707070" stroke-width="1.15" stroke-linejoin="round" stroke-linecap="round" />
<polyline points="815.7,531.0 810.8,527.9 804.0,523.6 796.0,518.6 787.6,513.4 779.9,508.5 772.5,503.7 765.0,498.8 757.6,493.9 750.4,489.3 743.5,485.2 737.3,482.0 731.8,479.5 726.3,477.2 720.5,474.9 713.8,472.2 706.2,469.0 697.8,465.5 689.1,461.9 680.3,458.4 671.8,455.1 663.6,452.3 655.4,449.7 647.3,447.2 639.4,444.6 631.7,441.7 624.2,438.5 616.9,435.1 609.7,431.6 603.0,428.0 596.6,424.5 590.8,421.0 585.4,417.6 580.3,414.0 575.6,410.4 571.4,406.6 567.6,402.5 564.4,398.3 561.5,393.9 558.7,389.5 555.8,385.2 552.8,380.9 549.7,376.4 546.7,372.1 543.7,368.0 540.9,364.4 538.1,361.1 535.3,358.0 532.6,355.2 530.3,353.0 528.7,351.3" fill="none" stroke="#707070" stroke-width="1.15" stroke-linejoin="round" stroke-linecap="round" />
<polyline points="814.2,529.4 809.5,526.6 802.8,522.7 795.0,518.2 786.9,513.4 779.3,508.8 772.0,504.3 764.6,499.5 757.3,494.7 750.1,490.1 743.3,486.0 737.3,482.6 731.9,479.7 726.6,477.1 721.0,474.3 714.5,471.0 707.1,467.1 699.0,462.8 690.5,458.3 681.9,454.0 673.6,450.2 665.5,447.1 657.3,444.4 649.3,441.9 641.4,439.4 633.7,436.6 626.2,433.7 618.8,430.7 611.7,427.5 605.0,424.2 598.8,420.7 593.1,416.7 587.8,412.2 583.0,407.7 578.8,403.5 575.5,400.1 573.1,397.6 571.6,395.6 570.8,394.0 570.2,392.9 569.7,392.0" fill="none" stroke="#707070" stroke-width="1.15" stroke-linejoin="round" stroke-linecap="round" />
<polyline points="815.0,530.9 810.3,527.8 803.7,523.4 796.0,518.3 787.9,513.1 780.3,508.3 772.9,503.8 765.3,499.2 757.6,494.7 750.2,490.5 743.2,486.6 737.0,483.4 731.4,480.6 726.0,478.1 720.3,475.4 713.8,472.3 706.2,468.8 698.0,464.9 689.4,460.9 680.8,456.9 672.6,453.0 664.7,449.2 656.9,445.5 649.3,441.8 641.8,438.1 634.5,434.5 627.4,431.0 620.4,427.5 613.5,424.0 607.0,420.6 600.8,417.3 594.9,414.1 589.4,411.0 584.1,407.9 579.3,404.7 574.8,401.2 570.8,397.4 567.3,393.5 564.1,389.3 561.2,384.9 558.5,380.3 556.0,375.1 553.7,369.4 551.7,363.6 549.8,358.1 547.9,353.4 546.0,349.4 544.2,346.1 542.4,343.1 540.7,340.3 539.1,337.6 537.4,334.7 535.6,331.8 534.0,329.2 532.6,327.0 531.6,325.4" fill="none" stroke="#707070" stroke-width="1.15" stroke-linejoin="round" stroke-linecap="round" />
<polyline points="814.7,529.7 810.0,526.8 803.3,522.8 795.5,518.2 787.4,513.2 779.8,508.5 772.5,503.9 765.1,498.9 757.6,494.0 750.3,489.4 743.5,485.4 737.3,482.2 731.6,479.8 726.1,477.6 720.3,475.3 713.7,472.4 706.2,468.8 698.0,464.8 689.5,460.6 680.9,456.5 672.6,452.8 664.5,449.7 656.4,446.9 648.4,444.2 640.5,441.4 633.0,438.4 625.8,434.9 618.7,431.3 611.9,427.5 605.4,423.6 599.3,419.8 593.7,415.9 588.3,411.9 583.4,408.0 579.0,404.2 575.1,400.7 572.0,397.4 569.4,394.2 567.3,391.2 565.7,388.8 564.4,387.0" fill="none" stroke="#8c8c8c" stroke-width="1.15" stroke-linejoin="round" stroke-linecap="round" />
<polyline points="815.7,530.0 810.7,527.1 803.7,523.1 795.5,518.4 787.0,513.5 779.1,508.9 771.8,504.5 764.4,500.0 757.0,495.6 749.9,491.4 743.0,487.6 736.7,484.5 730.9,482.0 725.2,479.6 719.3,477.1 712.6,474.2 705.2,470.5 697.1,466.5 688.7,462.2 680.3,458.1 672.1,454.3 664.1,450.9 656.1,447.7 648.2,444.7 640.5,441.7 632.9,438.6 625.5,435.4 618.2,432.2 611.0,429.0 604.2,425.7 597.8,422.4 591.9,419.3 586.2,416.2 580.9,413.0 576.1,409.7 571.7,406.0 567.9,401.9 564.8,397.5 561.9,392.8 559.2,388.2 556.5,384.0 553.5,379.7 550.4,375.4 547.5,371.3 545.0,367.8 543.2,365.3" fill="none" stroke="#707070" stroke-width="1.15" stroke-linejoin="round" stroke-linecap="round" />
<polyline points="814.6,529.6 809.8,526.8 803.1,522.8 795.2,518.2 787.0,513.4 779.3,508.8 772.0,504.4 764.6,499.9 757.2,495.4 750.0,491.1 743.0,487.5 736.6,484.6 730.6,482.4 724.6,480.4 718.4,478.4 711.6,475.8 704.0,472.7 695.8,469.2 687.3,465.6 678.8,461.9 670.6,458.4 662.6,455.1 654.6,451.9 646.8,448.6 639.1,445.4 631.5,442.2 624.0,438.9 616.6,435.6 609.4,432.3 602.4,429.0 595.8,425.9 589.5,423.2 583.4,420.7 577.7,418.2 572.4,415.5 567.8,412.3 563.9,408.5 560.8,404.3 558.0,399.9 555.5,395.3 552.9,390.5 550.2,385.3 547.5,379.6 545.0,373.8 542.8,368.6 540.9,364.5 539.4,361.5 538.3,359.4 537.5,357.9 536.8,356.9 536.3,356.0" fill="none" stroke="#707070" stroke-width="1.15" stroke-linejoin="round" stroke-linecap="round" />
<polyline points="813.8,529.3 809.1,526.6 802.4,522.7 794.7,518.2 786.6,513.4 779.0,508.9 771.8,504.6 764.5,500.0 757.1,495.4 749.9,491.1 743.1,487.3 736.8,484.2 731.0,481.8 725.2,479.5 719.2,477.1 712.5,474.3 705.0,470.9 696.8,467.1 688.3,463.2 679.8,459.3 671.5,455.8 663.4,452.8 655.3,450.0 647.3,447.3 639.4,444.6 631.7,441.7 624.2,438.6 616.7,435.5 609.4,432.2 602.5,428.9 596.1,425.5 590.1,422.2 584.6,418.8 579.5,415.4 574.8,411.8 570.4,408.0 566.6,404.1 563.4,400.0 560.4,395.8 557.7,391.3 555.0,386.7 552.4,381.7 550.0,376.3 547.7,370.7 545.5,365.4 543.4,360.5 541.4,356.0 539.6,351.9 537.8,348.1 536.0,344.3 534.1,340.6 531.8,336.8 529.2,332.8 526.7,329.0 524.5,325.8 522.9,323.6" fill="none" stroke="#707070" stroke-width="1.15" stroke-linejoin="round" stroke-linecap="round" />
<polyline points="814.0,530.3 809.2,527.4 802.4,523.3 794.5,518.6 786.3,513.7 778.7,509.1 771.4,504.9 764.1,500.7 756.8,496.5 749.6,492.6 742.7,489.0 736.4,486.0 730.5,483.4 724.6,481.0 718.5,478.5 711.8,475.6 704.2,472.2 696.1,468.4 687.7,464.6 679.2,460.8 671.0,457.3 662.9,454.1 654.9,451.2 646.9,448.4 639.1,445.6 631.3,442.9 623.4,440.2 615.5,437.7 607.8,435.2 600.4,432.6 593.6,429.8 587.5,426.7 581.7,423.5 576.5,420.2 571.7,416.6 567.4,412.9 563.6,408.6 560.5,403.9 557.7,399.1 555.2,394.6 552.8,390.8 550.3,387.5 547.9,384.7 545.8,382.2 543.9,380.2 542.6,378.8" fill="none" stroke="#707070" stroke-width="1.15" stroke-linejoin="round" stroke-linecap="round" />
<polyline points="814.7,529.3 809.8,526.5 803.0,522.7 795.0,518.1 786.7,513.4 778.9,509.0 771.7,504.8 764.3,500.4 757.0,496.1 749.8,492.0 742.8,488.4 736.4,485.5 730.4,483.2 724.4,481.1 718.1,478.9 711.3,476.4 703.7,473.3 695.4,469.9 686.9,466.4 678.4,462.9 670.1,459.6 662.1,456.3 654.1,453.2 646.2,450.1 638.5,446.9 631.0,443.6 623.6,440.0 616.4,436.3 609.3,432.5 602.5,428.9 596.0,425.6 589.7,422.7 583.6,420.3 577.8,417.9 572.4,415.4 567.7,412.4 563.6,408.6 560.0,404.3 557.0,399.8 554.3,395.6 551.9,392.4 549.8,390.2 548.0,388.6 546.6,387.5 545.4,386.8 544.6,386.1" fill="none" stroke="#707070" stroke-width="1.15" stroke-linejoin="round" stroke-linecap="round" />
<polyline points="815.2,530.5 810.2,527.6 803.2,523.5 794.9,518.7 786.4,513.8 778.6,509.2 771.3,504.8 764.0,500.3 756.8,495.9 749.8,491.7 742.9,488.1 736.5,485.2 730.5,482.9 724.5,480.8 718.3,478.7 711.4,476.2 703.7,473.3 695.4,470.0 686.9,466.7 678.3,463.4 669.9,460.2 661.7,457.4 653.6,454.7 645.5,452.1 637.6,449.3 629.9,446.4 622.3,443.1 614.9,439.5 607.6,435.9 600.6,432.3 594.1,428.9 587.9,425.9 581.9,423.0 576.4,420.2 571.2,417.3 566.7,414.0 562.7,410.4 559.5,406.6 556.6,402.5 553.9,398.2 551.2,393.7 548.4,388.7 545.6,383.1 543.0,377.4 540.7,372.1 538.8,367.8 537.4,364.3 536.3,361.6 535.5,359.3 534.9,357.6 534.5,356.2" fill="none" stroke="#707070" stroke-width="1.15" stroke-linejoin="round" stroke-linecap="round" />
<polyline points="814.1,531.3 809.2,528.3 802.4,524.0 794.4,519.1 786.1,514.0 778.4,509.3 771.2,504.8 764.0,500.2 756.8,495.6 749.8,491.4 743.0,487.8 736.6,484.9 730.6,482.6 724.6,480.6 718.3,478.6 711.4,476.2 703.7,473.3 695.4,470.2 686.8,466.9 678.2,463.6 669.8,460.4 661.7,457.3 653.7,454.3 645.8,451.3 638.0,448.2 630.5,444.9 623.1,441.3 615.8,437.5 608.8,433.6 602.1,429.7 595.8,426.0 589.9,422.5 584.3,419.2 579.1,415.8 574.3,412.5 569.9,408.9 566.0,405.2 562.5,401.5 559.4,397.6 556.5,393.5 553.6,389.3 550.7,384.7 547.9,379.9 545.2,374.9 542.7,369.9 540.5,365.1 538.7,360.1 537.2,355.1 535.9,350.1 534.6,345.4 533.2,341.2 531.6,337.2 529.8,333.5 528.1,330.1 526.6,327.3 525.6,325.3" fill="none" stroke="#8c8c8c" stroke-width="1.15" stroke-linejoin="round" stroke-linecap="round" />
<polyline points="815.5,530.3 810.5,527.4 803.5,523.2 795.4,518.4 786.9,513.5 779.1,508.9 771.8,504.6 764.4,500.1 757.1,495.7 749.9,491.6 742.9,488.1 736.3,485.4 730.1,483.4 724.0,481.6 717.6,479.8 710.6,477.5 702.9,474.7 694.6,471.7 686.1,468.4 677.5,465.1 669.3,461.8 661.3,458.5 653.4,455.2 645.6,451.8 638.0,448.3 630.5,444.9 623.1,441.3 615.8,437.6 608.6,433.9 601.7,430.3 595.2,426.9 589.0,423.9 583.1,421.1 577.5,418.4 572.3,415.6 567.5,412.6 563.5,409.2 560.0,405.5 556.9,401.8 553.9,398.1 550.6,394.8 546.8,391.6 542.7,388.4 538.8,385.5 535.4,383.0 533.0,381.2" fill="none" stroke="#8c8c8c" stroke-width="1.15" stroke-linejoin="round" stroke-linecap="round" />
<polyline points="814.5,531.3 809.6,528.3 802.6,524.0 794.5,519.0 786.0,513.9 778.3,509.4 771.0,505.2 763.7,501.1 756.5,497.2 749.4,493.5 742.5,490.1 735.9,487.4 729.7,485.1 723.6,483.0 717.2,480.8 710.2,478.1 702.7,474.9 694.6,471.3 686.3,467.5 678.0,463.8 669.9,460.2 662.0,456.8 654.1,453.4 646.3,450.1 638.6,446.9 630.9,443.8 623.2,440.8 615.4,438.0 607.8,435.2 600.4,432.6 593.5,430.0 586.9,427.6 580.4,425.6 574.3,423.5 568.8,421.1 564.0,418.2 560.2,414.5 557.1,410.4 554.5,406.0 552.2,401.3 549.7,396.4 547.2,391.0 544.7,385.1 542.3,379.0 540.1,373.5 538.2,368.8 536.3,365.1 534.7,362.0 533.2,359.4 532.0,357.4 531.1,355.9" fill="none" stroke="#707070" stroke-width="1.15" stroke-linejoin="round" stroke-linecap="round" />
<polyline points="815.6,530.4 810.3,527.6 802.9,523.6 794.3,519.0 785.4,514.2 777.4,509.8 770.1,505.8 763.0,501.6 756.1,497.6 749.2,493.8 742.4,490.3 736.0,487.5 729.8,485.1 723.7,482.9 717.3,480.6 710.4,477.9 702.8,474.6 694.8,470.9 686.5,467.1 678.1,463.5 669.9,460.2 661.8,457.4 653.6,454.9 645.4,452.6 637.3,450.3 629.3,447.8 621.3,445.3 613.2,442.8 605.3,440.2 597.7,437.5 590.8,434.6 584.5,431.6 578.7,428.4 573.4,425.1 568.6,421.5 564.3,417.7 560.8,413.5 558.0,408.8 555.6,404.0 553.2,399.3 550.6,394.7 547.5,390.2 544.1,385.5 540.8,381.0 537.9,377.2 535.9,374.4" fill="none" stroke="#707070" stroke-width="1.15" stroke-linejoin="round" stroke-linecap="round" />
<polyline points="814.8,530.1 809.7,527.3 802.6,523.3 794.2,518.8 785.6,514.0 777.7,509.6 770.5,505.5 763.4,501.4 756.3,497.3 749.3,493.4 742.5,489.9 736.1,486.9 730.1,484.3 724.1,482.0 717.8,479.6 710.9,477.0 703.2,474.2 694.8,471.2 686.2,468.2 677.6,465.1 669.2,462.1 661.1,459.2 653.0,456.4 645.0,453.5 637.1,450.6 629.4,447.6 621.7,444.5 614.0,441.3 606.5,438.1 599.3,434.8 592.5,431.6 586.3,428.6 580.3,425.7 574.8,422.8 569.7,419.8 565.2,416.3 561.4,412.4 558.2,408.0 555.4,403.5 552.9,399.1 550.3,395.3 547.7,391.8 545.0,388.5 542.5,385.5 540.5,383.0 539.0,381.2" fill="none" stroke="#707070" stroke-width="1.15" stroke-linejoin="round" stroke-linecap="round" />
<polyline points="815.2,530.1 810.0,527.3 802.7,523.4 794.3,518.8 785.5,514.1 777.6,509.7 770.4,505.6 763.2,501.4 756.2,497.2 749.3,493.3 742.6,489.8 736.2,486.8 730.2,484.2 724.2,481.8 718.0,479.4 711.1,476.7 703.5,473.5 695.3,470.2 686.8,466.7 678.3,463.3 670.0,460.0 662.0,456.8 654.0,453.6 646.1,450.5 638.3,447.4 630.8,444.1 623.3,440.8 615.8,437.3 608.6,433.9 601.7,430.4 595.2,426.9 589.2,423.6 583.6,420.5 578.3,417.3 573.5,413.9 569.2,410.0 565.5,405.6 562.4,400.5 559.8,395.3 557.4,390.4 555.3,386.2 553.3,382.7 551.5,379.6 550.0,376.9 548.8,374.8 547.9,373.2" fill="none" stroke="#707070" stroke-width="1.15" stroke-linejoin="round" stroke-linecap="round" />
<polyline points="815.4,529.3 810.3,526.6 803.0,522.8 794.6,518.4 785.9,513.8 777.9,509.6 770.6,505.5 763.4,501.4 756.3,497.3 749.3,493.5 742.5,490.1 736.0,487.3 729.7,485.0 723.6,482.9 717.1,480.8 710.2,478.2 702.5,475.3 694.3,472.1 685.9,468.7 677.4,465.3 669.2,462.1 661.1,459.1 653.1,456.1 645.1,453.2 637.3,450.1 629.7,446.8 622.4,443.1 615.2,439.1 608.2,434.9 601.5,430.9 595.2,427.1 589.3,423.5 583.8,420.0 578.6,416.6 573.7,413.4 569.0,410.4 564.3,407.3 559.6,404.3 555.3,401.5 551.7,399.1 549.1,397.4" fill="none" stroke="#8c8c8c" stroke-width="1.15" stroke-linejoin="round" stroke-linecap="round" />
<polyline points="815.1,530.6 809.9,527.8 802.4,523.9 793.7,519.3 784.8,514.5 776.8,510.1 769.7,506.0 762.7,501.8 755.8,497.7 749.1,493.8 742.5,490.3 736.1,487.3 730.0,484.7 724.0,482.4 717.7,479.9 710.8,477.2 703.2,473.9 695.1,470.4 686.7,466.8 678.2,463.3 669.9,460.1 661.7,457.4 653.4,455.2 645.2,453.0 637.1,450.7 629.3,447.9 621.7,444.5 614.4,440.8 607.2,436.8 600.4,432.8 594.1,429.0 588.1,425.4 582.6,422.0 577.4,418.6 572.7,415.1 568.5,411.2 564.8,406.8 561.7,401.9 559.0,396.9 556.6,392.2 554.2,388.2 551.8,384.8 549.4,381.7 547.3,379.1 545.6,377.0 544.3,375.4" fill="none" stroke="#707070" stroke-width="1.15" stroke-linejoin="round" stroke-linecap="round" />
<polyline points="814.1,530.5 809.1,527.7 801.8,523.7 793.5,519.1 784.9,514.4 777.0,510.0 769.9,506.0 762.8,502.0 755.9,498.0 749.0,494.3 742.3,490.8 735.9,487.8 729.9,485.2 723.8,482.7 717.5,480.3 710.6,477.6 702.9,474.7 694.6,471.6 686.0,468.5 677.4,465.4 669.1,462.4 661.0,459.5 652.9,456.7 644.9,453.9 637.0,451.0 629.2,448.1 621.4,445.1 613.6,442.0 606.0,438.9 598.8,435.6 592.3,432.1 586.4,428.4 581.2,424.4 576.4,420.3 572.1,416.1 568.1,411.7 564.5,407.0 561.3,401.8 558.5,396.7 556.1,392.0 554.3,388.1 553.0,385.0 552.3,382.6 552.0,380.7 551.9,379.2 551.7,378.0" fill="none" stroke="#707070" stroke-width="1.15" stroke-linejoin="round" stroke-linecap="round" />
<polyline points="815.6,529.8 810.3,527.0 802.9,523.1 794.3,518.6 785.4,514.0 777.4,509.8 770.1,505.9 763.0,502.1 756.0,498.3 749.0,494.7 742.2,491.4 735.6,488.7 729.3,486.3 723.0,484.1 716.5,481.9 709.5,479.4 701.8,476.6 693.6,473.6 685.1,470.4 676.7,467.3 668.5,464.1 660.5,460.8 652.7,457.4 644.9,454.0 637.1,450.7 629.4,447.5 621.6,444.6 613.7,441.8 605.9,439.0 598.4,436.2 591.6,433.3 585.3,430.3 579.4,427.2 574.0,424.1 569.1,420.8 564.6,417.2 560.9,413.4 557.7,409.4 555.0,405.2 552.5,400.6 550.0,395.8 547.7,390.4 545.5,384.6 543.5,378.5 541.4,372.5 539.3,366.9 537.0,361.3 534.5,355.7 532.0,350.3 529.9,345.8 528.4,342.5" fill="none" stroke="#707070" stroke-width="1.15" stroke-linejoin="round" stroke-linecap="round" />
<polyline points="814.1,530.1 809.0,527.4 801.7,523.6 793.2,519.1 784.5,514.5 776.6,510.3 769.5,506.3 762.5,502.3 755.7,498.4 748.9,494.7 742.2,491.4 735.8,488.4 729.6,485.8 723.5,483.4 717.0,481.0 709.9,478.6 702.1,476.2 693.6,473.8 684.8,471.4 676.1,469.0 667.6,466.5 659.3,464.0 651.2,461.3 643.1,458.7 635.1,455.9 627.3,453.0 619.4,449.9 611.4,446.8 603.6,443.6 596.3,440.2 589.7,436.6 583.9,432.7 578.7,428.5 574.0,424.2 569.6,419.9 565.5,415.8 561.8,412.0 558.4,408.4 555.3,404.7 552.4,401.0 549.5,396.8 546.5,392.0 543.5,386.6 540.7,381.2 538.2,376.1 536.2,371.9 534.8,368.4 533.8,365.6 533.1,363.2 532.7,361.3 532.3,359.9" fill="none" stroke="#707070" stroke-width="1.15" stroke-linejoin="round" stroke-linecap="round" />
<polyline points="813.8,530.6 808.6,527.8 801.4,523.9 793.0,519.3 784.3,514.6 776.4,510.3 769.4,506.5 762.4,502.6 755.6,498.9 748.8,495.4 742.0,492.2 735.5,489.4 729.1,487.1 722.7,484.9 716.0,482.7 708.9,480.3 701.1,477.7 692.9,474.9 684.4,472.1 675.9,469.3 667.6,466.5 659.4,463.8 651.3,461.1 643.2,458.4 635.3,455.7 627.4,452.8 619.4,449.9 611.4,446.9 603.5,443.9 596.0,440.8 589.1,437.6 583.0,434.4 577.5,430.9 572.3,427.5 567.3,424.2 562.1,421.1 556.4,418.2 550.2,415.2 544.3,412.5 539.2,410.2 535.6,408.6" fill="none" stroke="#707070" stroke-width="1.15" stroke-linejoin="round" stroke-linecap="round" />
<polyline points="814.4,531.1 809.2,528.3 801.8,524.1 793.2,519.4 784.4,514.6 776.4,510.3 769.3,506.5 762.3,502.8 755.5,499.3 748.7,496.0 741.9,492.9 735.2,490.3 728.7,488.1 722.1,486.0 715.4,483.9 708.3,481.3 700.7,478.3 692.7,474.9 684.5,471.5 676.3,468.0 668.2,464.9 660.0,462.2 651.9,459.6 643.7,457.2 635.6,454.8 627.6,452.3 619.4,449.7 611.2,447.1 603.1,444.6 595.3,441.9 588.3,439.1 581.8,436.1 575.8,433.2 570.3,430.1 565.3,426.7 561.0,423.0 557.4,418.9 554.6,414.5 552.3,409.8 550.1,404.9 547.8,399.8 545.4,394.4 543.1,388.7 540.8,382.8 538.7,376.9 536.6,371.2 534.8,365.6 533.0,360.1 531.4,354.6 529.8,349.4 528.1,344.3 526.1,339.2 524.0,334.0 521.9,329.2 520.1,325.1 518.8,322.1" fill="none" stroke="#8c8c8c" stroke-width="1.15" stroke-linejoin="round" stroke-linecap="round" />
<polyline points="814.3,529.9 809.1,527.2 801.6,523.4 793.0,519.0 784.2,514.5 776.2,510.5 769.0,506.8 762.1,503.3 755.3,499.8 748.5,496.5 741.8,493.4 735.2,490.5 728.9,488.0 722.5,485.6 715.9,483.1 708.9,480.3 701.3,477.3 693.2,474.0 685.0,470.6 676.6,467.3 668.4,464.3 660.2,461.7 651.9,459.3 643.7,457.1 635.6,454.6 627.7,451.9 619.9,448.8 612.2,445.3 604.6,441.7 597.5,438.1 590.9,434.5 584.8,431.1 579.1,427.7 573.9,424.3 569.1,420.7 564.9,416.8 561.3,412.6 558.4,408.2 555.9,403.6 553.5,398.9 551.0,394.0 548.5,388.9 546.1,383.5 543.7,378.0 541.4,372.6 539.1,367.3 536.6,361.8 534.0,355.9 531.5,350.4 529.3,345.6 527.8,342.2" fill="none" stroke="#707070" stroke-width="1.15" stroke-linejoin="round" stroke-linecap="round" />
<polyline points="815.2,530.5 809.8,527.8 802.0,523.9 793.0,519.5 783.9,514.9 775.7,510.7 768.6,506.9 761.8,503.1 755.1,499.3 748.6,495.8 742.0,492.6 735.5,489.7 729.1,487.2 722.8,484.8 716.1,482.6 708.9,480.3 701.0,478.0 692.6,475.8 683.8,473.6 675.1,471.4 666.6,469.1 658.3,466.7 650.1,464.2 642.0,461.7 634.0,459.1 626.0,456.3 618.0,453.3 609.9,450.2 602.0,446.9 594.5,443.6 587.6,440.2 581.3,436.9 575.5,433.6 570.2,430.1 565.4,426.6 561.1,422.8 557.4,418.5 554.3,413.8 551.7,409.0 549.4,404.6 547.1,401.1 545.0,398.6 543.0,396.7 541.2,395.4 539.7,394.4 538.7,393.6" fill="none" stroke="#707070" stroke-width="1.15" stroke-linejoin="round" stroke-linecap="round" />
<polyline points="814.7,530.7 809.3,528.0 801.6,524.1 792.7,519.5 783.7,514.9 775.5,510.8 768.4,507.1 761.6,503.5 755.0,500.0 748.4,496.7 741.7,493.6 735.1,490.9 728.7,488.5 722.1,486.2 715.3,484.0 708.1,481.6 700.3,479.1 692.1,476.5 683.6,473.9 675.1,471.3 666.7,468.8 658.5,466.3 650.3,464.0 642.1,461.6 633.9,459.2 625.9,456.6 617.7,453.9 609.4,451.1 601.3,448.1 593.6,445.1 586.5,442.1 580.1,438.9 574.2,435.8 568.7,432.5 563.8,429.1 559.4,425.4 555.8,421.5 552.8,417.5 550.3,413.3 548.0,408.8 545.6,403.9 543.2,398.5 541.0,392.6 538.8,386.4 536.7,380.3 534.7,374.3 532.6,368.3 530.6,362.2 528.6,356.2 526.9,350.7 525.4,345.9 524.2,341.9 523.2,338.4 522.5,335.4 521.9,333.1 521.5,331.3" fill="none" stroke="#707070" stroke-width="1.15" stroke-linejoin="round" stroke-linecap="round" />
<polyline points="814.4,530.1 809.0,527.5 801.3,523.7 792.4,519.4 783.4,515.0 775.4,510.9 768.3,507.2 761.5,503.5 754.9,499.9 748.4,496.4 741.8,493.2 735.3,490.4 729.0,487.8 722.5,485.4 715.9,483.1 708.7,480.6 700.9,478.1 692.6,475.6 684.0,473.0 675.5,470.4 667.1,467.8 659.0,465.0 650.9,462.2 642.9,459.3 635.0,456.4 627.1,453.4 619.2,450.3 611.2,447.3 603.3,444.1 595.9,440.8 589.3,437.3 583.3,433.3 577.9,429.0 573.1,424.6 568.7,420.4 564.9,416.9 561.5,413.9 558.7,411.3 556.4,409.2 554.5,407.4 553.1,406.1" fill="none" stroke="#8c8c8c" stroke-width="1.15" stroke-linejoin="round" stroke-linecap="round" />
<polyline points="815.6,530.0 810.0,527.4 802.0,523.7 792.8,519.4 783.5,515.0 775.2,511.0 768.1,507.3 761.3,503.7 754.8,500.1 748.3,496.7 741.8,493.6 735.2,490.7 728.8,488.2 722.4,485.8 715.7,483.4 708.5,480.9 700.7,478.4 692.5,475.8 683.9,473.2 675.4,470.6 667.0,468.0 658.8,465.5 650.5,463.1 642.4,460.6 634.4,457.9 626.5,454.9 618.8,451.5 611.1,447.8 603.6,443.9 596.5,440.0 589.9,436.3 583.8,432.7 578.2,429.2 573.0,425.7 568.0,422.4 563.3,419.3 558.5,416.3 553.8,413.4 549.5,410.7 545.8,408.4 543.2,406.8" fill="none" stroke="#707070" stroke-width="1.15" stroke-linejoin="round" stroke-linecap="round" />
<polyline points="814.4,530.7 809.1,527.9 801.6,523.9 792.9,519.3 784.0,514.7 776.0,510.6 768.9,506.9 762.0,503.4 755.2,500.0 748.5,496.8 741.7,493.8 735.0,491.2 728.4,488.9 721.8,486.8 714.9,484.6 707.7,482.3 699.9,479.9 691.6,477.4 683.2,474.9 674.7,472.2 666.5,469.4 658.5,466.3 650.6,463.1 642.7,459.8 635.0,456.3 627.3,452.9 619.7,449.3 612.0,445.7 604.6,442.0 597.4,438.3 590.7,434.8 584.4,431.6 578.5,428.6 573.0,425.6 568.0,422.5 563.4,419.1 559.5,415.6 556.2,412.1 553.3,408.3 550.6,404.2 548.0,399.6 545.5,394.2 543.4,388.2 541.3,381.9 539.3,375.8 537.2,370.2 534.9,365.0 532.5,359.8 530.1,355.0 528.1,350.9 526.6,348.0" fill="none" stroke="#707070" stroke-width="1.15" stroke-linejoin="round" stroke-linecap="round" />
<polyline points="814.4,530.1 809.0,527.5 801.2,523.8 792.2,519.5 783.1,515.1 775.0,511.1 767.9,507.5 761.2,503.8 754.7,500.3 748.3,497.0 741.7,493.9 735.1,491.1 728.7,488.6 722.2,486.2 715.4,483.9 708.1,481.6 700.3,479.2 692.0,476.9 683.4,474.5 674.8,472.2 666.3,469.8 658.0,467.5 649.7,465.3 641.5,463.1 633.4,460.5 625.5,457.5 617.8,453.9 610.2,449.8 602.9,445.5 595.9,441.1 589.5,436.9 583.7,432.9 578.4,428.8 573.5,424.8 569.0,420.8 564.7,417.0 560.8,413.6 557.2,410.4 553.9,407.3 550.8,403.8 547.9,399.8 545.2,394.8 542.7,389.2 540.4,383.2 538.2,377.5 536.0,372.3 533.6,367.4 531.3,362.6 529.0,358.2 527.1,354.6 525.7,351.9" fill="none" stroke="#707070" stroke-width="1.15" stroke-linejoin="round" stroke-linecap="round" />
<polyline points="814.9,530.0 809.5,527.4 801.7,523.6 792.8,519.3 783.6,514.8 775.5,510.8 768.4,507.2 761.6,503.6 755.0,500.1 748.4,496.9 741.7,493.9 735.0,491.3 728.4,489.1 721.7,487.0 714.7,484.9 707.5,482.7 699.7,480.2 691.5,477.6 683.1,475.0 674.7,472.2 666.5,469.4 658.4,466.6 650.4,463.7 642.4,460.7 634.5,457.5 626.8,454.1 619.3,450.4 611.8,446.3 604.6,442.1 597.6,438.0 591.0,434.3 584.9,430.8 579.0,427.6 573.5,424.6 568.4,421.6 563.7,418.7 559.3,415.5 555.1,412.2 551.4,409.0 548.3,406.3 546.1,404.4" fill="none" stroke="#707070" stroke-width="1.15" stroke-linejoin="round" stroke-linecap="round" />
<polyline points="815.5,530.5 809.8,527.9 801.7,524.1 792.3,519.8 782.8,515.3 774.5,511.4 767.4,507.9 760.8,504.4 754.4,501.1 748.0,498.0 741.4,495.2 734.6,492.7 727.8,490.6 720.8,488.7 713.7,486.7 706.3,484.6 698.5,482.3 690.4,479.8 682.0,477.3 673.7,474.8 665.4,472.3 657.2,469.9 649.0,467.6 640.8,465.2 632.6,462.8 624.4,460.2 616.1,457.6 607.6,454.9 599.3,452.1 591.4,449.2 584.1,446.3 577.6,443.0 571.5,439.5 566.0,435.9 561.0,432.7 556.6,429.9 552.8,427.7 549.5,425.8 546.8,424.3 544.7,423.1 543.0,422.2" fill="none" stroke="#707070" stroke-width="1.15" stroke-linejoin="round" stroke-linecap="round" />
<polyline points="814.8,530.8 809.3,528.1 801.4,524.2 792.3,519.7 783.1,515.2 774.8,511.2 767.8,507.7 761.0,504.3 754.5,501.0 748.1,497.9 741.5,494.9 734.9,492.0 728.5,489.3 722.0,486.8 715.2,484.3 707.9,481.9 700.0,479.6 691.7,477.5 683.0,475.4 674.4,473.3 665.9,471.0 657.7,468.6 649.4,466.2 641.3,463.6 633.3,460.9 625.4,457.9 617.5,454.6 609.5,451.1 601.8,447.4 594.5,443.6 587.9,439.7 582.0,435.6 576.6,431.2 571.8,426.8 567.4,422.6 563.5,419.0 560.0,415.8 557.0,412.8 554.4,410.3 552.3,408.2 550.7,406.6" fill="none" stroke="#707070" stroke-width="1.15" stroke-linejoin="round" stroke-linecap="round" />
<polyline points="815.2,530.9 809.5,528.2 801.3,524.4 791.9,520.0 782.4,515.5 774.1,511.6 767.0,508.1 760.4,504.8 754.1,501.6 747.8,498.5 741.3,495.6 734.7,492.9 728.1,490.5 721.3,488.1 714.4,485.7 707.1,483.3 699.4,480.6 691.3,477.9 683.0,475.1 674.6,472.4 666.3,469.8 658.1,467.4 649.9,465.1 641.6,462.9 633.4,460.5 625.3,458.1 617.0,455.5 608.6,452.8 600.3,450.0 592.5,447.0 585.5,443.8 579.4,440.3 573.8,436.5 568.8,432.5 564.3,428.3 560.2,424.2 556.7,420.1 553.8,415.9 551.3,411.6 549.0,407.1 546.5,402.2 544.0,396.7 541.4,390.5 538.9,384.3 536.7,378.5 535.0,373.7 533.9,370.1 533.2,367.2 532.8,365.0 532.6,363.3 532.4,361.9" fill="none" stroke="#707070" stroke-width="1.15" stroke-linejoin="round" stroke-linecap="round" />
<polyline points="814.0,531.0 808.3,528.3 800.3,524.5 791.1,520.2 781.8,515.7 773.6,511.9 766.6,508.5 760.1,505.3 753.9,502.3 747.6,499.4 741.1,496.6 734.4,493.9 727.7,491.5 720.9,489.1 713.8,486.8 706.4,484.3 698.7,481.7 690.7,479.1 682.4,476.4 674.1,473.8 665.8,471.4 657.4,469.3 649.0,467.6 640.5,465.9 632.1,464.0 623.9,461.6 615.7,458.8 607.5,455.5 599.4,452.1 591.8,448.6 584.8,445.1 578.4,441.7 572.5,438.4 567.1,435.1 562.3,431.5 558.0,427.7 554.4,423.7 551.6,419.5 549.2,415.2 547.1,410.5 544.8,405.4 542.5,399.7 540.2,393.6 538.0,387.2 536.0,380.8 534.3,374.9 532.9,368.9 531.8,362.8 530.9,357.0 530.2,352.1 529.7,348.6" fill="none" stroke="#707070" stroke-width="1.15" stroke-linejoin="round" stroke-linecap="round" />
<polyline points="814.7,531.1 809.1,528.4 801.1,524.5 791.8,520.0 782.5,515.5 774.2,511.5 767.1,508.1 760.5,505.0 754.2,501.9 747.8,499.0 741.2,496.3 734.4,493.7 727.7,491.3 720.8,489.0 713.8,486.7 706.4,484.3 698.7,481.8 690.6,479.2 682.3,476.5 674.0,473.8 665.9,471.1 657.8,468.4 649.7,465.6 641.7,462.7 633.7,459.9 625.7,456.9 617.7,454.0 609.5,451.0 601.4,447.9 593.8,444.8 586.8,441.5 580.7,438.0 575.2,434.3 570.1,430.6 565.3,426.9 560.6,423.5 555.7,420.3 550.8,417.0 546.1,413.9 542.2,411.4 539.4,409.5" fill="none" stroke="#707070" stroke-width="1.15" stroke-linejoin="round" stroke-linecap="round" />
<polyline points="814.8,530.5 809.1,527.8 801.1,524.1 791.8,519.8 782.4,515.5 774.1,511.6 767.1,508.1 760.6,504.8 754.3,501.5 747.9,498.5 741.3,495.8 734.4,493.5 727.4,491.6 720.3,489.8 712.9,488.0 705.4,486.0 697.6,483.8 689.5,481.6 681.2,479.2 672.9,476.7 664.8,474.0 656.8,471.0 648.9,467.8 641.0,464.6 633.2,461.2 625.4,457.9 617.4,454.6 609.3,451.4 601.4,448.1 593.9,444.7 587.0,441.3 580.8,437.8 575.1,434.2 569.9,430.6 565.2,426.9 560.8,423.3 556.9,419.8 553.4,416.6 550.4,413.3 547.6,409.5 545.0,405.1 542.5,399.4 540.3,392.8 538.3,385.8 536.5,379.3 535.0,373.7 533.9,369.1 533.2,365.1 532.7,361.6 532.3,358.8 532.0,356.8" fill="none" stroke="#707070" stroke-width="1.15" stroke-linejoin="round" stroke-linecap="round" />
<polyline points="814.9,530.6 809.2,528.0 801.0,524.2 791.6,519.9 782.2,515.5 773.9,511.7 766.8,508.4 760.3,505.2 754.0,502.2 747.7,499.3 741.1,496.5 734.4,493.9 727.7,491.5 720.8,489.1 713.8,486.8 706.4,484.4 698.6,481.9 690.5,479.4 682.2,476.8 673.9,474.2 665.7,471.7 657.5,469.2 649.3,466.7 641.1,464.2 633.0,461.6 625.0,458.8 616.9,455.8 608.8,452.6 600.8,449.2 593.3,445.8 586.4,442.4 580.1,439.0 574.3,435.6 568.9,432.2 564.1,428.6 559.8,424.8 556.1,420.5 553.1,415.8 550.5,411.1 548.1,406.8 546.0,403.3 544.0,400.7 542.2,398.7 540.7,397.3 539.5,396.2 538.6,395.4" fill="none" stroke="#707070" stroke-width="1.15" stroke-linejoin="round" stroke-linecap="round" />
<polyline points="814.9,529.7 809.1,527.2 800.8,523.8 791.3,519.7 781.8,515.6 773.4,512.0 766.4,508.7 759.9,505.6 753.7,502.7 747.5,499.8 741.0,497.0 734.4,494.3 727.7,491.7 720.9,489.1 713.8,486.7 706.4,484.5 698.4,482.4 690.1,480.6 681.5,478.8 672.9,476.9 664.5,474.8 656.3,472.3 648.2,469.7 640.1,466.9 632.1,464.0 624.1,461.0 616.0,457.9 607.8,454.8 599.7,451.5 592.0,448.1 585.0,444.7 578.8,441.1 573.2,437.4 568.0,433.6 563.4,429.8 559.1,425.9 555.5,422.0 552.5,418.2 549.8,414.2 547.4,410.0 544.9,405.3 542.3,400.0 539.9,394.2 537.6,388.1 535.4,382.2 533.2,376.6 531.0,371.2 528.7,365.6 526.6,360.4 524.8,356.0 523.5,352.8" fill="none" stroke="#707070" stroke-width="1.15" stroke-linejoin="round" stroke-linecap="round" />
<polyline points="815.2,529.8 809.3,527.3 801.0,523.9 791.3,519.8 781.7,515.7 773.3,512.0 766.3,508.7 759.9,505.4 753.8,502.2 747.7,499.1 741.2,496.4 734.3,494.0 727.4,491.9 720.3,489.9 712.9,488.1 705.3,486.2 697.4,484.3 689.0,482.6 680.6,480.9 672.1,479.0 663.7,476.9 655.5,474.6 647.3,472.1 639.2,469.5 631.1,466.7 623.1,463.6 615.1,460.3 607.0,456.6 599.1,452.8 591.5,449.0 584.6,445.5 578.1,442.2 572.0,439.2 566.4,436.1 561.3,432.9 556.9,429.4 553.2,425.6 550.4,421.7 548.0,417.4 545.7,413.0 543.3,408.2 540.7,403.1 538.3,397.5 535.8,391.8 533.3,386.0 530.8,380.5 527.9,374.7 524.8,368.7 521.7,362.9 519.0,358.0 517.1,354.4" fill="none" stroke="#707070" stroke-width="1.15" stroke-linejoin="round" stroke-linecap="round" />
<polyline points="813.8,531.1 808.1,528.4 800.0,524.6 790.7,520.3 781.3,515.9 773.0,512.1 766.1,509.1 759.6,506.2 753.5,503.6 747.3,501.0 740.7,498.5 734.0,495.9 727.1,493.3 720.1,490.8 712.9,488.4 705.3,486.1 697.4,484.2 689.1,482.4 680.6,480.8 672.0,479.0 663.7,477.1 655.4,474.8 647.2,472.4 639.0,469.9 630.9,467.3 622.8,464.5 614.5,461.6 606.1,458.5 597.8,455.2 589.9,452.0 582.7,448.8 576.1,445.7 569.9,442.7 564.3,439.6 559.2,436.3 554.8,432.7 551.2,428.9 548.4,424.9 546.1,420.6 544.0,416.0 541.8,410.9 539.5,405.0 537.2,398.2 535.1,391.3 533.1,384.9 531.4,379.6 529.8,375.4 528.4,372.0 527.2,369.2 526.2,367.0 525.4,365.4" fill="none" stroke="#707070" stroke-width="1.15" stroke-linejoin="round" stroke-linecap="round" />
<polyline points="814.6,530.9 808.7,528.3 800.4,524.5 790.9,520.2 781.3,515.9 772.8,512.2 765.9,509.2 759.5,506.5 753.3,503.9 747.2,501.4 740.6,499.0 733.7,496.6 726.7,494.3 719.4,492.0 712.0,489.8 704.4,487.6 696.6,485.5 688.4,483.5 680.1,481.5 671.8,479.4 663.6,477.1 655.5,474.6 647.5,471.8 639.5,468.9 631.4,466.1 623.2,463.4 614.6,461.1 605.6,459.0 596.7,456.9 588.3,454.6 580.8,451.9 574.3,448.7 568.4,445.2 563.2,441.5 558.5,437.5 554.3,433.5 550.8,429.6 548.0,425.6 545.7,421.4 543.5,416.9 541.3,411.8 539.0,405.9 536.8,399.3 534.7,392.4 532.8,385.8 531.2,379.7 530.0,374.2 529.0,368.7 528.3,363.7 527.7,359.6 527.3,356.6" fill="none" stroke="#707070" stroke-width="1.15" stroke-linejoin="round" stroke-linecap="round" />
<polyline points="815.0,531.3 809.1,528.6 800.6,524.8 790.9,520.5 781.2,516.1 772.7,512.3 765.7,509.1 759.4,506.2 753.3,503.3 747.3,500.7 740.8,498.0 734.0,495.5 727.1,493.0 720.1,490.7 712.8,488.5 705.2,486.4 697.2,484.7 688.8,483.2 680.2,481.8 671.6,480.3 663.1,478.5 654.8,476.4 646.6,474.1 638.4,471.6 630.2,469.0 622.1,466.1 613.9,463.0 605.5,459.7 597.3,456.2 589.6,452.6 582.6,448.8 576.5,444.9 571.0,440.9 566.1,436.7 561.7,432.5 557.6,428.3 554.0,423.9 550.9,419.3 548.3,414.8 546.0,410.6 544.0,406.9 542.4,403.8 541.2,401.0 540.3,398.6 539.7,396.7 539.1,395.2" fill="none" stroke="#8c8c8c" stroke-width="1.15" stroke-linejoin="round" stroke-linecap="round" />
<polyline points="813.8,529.4 807.9,527.1 799.6,523.8 790.1,519.9 780.5,516.1 772.2,512.6 765.3,509.6 759.0,506.7 753.1,503.9 747.1,501.1 740.7,498.4 734.0,495.8 727.2,493.1 720.3,490.6 713.0,488.1 705.6,485.8 697.7,483.6 689.4,481.7 681.0,479.7 672.5,477.8 664.2,475.6 656.0,473.3 647.8,470.9 639.6,468.5 631.4,465.9 623.3,463.2 614.9,460.4 606.4,457.6 598.0,454.7 590.1,451.5 583.1,448.0 577.1,444.1 571.7,439.8 567.0,435.4 562.7,430.8 558.8,426.4 555.4,422.0 552.7,417.7 550.3,413.4 548.0,408.8 545.6,403.9 543.2,398.5 540.9,392.7 538.7,386.7 536.4,380.8 534.0,375.4 531.2,370.2 528.2,364.9 525.2,360.0 522.6,355.9 520.8,352.9" fill="none" stroke="#8c8c8c" stroke-width="1.15" stroke-linejoin="round" stroke-linecap="round" />
<polyline points="815.3,530.6 809.3,528.0 800.7,524.4 790.8,520.3 780.9,516.1 772.3,512.5 765.3,509.5 759.0,506.7 753.0,504.1 747.0,501.6 740.6,499.1 733.8,496.6 726.8,494.1 719.7,491.7 712.3,489.4 704.8,487.1 696.9,484.9 688.8,482.8 680.5,480.8 672.1,478.7 663.9,476.4 655.7,474.0 647.6,471.5 639.4,468.8 631.3,466.2 623.2,463.4 614.9,460.6 606.3,457.8 597.9,454.8 590.0,451.7 582.9,448.4 576.7,444.8 571.1,440.9 566.1,436.8 561.5,432.7 557.5,428.5 554.0,424.4 551.1,420.4 548.6,416.3 546.3,411.9 544.0,407.0 541.6,401.5 539.2,395.6 537.0,389.4 534.9,383.1 533.1,376.9 531.4,370.4 529.9,363.5 528.6,356.8 527.4,350.6 526.2,345.4 525.1,341.3 523.9,338.0 522.9,335.4 522.0,333.3 521.4,331.7" fill="none" stroke="#707070" stroke-width="1.15" stroke-linejoin="round" stroke-linecap="round" />
<polyline points="814.5,530.2 808.7,527.7 800.4,524.1 790.8,520.0 781.1,515.9 772.7,512.3 765.8,509.3 759.4,506.5 753.4,503.8 747.2,501.3 740.6,499.0 733.5,496.9 726.2,495.0 718.6,493.3 710.9,491.6 703.0,489.9 695.0,488.4 686.7,487.1 678.4,485.7 670.0,484.2 661.7,482.3 653.6,479.8 645.6,477.1 637.6,474.1 629.5,471.0 621.4,468.0 613.0,465.1 604.3,462.2 595.7,459.3 587.5,456.3 580.1,453.2 573.5,450.0 567.5,446.6 562.0,443.2 557.0,439.8 552.5,436.3 548.7,432.6 545.5,428.8 542.7,425.0 540.2,421.5 537.7,418.4 535.3,415.9 532.9,413.7 530.8,411.9 529.1,410.4 527.8,409.3" fill="none" stroke="#8c8c8c" stroke-width="1.15" stroke-linejoin="round" stroke-linecap="round" />
<polyline points="814.7,530.0 808.8,527.6 800.3,524.1 790.5,520.1 780.8,516.1 772.3,512.5 765.4,509.5 759.1,506.6 753.2,503.9 747.1,501.4 740.6,498.9 733.6,496.8 726.3,494.8 718.9,492.9 711.3,491.1 703.5,489.1 695.7,487.1 687.6,485.1 679.4,483.1 671.2,481.0 663.1,478.6 655.0,475.9 647.0,473.1 639.0,470.1 631.0,467.1 623.0,464.0 614.8,460.8 606.5,457.6 598.3,454.3 590.5,450.9 583.4,447.5 577.0,443.8 571.0,439.9 565.6,436.1 560.8,432.5 556.9,429.4 553.9,426.8 551.7,424.6 550.2,422.8 549.2,421.3 548.3,420.2" fill="none" stroke="#8c8c8c" stroke-width="1.15" stroke-linejoin="round" stroke-linecap="round" />
<polyline points="815.5,529.5 809.4,527.1 800.6,523.8 790.6,520.0 780.6,516.1 771.9,512.7 765.0,509.9 758.7,507.2 752.9,504.6 746.9,502.2 740.4,499.8 733.4,497.6 726.2,495.5 718.7,493.4 711.1,491.4 703.3,489.5 695.3,487.7 687.2,486.1 678.9,484.5 670.5,482.8 662.2,481.0 653.9,479.0 645.6,477.0 637.2,474.9 628.9,472.6 620.6,470.0 612.2,467.1 603.6,464.0 595.1,460.7 587.0,457.3 579.6,454.0 572.9,450.9 566.7,447.8 561.1,444.7 555.9,441.4 551.4,438.0 547.7,434.5 544.7,431.1 542.2,427.4 540.0,423.3 537.7,418.4 535.4,412.4 533.3,405.4 531.3,398.1 529.4,391.2 527.8,385.2 526.3,380.3 525.0,376.0 523.9,372.2 523.0,369.1 522.3,366.9" fill="none" stroke="#8c8c8c" stroke-width="1.15" stroke-linejoin="round" stroke-linecap="round" />
<polyline points="815.2,529.6 809.1,527.3 800.4,523.9 790.5,520.0 780.5,516.1 771.9,512.7 765.0,510.0 758.7,507.4 752.8,505.0 746.8,502.7 740.3,500.4 733.3,498.1 726.1,495.8 718.8,493.5 711.2,491.3 703.5,489.2 695.6,487.2 687.5,485.4 679.2,483.6 670.9,481.7 662.7,479.7 654.4,477.6 646.2,475.4 637.9,473.1 629.6,470.7 621.3,468.1 612.9,465.4 604.2,462.5 595.6,459.4 587.6,456.2 580.3,452.8 574.0,449.0 568.2,444.7 563.1,440.4 558.5,436.5 554.5,433.2 550.9,430.8 548.0,429.0 545.5,427.5 543.6,426.5 542.1,425.6" fill="none" stroke="#8c8c8c" stroke-width="1.15" stroke-linejoin="round" stroke-linecap="round" />
<polyline points="660.0,440.0 657.3,438.6 653.5,436.7 649.1,434.5 644.4,432.2 640.0,430.0 635.5,428.0 630.8,426.0 626.0,423.9 621.7,421.9 618.0,420.0 615.2,418.2 613.0,416.5 611.2,414.8 609.6,413.0 608.0,411.0 606.4,408.7 605.0,406.3 603.7,403.7 602.4,401.3 601.0,399.0 599.4,397.0 597.8,395.2 596.2,393.5 594.6,391.8 593.0,390.0 591.5,388.2 590.0,386.4 588.6,384.6 587.3,382.8 586.0,381.0 584.8,379.1 583.6,377.0 582.5,375.0 581.6,373.2 581.0,372.0" fill="none" stroke="#7a7a7a" stroke-width="1.1" stroke-linejoin="round" stroke-linecap="round" />
<polyline points="690.0,452.0 685.8,450.0 679.9,447.2 673.0,444.0 666.1,440.8 660.0,438.0 654.6,435.7 649.4,433.7 644.4,431.8 639.9,429.9 636.0,428.0 632.8,426.0 630.2,424.1 628.0,422.2 626.0,420.2 624.0,418.0 622.0,415.5 620.2,412.8 618.5,410.1 616.8,407.4 615.0,405.0 613.2,403.0 611.4,401.2 609.5,399.6 607.7,397.9 606.0,396.0 604.2,393.8 602.3,391.2 600.6,388.7 599.1,386.5 598.0,385.0" fill="none" stroke="#7a7a7a" stroke-width="1.1" stroke-linejoin="round" stroke-linecap="round" />
<polyline points="700.0,458.0 695.8,456.2 689.8,453.7 682.9,450.8 676.0,447.7 670.0,445.0 665.0,442.5 660.3,440.1 656.0,437.7 651.9,435.3 648.0,433.0 644.3,430.8 640.9,428.6 637.7,426.4 634.7,424.2 632.0,422.0 629.6,419.6 627.6,417.1 625.7,414.6 623.9,412.2 622.0,410.0 619.8,408.0 617.5,406.1 615.3,404.4 613.4,403.0 612.0,402.0" fill="none" stroke="#7a7a7a" stroke-width="1.1" stroke-linejoin="round" stroke-linecap="round" />
<polyline points="556.0,397.5 555.6,395.8 555.2,393.3 554.6,390.4 554.0,387.5 553.3,385.0 552.7,383.3 552.1,382.4 551.4,382.0 550.7,381.9 550.0,382.2 549.3,382.7 548.8,383.3 548.4,384.1 548.0,385.2 547.8,386.4 547.5,387.9 547.2,389.5 546.8,391.2 546.3,393.1 545.8,395.1 545.2,397.3 544.6,399.6 544.1,402.0 543.5,404.4 542.9,406.9 542.3,409.5 541.7,412.1 541.2,414.8 540.6,417.5 540.2,420.2 539.8,422.8 539.5,425.5 539.2,428.2 539.0,430.8 538.9,433.4 538.9,436.0 539.2,438.6 539.7,441.1 540.3,443.7 540.9,446.1 541.4,448.5 541.5,450.6 541.3,452.6 540.7,454.6 540.0,456.4 539.3,458.0 538.6,459.4 538.2,460.4" fill="none" stroke="#ee6ee8" stroke-width="3.6" stroke-linejoin="round" stroke-linecap="round" />
<polyline points="815.2,530.8 813.6,529.9 811.4,528.7 808.8,527.3 805.8,525.7 802.5,523.9 799.0,522.0 795.2,519.9 790.9,517.5 786.4,515.0 781.6,512.4 776.7,509.7 771.8,507.0 766.9,504.2 761.8,501.2 756.7,498.1 751.4,495.1 745.9,492.3 740.3,489.7 734.5,487.4 728.5,485.4 722.4,483.6 716.1,481.8 709.8,480.0 703.3,478.1 696.7,476.2 689.9,474.3 683.0,472.4 676.1,470.4 669.1,468.3 662.2,465.8 655.2,462.9 648.0,459.6 640.7,456.1 633.7,452.6 627.1,449.4 621.0,446.6 615.5,444.3 610.4,442.2 605.7,440.4 601.3,438.7 597.4,437.1 593.7,435.6 590.5,434.2 587.8,432.9 585.5,431.7 583.4,430.6 581.3,429.4 579.1,428.1 576.7,426.7 574.3,425.2 571.9,423.6 569.7,422.0 567.6,420.5 565.9,418.9 564.6,417.4 563.6,415.9 562.9,414.5 562.2,413.0 561.6,411.4 560.7,409.7 559.6,407.7 558.4,405.5 557.1,403.2 555.9,401.0 554.8,399.1 554.1,397.8" fill="none" stroke="#800080" stroke-width="3.6" stroke-linejoin="round" stroke-linecap="round" />
<polyline points="815.2,530.8 813.6,530.1 811.5,529.1 808.9,527.9 806.0,526.5 802.7,525.0 799.2,523.3 795.3,521.4 791.1,519.3 786.5,517.0 781.7,514.6 776.7,512.1 771.8,509.6 766.8,507.0 761.6,504.1 756.2,501.2 750.9,498.4 745.5,495.7 740.3,493.2 735.2,491.0 730.0,489.0 724.9,487.1 719.9,485.4 715.0,483.7 710.1,482.2 705.5,480.9 701.0,479.8 696.6,478.8 692.2,477.8 687.6,476.7 682.7,475.3 677.5,473.6 672.1,471.8 666.5,469.8 660.7,467.7 654.7,465.4 648.5,463.0 641.9,460.3 634.8,457.3 627.5,454.2 620.3,451.0 613.5,448.0 607.4,445.2 601.9,442.6 596.8,440.2 592.1,437.9 587.7,435.7 583.7,433.6 580.0,431.5 576.7,429.5 573.8,427.6 571.3,425.8 569.0,424.1 567.0,422.5 565.0,421.0 563.2,419.7 561.7,418.5 560.3,417.4 559.1,416.4 557.9,415.3 556.7,414.0 555.5,412.7 554.4,411.3 553.3,409.9 552.2,408.3 551.2,406.5 550.1,404.4 549.0,401.8 548.0,398.8 547.0,395.6 545.9,392.3 544.8,389.0 543.5,386.0 542.1,383.2 540.6,380.5 539.0,377.9 537.4,375.3 535.8,372.7 534.3,370.1 532.8,367.4 531.2,364.6 529.6,361.8 528.2,359.1 527.1,356.6 526.4,354.3 526.3,352.3 526.7,350.6 527.4,349.1 528.1,347.7 528.7,346.3 529.0,345.0 529.0,343.7 528.9,342.6 528.7,341.5 528.2,340.5 527.5,339.5 526.4,338.5 524.7,337.5 522.3,336.4 519.6,335.4 517.0,334.5 514.8,333.8 513.2,333.2" fill="none" stroke="#000" stroke-width="4.2" stroke-linejoin="round" stroke-linecap="round" />
<polyline points="526.4,338.5 538.7,334.2 561.0,333.5 575.8,335.7 601.1,335.7" fill="none" stroke="#000" stroke-width="4.2" stroke-linejoin="round" stroke-linecap="round" />
<circle cx="815.2" cy="530.8" r="2.6" fill="#000"/>
<g transform="translate(880.4,512.8) scale(1.0)"><path d="M -4.6,-4.9 A 6.5 6.5 0 1 0 3.2,-5.7" fill="none" stroke="#000" stroke-width="3.2"/><path d="M 1.5,-8.4 L 9.9,-8.4 L 9.9,-5.0 L 5.4,-5.0 L 5.4,0.3 L 1.5,0.3 Z" fill="#000"/></g>
<g transform="translate(907.1,493.9) scale(1.0)"><path d="M -4.6,-4.9 A 6.5 6.5 0 1 0 3.2,-5.7" fill="none" stroke="#000" stroke-width="3.2"/><path d="M 1.5,-8.4 L 9.9,-8.4 L 9.9,-5.0 L 5.4,-5.0 L 5.4,0.3 L 1.5,0.3 Z" fill="#000"/></g>
<g transform="translate(937.1,475.9) scale(1.0)"><path d="M -4.6,-4.9 A 6.5 6.5 0 1 0 3.2,-5.7" fill="none" stroke="#000" stroke-width="3.2"/><path d="M 1.5,-8.4 L 9.9,-8.4 L 9.9,-5.0 L 5.4,-5.0 L 5.4,0.3 L 1.5,0.3 Z" fill="#000"/></g>
<g transform="translate(975.0,468.6) scale(1.0)"><path d="M -4.6,-4.9 A 6.5 6.5 0 1 0 3.2,-5.7" fill="none" stroke="#000" stroke-width="3.2"/><path d="M 1.5,-8.4 L 9.9,-8.4 L 9.9,-5.0 L 5.4,-5.0 L 5.4,0.3 L 1.5,0.3 Z" fill="#000"/></g>
<g transform="translate(1008.0,463.8) scale(1.0)"><path d="M -4.6,-4.9 A 6.5 6.5 0 1 0 3.2,-5.7" fill="none" stroke="#000" stroke-width="3.2"/><path d="M 1.5,-8.4 L 9.9,-8.4 L 9.9,-5.0 L 5.4,-5.0 L 5.4,0.3 L 1.5,0.3 Z" fill="#000"/></g>
<g transform="translate(1096.0,390.8) scale(1.0)"><path d="M -4.6,-4.9 A 6.5 6.5 0 1 0 3.2,-5.7" fill="none" stroke="#000" stroke-width="3.2"/><path d="M 1.5,-8.4 L 9.9,-8.4 L 9.9,-5.0 L 5.4,-5.0 L 5.4,0.3 L 1.5,0.3 Z" fill="#000"/></g>
<g transform="translate(1107.2,411.5) scale(1.0)"><path d="M -4.6,-4.9 A 6.5 6.5 0 1 0 3.2,-5.7" fill="none" stroke="#000" stroke-width="3.2"/><path d="M 1.5,-8.4 L 9.9,-8.4 L 9.9,-5.0 L 5.4,-5.0 L 5.4,0.3 L 1.5,0.3 Z" fill="#000"/></g>
<g transform="translate(1116.1,431.8) scale(1.0)"><path d="M -4.6,-4.9 A 6.5 6.5 0 1 0 3.2,-5.7" fill="none" stroke="#000" stroke-width="3.2"/><path d="M 1.5,-8.4 L 9.9,-8.4 L 9.9,-5.0 L 5.4,-5.0 L 5.4,0.3 L 1.5,0.3 Z" fill="#000"/></g>
<g transform="translate(1131.3,452.6) scale(1.0)"><path d="M -4.6,-4.9 A 6.5 6.5 0 1 0 3.2,-5.7" fill="none" stroke="#000" stroke-width="3.2"/><path d="M 1.5,-8.4 L 9.9,-8.4 L 9.9,-5.0 L 5.4,-5.0 L 5.4,0.3 L 1.5,0.3 Z" fill="#000"/></g>
<g transform="translate(1136.1,461.0) scale(1.0)"><path d="M -4.6,-4.9 A 6.5 6.5 0 1 0 3.2,-5.7" fill="none" stroke="#000" stroke-width="3.2"/><path d="M 1.5,-8.4 L 9.9,-8.4 L 9.9,-5.0 L 5.4,-5.0 L 5.4,0.3 L 1.5,0.3 Z" fill="#000"/></g>
<g transform="translate(1138.0,465.0) scale(1.0)"><path d="M -4.6,-4.9 A 6.5 6.5 0 1 0 3.2,-5.7" fill="none" stroke="#000" stroke-width="3.2"/><path d="M 1.5,-8.4 L 9.9,-8.4 L 9.9,-5.0 L 5.4,-5.0 L 5.4,0.3 L 1.5,0.3 Z" fill="#000"/></g>
<g transform="translate(1067.3,473.4) scale(1.0)"><path d="M -4.6,-4.9 A 6.5 6.5 0 1 0 3.2,-5.7" fill="none" stroke="#000" stroke-width="3.2"/><path d="M 1.5,-8.4 L 9.9,-8.4 L 9.9,-5.0 L 5.4,-5.0 L 5.4,0.3 L 1.5,0.3 Z" fill="#000"/></g>
<g transform="translate(1107.2,473.4) scale(1.0)"><path d="M -4.6,-4.9 A 6.5 6.5 0 1 0 3.2,-5.7" fill="none" stroke="#000" stroke-width="3.2"/><path d="M 1.5,-8.4 L 9.9,-8.4 L 9.9,-5.0 L 5.4,-5.0 L 5.4,0.3 L 1.5,0.3 Z" fill="#000"/></g>
<g transform="translate(1127.2,475.8) scale(1.0)"><path d="M -4.6,-4.9 A 6.5 6.5 0 1 0 3.2,-5.7" fill="none" stroke="#000" stroke-width="3.2"/><path d="M 1.5,-8.4 L 9.9,-8.4 L 9.9,-5.0 L 5.4,-5.0 L 5.4,0.3 L 1.5,0.3 Z" fill="#000"/></g>
<g transform="translate(1132.1,473.9) scale(1.0)"><path d="M -4.6,-4.9 A 6.5 6.5 0 1 0 3.2,-5.7" fill="none" stroke="#000" stroke-width="3.2"/><path d="M 1.5,-8.4 L 9.9,-8.4 L 9.9,-5.0 L 5.4,-5.0 L 5.4,0.3 L 1.5,0.3 Z" fill="#000"/></g>
<g transform="translate(1137.0,470.9) scale(1.0)"><path d="M -4.6,-4.9 A 6.5 6.5 0 1 0 3.2,-5.7" fill="none" stroke="#000" stroke-width="3.2"/><path d="M 1.5,-8.4 L 9.9,-8.4 L 9.9,-5.0 L 5.4,-5.0 L 5.4,0.3 L 1.5,0.3 Z" fill="#000"/></g>
<g transform="translate(1303.0,477.0) scale(1.0)"><path d="M -4.6,-4.9 A 6.5 6.5 0 1 0 3.2,-5.7" fill="none" stroke="#000" stroke-width="3.2"/><path d="M 1.5,-8.4 L 9.9,-8.4 L 9.9,-5.0 L 5.4,-5.0 L 5.4,0.3 L 1.5,0.3 Z" fill="#000"/></g>
<g transform="translate(1371.0,488.0) scale(1.0)"><path d="M -4.6,-4.9 A 6.5 6.5 0 1 0 3.2,-5.7" fill="none" stroke="#000" stroke-width="3.2"/><path d="M 1.5,-8.4 L 9.9,-8.4 L 9.9,-5.0 L 5.4,-5.0 L 5.4,0.3 L 1.5,0.3 Z" fill="#000"/></g>
</g>
<rect x="80.5" y="89.3" width="1540.5" height="962.5" fill="none" stroke="#000" stroke-width="1.3"/>
<rect x="1274.5" y="874.5" width="339" height="169" rx="3" ry="3" fill="#fff" fill-opacity="0.8" stroke="#000" stroke-width="1.1"/>
<line x1="1281" y1="887.5" x2="1315" y2="887.5" stroke="#707070" stroke-width="1.3"/>
<text x="1327.5" y="893.2" font-size="17.6" font-weight="normal" text-anchor="start" fill="#000" textLength="130.5" lengthAdjust="spacingAndGlyphs" >No Interception</text>
<line x1="1281" y1="910.5" x2="1315" y2="910.5" stroke="#ff4500" stroke-width="1.3"/>
<text x="1327.5" y="916.4" font-size="17.6" font-weight="normal" text-anchor="start" fill="#000" textLength="277.0" lengthAdjust="spacingAndGlyphs" >Interception from Named cyclone</text>
<line x1="1281" y1="933.5" x2="1315" y2="933.5" stroke="#808000" stroke-width="1.3"/>
<text x="1327.5" y="939.8" font-size="17.6" font-weight="normal" text-anchor="start" fill="#000" textLength="218.5" lengthAdjust="spacingAndGlyphs" >Interception from Trochoid</text>
<line x1="1281" y1="957.5" x2="1315" y2="957.5" stroke="#008000" stroke-width="1.3"/>
<text x="1327.5" y="963.2" font-size="17.6" font-weight="normal" text-anchor="start" fill="#000" textLength="187.5" lengthAdjust="spacingAndGlyphs" >Interception from both</text>
<line x1="1279.5" y1="980.6" x2="1316.5" y2="980.6" stroke="#800080" stroke-width="4.0"/>
<text x="1327.5" y="986.6" font-size="17.6" font-weight="normal" text-anchor="start" fill="#000" textLength="43.5" lengthAdjust="spacingAndGlyphs" >HRES</text>
<line x1="1279.5" y1="1004.0" x2="1316.5" y2="1004.0" stroke="#000000" stroke-width="4.0"/>
<text x="1327.5" y="1010.0" font-size="17.6" font-weight="normal" text-anchor="start" fill="#000" textLength="202.5" lengthAdjust="spacingAndGlyphs" >Analysis | 238h duration</text>
<g transform="translate(1298.0,1029.1) scale(0.72)"><path d="M -4.6,-4.9 A 6.5 6.5 0 1 0 3.2,-5.7" fill="none" stroke="#000" stroke-width="3.2"/><path d="M 1.5,-8.4 L 9.9,-8.4 L 9.9,-5.0 L 5.4,-5.0 L 5.4,0.3 L 1.5,0.3 Z" fill="#000"/></g>
<text x="1327.5" y="1033.6" font-size="17.6" font-weight="normal" text-anchor="start" fill="#000" textLength="237.0" lengthAdjust="spacingAndGlyphs" >TC obs. for analysis duration</text>
<text x="11.5" y="316.0" font-size="22.8" font-weight="bold" text-anchor="start" fill="#000" stroke="#000" stroke-width="0.35" textLength="51" lengthAdjust="spacingAndGlyphs" >10°S</text>
<text x="11.5" y="544.5" font-size="22.8" font-weight="bold" text-anchor="start" fill="#000" stroke="#000" stroke-width="0.35" textLength="51" lengthAdjust="spacingAndGlyphs" >20°S</text>
<text x="11.5" y="787.8" font-size="22.8" font-weight="bold" text-anchor="start" fill="#000" stroke="#000" stroke-width="0.35" textLength="51" lengthAdjust="spacingAndGlyphs" >30°S</text>
<text x="274.5" y="1083.0" font-size="22.8" font-weight="bold" text-anchor="start" fill="#000" stroke="#000" stroke-width="0.35" textLength="51" lengthAdjust="spacingAndGlyphs" >40°E</text>
<text x="715.0" y="1083.0" font-size="22.8" font-weight="bold" text-anchor="start" fill="#000" stroke="#000" stroke-width="0.35" textLength="51" lengthAdjust="spacingAndGlyphs" >60°E</text>
<text x="1155.5" y="1083.0" font-size="22.8" font-weight="bold" text-anchor="start" fill="#000" stroke="#000" stroke-width="0.35" textLength="51" lengthAdjust="spacingAndGlyphs" >80°E</text>
<text x="1588.5" y="1083.0" font-size="22.8" font-weight="bold" text-anchor="start" fill="#000" stroke="#000" stroke-width="0.35" textLength="65" lengthAdjust="spacingAndGlyphs" >100°E</text>
<rect x="1665.5" y="910.07" width="20.2" height="29.13" fill="#e3eef9"/>
<rect x="1665.5" y="881.24" width="20.2" height="29.13" fill="#dceaf6"/>
<rect x="1665.5" y="852.41" width="20.2" height="29.13" fill="#d5e5f4"/>
<rect x="1665.5" y="823.58" width="20.2" height="29.13" fill="#cee0f2"/>
<rect x="1665.5" y="794.75" width="20.2" height="29.13" fill="#c7dcef"/>
<rect x="1665.5" y="765.92" width="20.2" height="29.13" fill="#bdd7ec"/>
<rect x="1665.5" y="737.08" width="20.2" height="29.13" fill="#b2d2e8"/>
<rect x="1665.5" y="708.25" width="20.2" height="29.13" fill="#a5cde3"/>
<rect x="1665.5" y="679.42" width="20.2" height="29.13" fill="#99c7e0"/>
<rect x="1665.5" y="650.59" width="20.2" height="29.13" fill="#8abfdd"/>
<rect x="1665.5" y="621.76" width="20.2" height="29.13" fill="#7cb7da"/>
<rect x="1665.5" y="592.93" width="20.2" height="29.13" fill="#6dafd7"/>
<rect x="1665.5" y="564.10" width="20.2" height="29.13" fill="#60a7d2"/>
<rect x="1665.5" y="535.27" width="20.2" height="29.13" fill="#549fcd"/>
<rect x="1665.5" y="506.44" width="20.2" height="29.13" fill="#4997c9"/>
<rect x="1665.5" y="477.61" width="20.2" height="29.13" fill="#3e8ec4"/>
<rect x="1665.5" y="448.78" width="20.2" height="29.13" fill="#3484bf"/>
<rect x="1665.5" y="419.95" width="20.2" height="29.13" fill="#2b7bba"/>
<rect x="1665.5" y="391.12" width="20.2" height="29.13" fill="#2171b5"/>
<rect x="1665.5" y="362.28" width="20.2" height="29.13" fill="#1a68ae"/>
<rect x="1665.5" y="333.45" width="20.2" height="29.13" fill="#135fa7"/>
<rect x="1665.5" y="304.62" width="20.2" height="29.13" fill="#0b559f"/>
<rect x="1665.5" y="275.79" width="20.2" height="29.13" fill="#084c95"/>
<rect x="1665.5" y="246.96" width="20.2" height="29.13" fill="#084387"/>
<rect x="1665.5" y="218.13" width="20.2" height="29.13" fill="#083979"/>
<rect x="1665.5" y="189.30" width="20.2" height="29.13" fill="#08306b"/>
<rect x="1665.5" y="189.3" width="20.2" height="749.6" fill="none" stroke="#000" stroke-width="1.1"/>
<line x1="1685.7" y1="938.9" x2="1690.7" y2="938.9" stroke="#000" stroke-width="1"/>
<text x="1694.8" y="944.8" font-size="14.4" font-weight="normal" text-anchor="start" fill="#000" textLength="8.2" lengthAdjust="spacingAndGlyphs" >0</text>
<line x1="1685.7" y1="794.7" x2="1690.7" y2="794.7" stroke="#000" stroke-width="1"/>
<text x="1694.8" y="800.6" font-size="14.4" font-weight="normal" text-anchor="start" fill="#000" textLength="17.0" lengthAdjust="spacingAndGlyphs" >10</text>
<line x1="1685.7" y1="650.6" x2="1690.7" y2="650.6" stroke="#000" stroke-width="1"/>
<text x="1694.8" y="656.5" font-size="14.4" font-weight="normal" text-anchor="start" fill="#000" textLength="17.0" lengthAdjust="spacingAndGlyphs" >20</text>
<line x1="1685.7" y1="506.4" x2="1690.7" y2="506.4" stroke="#000" stroke-width="1"/>
<text x="1694.8" y="512.3" font-size="14.4" font-weight="normal" text-anchor="start" fill="#000" textLength="17.0" lengthAdjust="spacingAndGlyphs" >30</text>
<line x1="1685.7" y1="362.3" x2="1690.7" y2="362.3" stroke="#000" stroke-width="1"/>
<text x="1694.8" y="368.2" font-size="14.4" font-weight="normal" text-anchor="start" fill="#000" textLength="17.0" lengthAdjust="spacingAndGlyphs" >40</text>
<line x1="1685.7" y1="218.1" x2="1690.7" y2="218.1" stroke="#000" stroke-width="1"/>
<text x="1694.8" y="224.0" font-size="14.4" font-weight="normal" text-anchor="start" fill="#000" textLength="17.0" lengthAdjust="spacingAndGlyphs" >50</text>
<text transform="translate(1737.5,930.5) rotate(-90)" x="0" y="0" font-size="19.4" font-weight="bold" stroke="#000" stroke-width="0.35" textLength="612.5" lengthAdjust="spacingAndGlyphs">Named cyclones forecast - Number of EPS within 120km</text>
<rect x="25.1" y="1137.0" width="1640.5" height="41.4" fill="#9e0142" stroke="#000" stroke-width="1.1"/>
<line x1="20" y1="1157.8" x2="25.1" y2="1157.8" stroke="#000" stroke-width="1"/>
<line x1="25.1" y1="1178.4" x2="25.1" y2="1183.4" stroke="#000" stroke-width="1"/>
<line x1="66.1" y1="1178.4" x2="66.1" y2="1183.4" stroke="#000" stroke-width="1"/>
<line x1="107.1" y1="1178.4" x2="107.1" y2="1183.4" stroke="#000" stroke-width="1"/>
<line x1="148.1" y1="1178.4" x2="148.1" y2="1183.4" stroke="#000" stroke-width="1"/>
<line x1="189.2" y1="1178.4" x2="189.2" y2="1183.4" stroke="#000" stroke-width="1"/>
<line x1="230.2" y1="1178.4" x2="230.2" y2="1183.4" stroke="#000" stroke-width="1"/>
<line x1="271.2" y1="1178.4" x2="271.2" y2="1183.4" stroke="#000" stroke-width="1"/>
<line x1="312.2" y1="1178.4" x2="312.2" y2="1183.4" stroke="#000" stroke-width="1"/>
<line x1="353.2" y1="1178.4" x2="353.2" y2="1183.4" stroke="#000" stroke-width="1"/>
<line x1="394.2" y1="1178.4" x2="394.2" y2="1183.4" stroke="#000" stroke-width="1"/>
<line x1="435.2" y1="1178.4" x2="435.2" y2="1183.4" stroke="#000" stroke-width="1"/>
<line x1="476.2" y1="1178.4" x2="476.2" y2="1183.4" stroke="#000" stroke-width="1"/>
<line x1="517.2" y1="1178.4" x2="517.2" y2="1183.4" stroke="#000" stroke-width="1"/>
<line x1="558.3" y1="1178.4" x2="558.3" y2="1183.4" stroke="#000" stroke-width="1"/>
<line x1="599.3" y1="1178.4" x2="599.3" y2="1183.4" stroke="#000" stroke-width="1"/>
<line x1="640.3" y1="1178.4" x2="640.3" y2="1183.4" stroke="#000" stroke-width="1"/>
<line x1="681.3" y1="1178.4" x2="681.3" y2="1183.4" stroke="#000" stroke-width="1"/>
<line x1="722.3" y1="1178.4" x2="722.3" y2="1183.4" stroke="#000" stroke-width="1"/>
<line x1="763.3" y1="1178.4" x2="763.3" y2="1183.4" stroke="#000" stroke-width="1"/>
<line x1="804.3" y1="1178.4" x2="804.3" y2="1183.4" stroke="#000" stroke-width="1"/>
<line x1="845.4" y1="1178.4" x2="845.4" y2="1183.4" stroke="#000" stroke-width="1"/>
<line x1="886.4" y1="1178.4" x2="886.4" y2="1183.4" stroke="#000" stroke-width="1"/>
<line x1="927.4" y1="1178.4" x2="927.4" y2="1183.4" stroke="#000" stroke-width="1"/>
<line x1="968.4" y1="1178.4" x2="968.4" y2="1183.4" stroke="#000" stroke-width="1"/>
<line x1="1009.4" y1="1178.4" x2="1009.4" y2="1183.4" stroke="#000" stroke-width="1"/>
<line x1="1050.4" y1="1178.4" x2="1050.4" y2="1183.4" stroke="#000" stroke-width="1"/>
<line x1="1091.4" y1="1178.4" x2="1091.4" y2="1183.4" stroke="#000" stroke-width="1"/>
<line x1="1132.4" y1="1178.4" x2="1132.4" y2="1183.4" stroke="#000" stroke-width="1"/>
<line x1="1173.5" y1="1178.4" x2="1173.5" y2="1183.4" stroke="#000" stroke-width="1"/>
<line x1="1214.5" y1="1178.4" x2="1214.5" y2="1183.4" stroke="#000" stroke-width="1"/>
<line x1="1255.5" y1="1178.4" x2="1255.5" y2="1183.4" stroke="#000" stroke-width="1"/>
<line x1="1296.5" y1="1178.4" x2="1296.5" y2="1183.4" stroke="#000" stroke-width="1"/>
<line x1="1337.5" y1="1178.4" x2="1337.5" y2="1183.4" stroke="#000" stroke-width="1"/>
<line x1="1378.5" y1="1178.4" x2="1378.5" y2="1183.4" stroke="#000" stroke-width="1"/>
<line x1="1419.5" y1="1178.4" x2="1419.5" y2="1183.4" stroke="#000" stroke-width="1"/>
<line x1="1460.5" y1="1178.4" x2="1460.5" y2="1183.4" stroke="#000" stroke-width="1"/>
<line x1="1501.5" y1="1178.4" x2="1501.5" y2="1183.4" stroke="#000" stroke-width="1"/>
<line x1="1542.6" y1="1178.4" x2="1542.6" y2="1183.4" stroke="#000" stroke-width="1"/>
<line x1="1583.6" y1="1178.4" x2="1583.6" y2="1183.4" stroke="#000" stroke-width="1"/>
<line x1="1624.6" y1="1178.4" x2="1624.6" y2="1183.4" stroke="#000" stroke-width="1"/>
<line x1="1665.6" y1="1178.4" x2="1665.6" y2="1183.4" stroke="#000" stroke-width="1"/>
<text x="14.4" y="1200.6" font-size="17.6" font-weight="bold" text-anchor="start" fill="#000" stroke="#000" stroke-width="0.35" textLength="21.5" lengthAdjust="spacingAndGlyphs" >0h</text>
<text x="173.2" y="1200.6" font-size="17.6" font-weight="bold" text-anchor="start" fill="#000" stroke="#000" stroke-width="0.35" textLength="32.0" lengthAdjust="spacingAndGlyphs" >12h</text>
<text x="337.2" y="1200.6" font-size="17.6" font-weight="bold" text-anchor="start" fill="#000" stroke="#000" stroke-width="0.35" textLength="32.0" lengthAdjust="spacingAndGlyphs" >24h</text>
<text x="501.2" y="1200.6" font-size="17.6" font-weight="bold" text-anchor="start" fill="#000" stroke="#000" stroke-width="0.35" textLength="32.0" lengthAdjust="spacingAndGlyphs" >36h</text>
<text x="665.3" y="1200.6" font-size="17.6" font-weight="bold" text-anchor="start" fill="#000" stroke="#000" stroke-width="0.35" textLength="32.0" lengthAdjust="spacingAndGlyphs" >48h</text>
<text x="829.4" y="1200.6" font-size="17.6" font-weight="bold" text-anchor="start" fill="#000" stroke="#000" stroke-width="0.35" textLength="32.0" lengthAdjust="spacingAndGlyphs" >60h</text>
<text x="993.4" y="1200.6" font-size="17.6" font-weight="bold" text-anchor="start" fill="#000" stroke="#000" stroke-width="0.35" textLength="32.0" lengthAdjust="spacingAndGlyphs" >72h</text>
<text x="1157.4" y="1200.6" font-size="17.6" font-weight="bold" text-anchor="start" fill="#000" stroke="#000" stroke-width="0.35" textLength="32.0" lengthAdjust="spacingAndGlyphs" >84h</text>
<text x="1321.5" y="1200.6" font-size="17.6" font-weight="bold" text-anchor="start" fill="#000" stroke="#000" stroke-width="0.35" textLength="32.0" lengthAdjust="spacingAndGlyphs" >96h</text>
<text x="1480.0" y="1200.6" font-size="17.6" font-weight="bold" text-anchor="start" fill="#000" stroke="#000" stroke-width="0.35" textLength="43.0" lengthAdjust="spacingAndGlyphs" >108h</text>
<text x="1644.1" y="1200.6" font-size="17.6" font-weight="bold" text-anchor="start" fill="#000" stroke="#000" stroke-width="0.35" textLength="43.0" lengthAdjust="spacingAndGlyphs" >120h</text>
<text x="550.5" y="1120.8" font-size="17.0" font-weight="bold" text-anchor="start" fill="#000" stroke="#000" stroke-width="0.35" textLength="628.5" lengthAdjust="spacingAndGlyphs" >Percentage of flying ballons within a TC as a function of flight time</text>
</svg></body></html>
